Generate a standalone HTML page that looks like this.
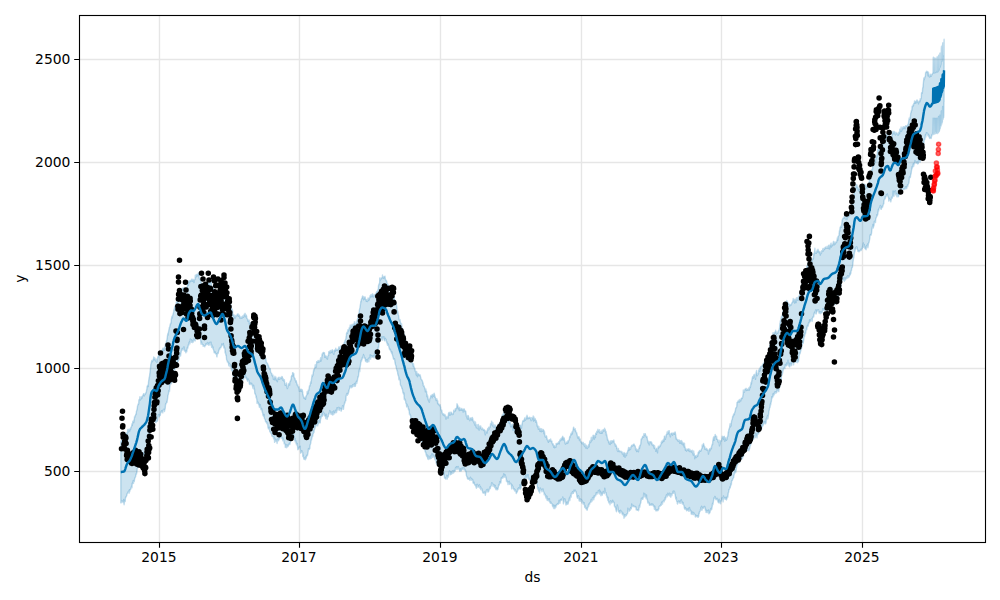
<!DOCTYPE html>
<html><head><meta charset="utf-8"><title>forecast</title>
<style>
html,body{margin:0;padding:0;background:#fff;}
svg{display:block}
text{font-family:"DejaVu Sans","Liberation Sans",sans-serif;font-size:13.89px;fill:#000}
</style></head><body>
<svg width="1000" height="600" viewBox="0 0 1000 600">
<rect width="1000" height="600" fill="#fff"/>
<path d="M159.50 15.5V542.5M299.50 15.5V542.5M440.50 15.5V542.5M581.50 15.5V542.5M721.50 15.5V542.5M862.50 15.5V542.5M79.5 59.50H985.5M79.5 162.50H985.5M79.5 265.50H985.5M79.5 368.50H985.5M79.5 471.50H985.5" stroke="#808080" stroke-opacity="0.2" stroke-width="1.39" fill="none"/>
<path d="M120.8 441.8L121.0 442.0L121.2 441.2L121.4 440.4L121.6 440.6L122.1 440.3L122.3 441.7L122.5 443.0L122.7 441.1L122.9 440.7L123.5 441.9L123.7 441.9L123.9 441.2L124.1 440.1L124.3 440.9L124.8 440.4L125.0 437.9L125.2 437.5L125.4 435.5L125.6 435.1L126.2 433.2L126.4 434.1L126.6 433.1L126.8 434.2L127.0 434.0L127.5 432.0L127.7 429.4L127.9 431.1L128.1 432.0L128.3 431.7L128.9 429.3L129.1 429.8L129.3 429.3L129.5 429.6L129.7 431.1L130.2 428.6L130.4 428.9L130.6 429.4L130.8 427.6L131.0 427.4L131.6 426.3L131.8 425.5L132.0 423.7L132.2 424.8L132.3 425.3L132.9 421.1L133.1 422.5L133.3 421.5L133.5 420.5L133.7 422.5L134.3 419.5L134.5 416.6L134.7 417.2L134.8 417.3L135.0 416.2L135.6 415.1L135.8 414.0L136.0 414.2L136.2 414.2L136.4 411.4L137.0 409.8L137.2 408.6L137.3 408.1L137.5 405.9L137.7 405.5L138.3 403.7L138.5 404.3L138.7 403.5L138.9 399.9L139.1 399.6L139.7 399.5L139.9 396.8L140.0 397.7L140.2 398.7L140.4 400.0L141.0 398.8L141.2 397.2L141.4 396.8L141.6 397.1L141.8 398.6L142.4 396.1L142.5 395.7L142.7 396.2L142.9 395.6L143.1 395.0L143.7 393.6L143.9 394.4L144.1 394.4L144.3 395.9L144.5 395.4L145.0 393.9L145.2 394.1L145.4 393.1L145.6 394.0L145.8 392.9L146.4 391.7L146.6 389.6L146.8 390.0L147.0 387.3L147.2 386.1L147.7 385.7L147.9 384.9L148.1 385.6L148.3 386.5L148.5 382.2L149.1 377.7L149.3 377.4L149.5 376.5L149.7 374.4L149.9 372.9L150.4 369.2L150.6 367.3L150.8 364.2L151.0 363.8L151.2 362.9L151.8 360.5L152.0 361.2L152.2 360.4L152.4 361.8L152.6 361.1L153.1 360.0L153.3 359.2L153.5 359.0L153.7 357.0L153.9 357.9L154.5 359.4L154.7 357.6L154.9 360.0L155.1 358.4L155.2 360.4L155.8 359.9L156.0 361.4L156.2 360.6L156.4 359.2L156.6 362.2L157.2 361.9L157.4 359.6L157.6 358.5L157.7 357.7L157.9 356.7L158.5 356.8L158.7 354.9L158.9 354.5L159.1 353.4L159.3 352.9L159.9 351.9L160.1 354.2L160.3 353.1L160.4 353.6L160.6 352.3L161.2 350.6L161.4 350.6L161.6 350.4L161.8 350.7L162.0 350.2L162.6 349.4L162.8 348.2L162.9 349.1L163.1 351.5L163.3 349.1L163.9 348.0L164.1 349.7L164.3 350.4L164.5 347.3L164.7 347.6L165.3 345.5L165.4 344.0L165.6 345.7L165.8 344.7L166.0 343.6L166.6 340.5L166.8 340.7L167.0 339.0L167.2 338.1L167.4 336.0L167.9 333.4L168.1 335.0L168.3 332.7L168.5 332.1L168.7 330.9L169.3 327.8L169.5 327.1L169.7 327.4L169.9 325.8L170.1 325.0L170.6 323.3L170.8 323.9L171.0 322.8L171.2 321.3L171.4 319.1L172.0 316.2L172.2 318.0L172.4 317.5L172.6 315.5L172.8 315.2L173.3 313.1L173.5 312.4L173.7 311.4L173.9 309.5L174.1 310.2L174.7 306.3L174.9 307.6L175.1 307.3L175.3 307.6L175.5 308.4L176.0 306.4L176.2 302.7L176.4 301.7L176.6 303.7L176.8 302.1L177.4 302.0L177.6 302.2L177.8 298.9L178.0 297.9L178.1 300.1L178.7 298.9L178.9 298.0L179.1 297.5L179.3 295.8L179.5 294.6L180.1 294.2L180.3 292.9L180.5 291.9L180.6 293.7L180.8 293.2L181.4 292.0L181.6 290.0L181.8 289.5L182.0 288.8L182.2 288.6L182.8 288.6L183.0 287.7L183.2 288.7L183.3 289.3L183.5 290.4L184.1 287.5L184.3 289.3L184.5 289.0L184.7 288.7L184.9 287.4L185.5 289.3L185.7 291.0L185.8 290.5L186.0 290.5L186.2 290.6L186.8 291.7L187.0 289.7L187.2 286.6L187.4 286.9L187.6 284.6L188.2 280.9L188.3 283.6L188.5 285.4L188.7 283.4L188.9 281.2L189.5 280.7L189.7 282.6L189.9 281.7L190.1 281.0L190.3 280.6L190.8 280.5L191.0 281.3L191.2 281.1L191.4 280.4L191.6 279.2L192.2 280.6L192.4 280.1L192.6 281.4L192.8 279.3L193.0 280.1L193.5 280.3L193.7 279.5L193.9 282.6L194.1 282.3L194.3 279.9L194.9 279.7L195.1 278.4L195.3 275.1L195.5 277.4L195.7 277.4L196.2 276.1L196.4 274.5L196.6 274.8L196.8 275.1L197.0 276.2L197.6 274.6L197.8 274.2L198.0 275.4L198.2 273.4L198.4 272.9L198.9 273.5L199.1 277.6L199.3 278.4L199.5 278.8L199.7 278.9L200.3 279.8L200.5 280.2L200.7 280.3L200.9 280.9L201.0 282.1L201.6 285.1L201.8 284.5L202.0 283.6L202.2 283.0L202.4 283.6L203.0 286.5L203.2 285.7L203.4 284.9L203.5 284.3L203.7 283.6L204.3 285.0L204.5 286.1L204.7 284.9L204.9 284.7L205.1 284.8L205.7 284.5L205.9 282.7L206.1 283.6L206.2 283.6L206.4 284.9L207.0 283.3L207.2 284.6L207.4 285.4L207.6 283.3L207.8 282.6L208.4 283.1L208.6 282.7L208.7 281.7L208.9 283.5L209.1 285.1L209.7 282.5L209.9 281.7L210.1 281.0L210.3 282.0L210.5 280.5L211.1 281.4L211.2 284.1L211.4 283.0L211.6 285.5L211.8 286.7L212.4 287.1L212.6 288.0L212.8 289.7L213.0 287.8L213.2 286.9L213.7 287.5L213.9 289.8L214.1 292.2L214.3 291.9L214.5 289.9L215.1 290.8L215.3 291.8L215.5 293.0L215.7 293.0L215.9 293.6L216.4 294.0L216.6 293.4L216.8 293.5L217.0 293.6L217.2 293.2L217.8 293.2L218.0 294.3L218.2 292.5L218.4 290.7L218.6 288.6L219.1 289.0L219.3 286.5L219.5 286.7L219.7 289.1L219.9 288.9L220.5 286.1L220.7 284.0L220.9 284.7L221.1 284.6L221.3 286.1L221.8 287.0L222.0 284.6L222.2 282.6L222.4 282.1L222.6 283.3L223.2 284.0L223.4 283.6L223.6 285.1L223.8 285.1L223.9 288.2L224.5 290.6L224.7 290.9L224.9 290.1L225.1 291.6L225.3 291.9L225.9 294.5L226.1 295.2L226.3 294.9L226.4 296.0L226.6 299.1L227.2 300.2L227.4 301.1L227.6 301.8L227.8 299.3L228.0 300.3L228.6 302.6L228.8 303.1L229.0 302.9L229.1 304.4L229.3 303.7L229.9 302.9L230.1 303.7L230.3 306.2L230.5 306.1L230.7 304.4L231.3 309.0L231.5 309.6L231.6 310.4L231.8 309.1L232.0 309.0L232.6 311.0L232.8 315.2L233.0 314.1L233.2 315.7L233.4 314.5L234.0 316.1L234.1 314.9L234.3 316.5L234.5 318.0L234.7 316.2L235.3 318.1L235.5 317.3L235.7 315.5L235.9 315.7L236.1 315.9L236.6 315.9L236.8 315.2L237.0 314.8L237.2 315.0L237.4 314.2L238.0 313.9L238.2 315.6L238.4 316.4L238.6 314.2L238.8 315.4L239.3 315.3L239.5 315.4L239.7 317.3L239.9 316.8L240.1 318.5L240.7 317.0L240.9 317.7L241.1 317.3L241.3 316.9L241.5 318.2L242.0 317.7L242.2 318.1L242.4 317.2L242.6 315.9L242.8 316.7L243.4 316.9L243.6 317.4L243.8 315.4L244.0 315.4L244.2 314.1L244.7 315.8L244.9 314.1L245.1 313.3L245.3 315.6L245.5 316.9L246.1 315.0L246.3 315.3L246.5 316.1L246.7 316.6L246.8 318.4L247.4 318.8L247.6 319.3L247.8 320.9L248.0 320.3L248.2 321.4L248.8 320.6L249.0 320.0L249.2 320.3L249.3 324.1L249.5 322.7L250.1 323.1L250.3 323.1L250.5 323.3L250.7 323.8L250.9 325.3L251.5 322.5L251.7 321.4L251.9 322.0L252.0 322.5L252.2 325.1L252.8 326.2L253.0 324.4L253.2 324.2L253.4 326.4L253.6 328.3L254.2 326.7L254.4 330.0L254.5 330.2L254.7 332.5L254.9 331.4L255.5 333.6L255.7 333.2L255.9 334.9L256.1 338.5L256.3 338.9L256.9 339.3L257.0 338.8L257.2 338.4L257.4 340.6L257.6 341.8L258.2 342.9L258.4 343.0L258.6 342.3L258.8 343.6L259.0 344.5L259.5 347.1L259.7 347.9L259.9 345.8L260.1 345.0L260.3 345.9L260.9 346.7L261.1 347.0L261.3 348.1L261.5 348.0L261.7 350.2L262.2 351.6L262.4 352.3L262.6 352.4L262.8 352.1L263.0 352.5L263.6 354.9L263.8 355.5L264.0 356.8L264.2 356.8L264.4 356.0L264.9 358.4L265.1 357.7L265.3 358.7L265.5 359.3L265.7 358.2L266.3 361.7L266.5 362.6L266.7 362.6L266.9 362.6L267.1 362.9L267.6 363.6L267.8 364.6L268.0 365.0L268.2 365.8L268.4 365.2L269.0 367.6L269.2 368.2L269.4 368.1L269.6 368.3L269.7 369.3L270.3 368.7L270.5 371.2L270.7 372.0L270.9 372.5L271.1 372.9L271.7 373.3L271.9 374.1L272.1 375.6L272.3 375.9L272.4 375.5L273.0 375.1L273.2 377.7L273.4 379.3L273.6 379.4L273.8 378.3L274.4 377.3L274.6 379.7L274.8 378.6L274.9 376.2L275.1 378.6L275.7 377.2L275.9 377.1L276.1 378.4L276.3 380.5L276.5 379.2L277.1 379.9L277.3 381.8L277.4 381.5L277.6 379.4L277.8 378.6L278.4 377.3L278.6 377.9L278.8 379.3L279.0 379.3L279.2 379.0L279.8 379.0L279.9 377.1L280.1 377.5L280.3 378.5L280.5 378.5L281.1 378.7L281.3 378.0L281.5 377.3L281.7 377.8L281.9 376.4L282.4 377.0L282.6 379.7L282.8 380.0L283.0 380.2L283.2 378.7L283.8 380.8L284.0 381.1L284.2 380.7L284.4 379.8L284.6 382.4L285.1 385.2L285.3 385.0L285.5 384.2L285.7 385.1L285.9 385.6L286.5 382.9L286.7 385.4L286.9 387.0L287.1 387.6L287.3 388.6L287.8 387.5L288.0 386.1L288.2 385.7L288.4 385.6L288.6 383.9L289.2 383.3L289.4 384.5L289.6 385.1L289.8 382.5L290.0 381.7L290.5 380.6L290.7 381.1L290.9 379.5L291.1 379.6L291.3 376.7L291.9 375.3L292.1 375.3L292.3 376.1L292.5 375.7L292.6 372.6L293.2 372.9L293.4 374.5L293.6 373.8L293.8 373.6L294.0 376.8L294.6 378.5L294.8 378.7L295.0 378.4L295.2 380.1L295.3 379.8L295.9 382.1L296.1 380.6L296.3 381.0L296.5 382.6L296.7 382.6L297.3 385.4L297.5 385.4L297.7 384.6L297.8 385.7L298.0 386.1L298.6 387.9L298.8 386.6L299.0 387.1L299.2 389.6L299.4 391.4L300.0 391.4L300.2 389.3L300.3 389.5L300.5 390.9L300.7 389.3L301.3 389.1L301.5 390.7L301.7 391.5L301.9 390.3L302.1 389.6L302.7 391.9L302.8 394.7L303.0 394.3L303.2 395.3L303.4 396.6L304.0 398.3L304.2 397.8L304.4 398.5L304.6 397.5L304.8 397.7L305.3 397.5L305.5 399.3L305.7 398.0L305.9 396.5L306.1 396.3L306.7 395.0L306.9 394.9L307.1 391.8L307.3 391.4L307.5 392.4L308.0 393.8L308.2 391.8L308.4 389.7L308.6 390.1L308.8 390.7L309.4 386.4L309.6 385.4L309.8 386.4L310.0 385.3L310.2 384.4L310.7 381.6L310.9 383.5L311.1 383.0L311.3 380.9L311.5 379.4L312.1 374.9L312.3 376.5L312.5 375.7L312.7 375.6L312.9 375.2L313.4 371.8L313.6 369.8L313.8 371.1L314.0 369.8L314.2 369.4L314.8 367.4L315.0 366.6L315.2 364.7L315.4 367.6L315.5 367.0L316.1 366.7L316.3 367.1L316.5 364.3L316.7 361.6L316.9 361.9L317.5 361.4L317.7 362.2L317.9 362.4L318.1 360.5L318.2 362.2L318.8 360.7L319.0 362.1L319.2 361.9L319.4 361.4L319.6 361.4L320.2 360.1L320.4 359.2L320.6 357.8L320.7 359.3L320.9 361.4L321.5 359.6L321.7 357.9L321.9 356.0L322.1 354.0L322.3 355.3L322.9 353.0L323.1 352.5L323.2 352.4L323.4 352.8L323.6 352.5L324.2 353.3L324.4 352.7L324.6 354.3L324.8 357.4L325.0 355.6L325.6 356.0L325.7 357.3L325.9 357.5L326.1 355.9L326.3 357.0L326.9 358.8L327.1 358.3L327.3 358.2L327.5 359.0L327.7 356.5L328.3 355.2L328.4 354.7L328.6 355.4L328.8 351.6L329.0 351.8L329.6 351.4L329.8 352.6L330.0 353.0L330.2 353.1L330.4 350.4L330.9 352.4L331.1 351.7L331.3 351.4L331.5 352.5L331.7 350.8L332.3 349.7L332.5 351.3L332.7 350.6L332.9 351.6L333.1 353.1L333.6 353.4L333.8 354.4L334.0 352.1L334.2 350.1L334.4 350.5L335.0 349.9L335.2 349.7L335.4 351.1L335.6 349.7L335.8 348.3L336.3 350.3L336.5 349.9L336.7 350.0L336.9 349.8L337.1 350.1L337.7 349.4L337.9 350.4L338.1 349.6L338.3 349.3L338.4 348.8L339.0 346.7L339.2 347.7L339.4 348.0L339.6 348.1L339.8 347.1L340.4 349.8L340.6 348.4L340.8 346.2L341.0 345.6L341.1 347.2L341.7 347.5L341.9 346.9L342.1 347.4L342.3 346.9L342.5 347.6L343.1 345.6L343.3 346.0L343.5 347.4L343.6 348.2L343.8 344.0L344.4 342.2L344.6 341.8L344.8 342.6L345.0 340.4L345.2 340.3L345.8 339.0L346.0 337.3L346.1 336.5L346.3 335.9L346.5 333.6L347.1 332.1L347.3 333.0L347.5 333.2L347.7 331.9L347.9 329.7L348.5 329.8L348.6 331.1L348.8 330.5L349.0 329.0L349.2 327.8L349.8 327.9L350.0 326.3L350.2 325.0L350.4 325.6L350.6 327.8L351.2 326.5L351.3 326.7L351.5 325.2L351.7 326.0L351.9 324.5L352.5 325.0L352.7 327.7L352.9 325.9L353.1 324.0L353.3 324.2L353.8 324.8L354.0 325.5L354.2 323.2L354.4 321.6L354.6 323.0L355.2 323.4L355.4 323.7L355.6 324.8L355.8 323.9L356.0 323.5L356.5 320.9L356.7 322.6L356.9 323.6L357.1 321.6L357.3 319.9L357.9 317.7L358.1 318.1L358.3 314.6L358.5 314.2L358.7 314.3L359.2 311.8L359.4 309.8L359.6 309.3L359.8 308.0L360.0 307.2L360.6 303.4L360.8 301.3L361.0 301.7L361.2 301.7L361.4 299.2L361.9 298.2L362.1 298.6L362.3 296.6L362.5 297.0L362.7 296.0L363.3 297.9L363.5 299.8L363.7 299.2L363.9 296.7L364.0 297.3L364.6 297.4L364.8 297.9L365.0 299.2L365.2 297.0L365.4 299.2L366.0 299.8L366.2 301.2L366.4 300.2L366.5 299.4L366.7 300.6L367.3 301.6L367.5 301.1L367.7 301.1L367.9 299.5L368.1 297.9L368.7 300.2L368.9 300.2L369.0 299.1L369.2 298.7L369.4 299.1L370.0 296.3L370.2 295.5L370.4 296.1L370.6 297.0L370.8 294.8L371.4 296.5L371.5 294.9L371.7 294.4L371.9 296.7L372.1 295.4L372.7 293.8L372.9 294.9L373.1 296.8L373.3 297.0L373.5 295.3L374.1 295.9L374.2 296.1L374.4 294.8L374.6 295.5L374.8 295.2L375.4 294.1L375.6 293.9L375.8 294.3L376.0 293.8L376.2 292.7L376.7 291.5L376.9 292.6L377.1 291.5L377.3 291.6L377.5 291.5L378.1 289.1L378.3 289.3L378.5 285.5L378.7 285.5L378.9 284.2L379.4 283.9L379.6 282.7L379.8 277.9L380.0 278.2L380.2 280.1L380.8 279.6L381.0 279.1L381.2 278.0L381.4 278.2L381.6 278.3L382.1 277.5L382.3 277.8L382.5 275.0L382.7 277.2L382.9 276.5L383.5 278.3L383.7 277.3L383.9 276.6L384.1 277.8L384.3 276.6L384.8 276.5L385.0 276.2L385.2 278.2L385.4 279.5L385.6 280.1L386.2 280.1L386.4 281.4L386.6 280.9L386.8 281.2L386.9 282.7L387.5 284.8L387.7 283.8L387.9 284.1L388.1 284.7L388.3 285.2L388.9 286.0L389.1 288.1L389.3 287.6L389.4 288.4L389.6 287.8L390.2 290.3L390.4 290.8L390.6 290.9L390.8 293.7L391.0 293.1L391.6 295.3L391.8 294.6L391.9 292.9L392.1 293.4L392.3 294.7L392.9 295.5L393.1 295.8L393.3 295.4L393.5 294.4L393.7 295.9L394.3 296.4L394.4 299.4L394.6 299.5L394.8 300.1L395.0 301.5L395.6 304.0L395.8 302.7L396.0 302.9L396.2 304.1L396.4 304.2L397.0 308.2L397.1 311.7L397.3 310.4L397.5 312.0L397.7 311.2L398.3 314.7L398.5 315.1L398.7 316.1L398.9 317.9L399.1 319.7L399.6 320.0L399.8 319.8L400.0 319.5L400.2 321.5L400.4 321.8L401.0 324.6L401.2 325.0L401.4 326.6L401.6 323.7L401.8 325.8L402.3 329.4L402.5 328.9L402.7 328.9L402.9 329.8L403.1 329.7L403.7 334.0L403.9 337.5L404.1 336.7L404.3 334.4L404.5 335.0L405.0 338.3L405.2 340.4L405.4 339.4L405.6 340.2L405.8 342.9L406.4 345.0L406.6 344.0L406.8 343.2L407.0 343.3L407.2 344.3L407.7 344.6L407.9 347.7L408.1 347.4L408.3 349.1L408.5 351.2L409.1 351.5L409.3 349.6L409.5 352.2L409.7 353.3L409.8 351.8L410.4 353.8L410.6 355.2L410.8 355.3L411.0 358.5L411.2 355.8L411.8 358.9L412.0 360.9L412.2 361.9L412.3 363.0L412.5 363.7L413.1 365.1L413.3 366.3L413.5 363.8L413.7 365.9L413.9 366.3L414.5 368.6L414.7 369.1L414.8 368.3L415.0 369.1L415.2 371.2L415.8 371.8L416.0 371.5L416.2 374.9L416.4 375.2L416.6 371.5L417.2 373.9L417.4 376.8L417.5 375.3L417.7 374.3L417.9 373.8L418.5 373.9L418.7 374.3L418.9 374.5L419.1 375.9L419.3 375.0L419.9 375.1L420.0 374.7L420.2 375.9L420.4 375.7L420.6 376.9L421.2 379.4L421.4 379.3L421.6 379.7L421.8 380.0L422.0 380.1L422.5 381.5L422.7 382.2L422.9 383.6L423.1 382.9L423.3 385.7L423.9 386.5L424.1 386.0L424.3 386.7L424.5 387.3L424.7 388.6L425.2 389.8L425.4 391.9L425.6 390.2L425.8 388.9L426.0 390.6L426.6 391.7L426.8 394.6L427.0 396.8L427.2 396.6L427.4 394.8L427.9 396.9L428.1 400.0L428.3 399.1L428.5 398.8L428.7 400.5L429.3 402.2L429.5 400.8L429.7 399.0L429.9 398.8L430.1 398.7L430.6 396.4L430.8 395.6L431.0 396.2L431.2 395.3L431.4 395.8L432.0 396.1L432.2 397.8L432.4 394.5L432.6 394.4L432.7 394.6L433.3 395.5L433.5 396.2L433.7 394.6L433.9 393.8L434.1 393.2L434.7 395.2L434.9 397.4L435.1 397.4L435.2 396.6L435.4 397.6L436.0 399.7L436.2 400.6L436.4 399.9L436.6 400.0L436.8 398.8L437.4 400.9L437.6 403.8L437.7 400.7L437.9 402.4L438.1 403.8L438.7 404.1L438.9 403.9L439.1 405.1L439.3 405.6L439.5 405.4L440.1 404.7L440.3 406.5L440.4 406.5L440.6 407.2L440.8 408.7L441.4 410.5L441.6 411.0L441.8 410.2L442.0 412.0L442.2 413.1L442.8 414.6L442.9 414.9L443.1 413.6L443.3 413.9L443.5 415.0L444.1 414.2L444.3 415.7L444.5 415.6L444.7 415.6L444.9 414.5L445.4 416.0L445.6 417.6L445.8 419.0L446.0 419.1L446.2 417.8L446.8 416.9L447.0 416.3L447.2 417.2L447.4 416.8L447.6 417.7L448.1 418.1L448.3 415.6L448.5 413.3L448.7 413.3L448.9 412.5L449.5 412.7L449.7 415.3L449.9 414.0L450.1 412.1L450.3 414.3L450.8 414.8L451.0 412.9L451.2 412.1L451.4 412.5L451.6 413.3L452.2 413.8L452.4 414.5L452.6 414.6L452.8 414.5L453.0 414.5L453.5 412.8L453.7 410.2L453.9 411.3L454.1 411.8L454.3 411.2L454.9 411.2L455.1 409.5L455.3 408.6L455.5 410.7L455.6 409.8L456.2 408.1L456.4 408.6L456.6 408.5L456.8 406.8L457.0 403.7L457.6 405.3L457.8 406.0L458.0 405.9L458.1 407.6L458.3 408.8L458.9 407.5L459.1 407.4L459.3 410.6L459.5 408.4L459.7 407.4L460.3 409.5L460.5 409.9L460.6 409.1L460.8 410.3L461.0 409.1L461.6 408.4L461.8 409.7L462.0 410.2L462.2 408.9L462.4 409.5L463.0 409.7L463.2 412.1L463.3 409.1L463.5 410.2L463.7 409.0L464.3 408.9L464.5 410.1L464.7 410.9L464.9 411.6L465.1 410.8L465.7 411.1L465.8 411.8L466.0 413.7L466.2 414.9L466.4 416.3L467.0 417.2L467.2 418.3L467.4 419.1L467.6 417.5L467.8 415.5L468.3 415.7L468.5 416.3L468.7 419.3L468.9 417.7L469.1 419.5L469.7 419.6L469.9 420.7L470.1 419.8L470.3 418.3L470.5 418.0L471.0 418.5L471.2 418.5L471.4 417.9L471.6 418.8L471.8 420.1L472.4 417.4L472.6 418.9L472.8 418.6L473.0 420.1L473.2 421.3L473.7 421.9L473.9 422.5L474.1 421.1L474.3 423.7L474.5 423.1L475.1 425.2L475.3 424.6L475.5 422.0L475.7 423.9L475.9 426.1L476.4 427.9L476.6 426.7L476.8 426.0L477.0 424.8L477.2 427.9L477.8 428.7L478.0 426.7L478.2 425.6L478.4 424.5L478.5 427.6L479.1 430.1L479.3 428.4L479.5 428.4L479.7 427.3L479.9 426.0L480.5 428.0L480.7 426.0L480.9 426.9L481.0 428.2L481.2 429.1L481.8 429.6L482.0 429.5L482.2 428.3L482.4 428.0L482.6 429.7L483.2 429.9L483.4 429.3L483.5 429.6L483.7 430.5L483.9 429.4L484.5 430.0L484.7 430.4L484.9 432.6L485.1 433.7L485.3 434.8L485.9 431.0L486.1 431.3L486.2 433.0L486.4 431.8L486.6 431.7L487.2 433.0L487.4 430.6L487.6 428.8L487.8 428.5L488.0 430.2L488.6 429.4L488.7 427.2L488.9 427.4L489.1 429.1L489.3 428.9L489.9 426.6L490.1 427.4L490.3 426.6L490.5 423.7L490.7 424.6L491.2 424.6L491.4 422.9L491.6 421.1L491.8 423.0L492.0 424.9L492.6 425.4L492.8 422.5L493.0 426.5L493.2 424.0L493.4 425.8L493.9 427.4L494.1 427.2L494.3 426.1L494.5 425.0L494.7 426.8L495.3 426.0L495.5 425.1L495.7 430.8L495.9 430.1L496.1 430.4L496.6 428.4L496.8 430.6L497.0 431.4L497.2 430.9L497.4 428.6L498.0 426.2L498.2 426.3L498.4 423.8L498.6 423.9L498.8 425.4L499.3 423.1L499.5 423.2L499.7 423.5L499.9 425.2L500.1 424.0L500.7 421.0L500.9 421.2L501.1 418.9L501.3 418.8L501.4 419.3L502.0 415.8L502.2 415.6L502.4 414.5L502.6 415.9L502.8 417.0L503.4 413.7L503.6 413.8L503.8 412.5L503.9 411.8L504.1 412.3L504.7 416.3L504.9 417.9L505.1 415.9L505.3 414.7L505.5 416.3L506.1 417.2L506.3 418.7L506.4 418.9L506.6 419.3L506.8 419.9L507.4 420.0L507.6 420.0L507.8 419.1L508.0 420.3L508.2 420.1L508.8 421.8L509.0 421.6L509.1 423.0L509.3 423.4L509.5 421.6L510.1 422.3L510.3 422.9L510.5 425.3L510.7 426.8L510.9 425.9L511.5 425.3L511.6 426.6L511.8 424.5L512.0 427.0L512.2 424.9L512.8 424.1L513.0 430.2L513.2 430.0L513.4 427.3L513.6 428.3L514.1 429.4L514.3 429.6L514.5 428.4L514.7 429.5L514.9 431.3L515.5 432.2L515.7 433.1L515.9 432.7L516.1 434.3L516.3 431.5L516.8 431.0L517.0 428.6L517.2 429.3L517.4 431.7L517.6 429.8L518.2 430.0L518.4 429.1L518.6 427.6L518.8 427.8L519.0 427.5L519.5 426.9L519.7 428.0L519.9 427.6L520.1 425.8L520.3 425.1L520.9 425.5L521.1 425.4L521.3 426.8L521.5 428.3L521.7 426.0L522.2 423.6L522.4 422.7L522.6 421.6L522.8 421.0L523.0 420.7L523.6 420.5L523.8 420.6L524.0 421.4L524.2 420.1L524.3 419.4L524.9 417.8L525.1 420.2L525.3 419.5L525.5 420.1L525.7 419.0L526.3 418.2L526.5 416.3L526.7 417.3L526.8 418.8L527.0 415.2L527.6 417.6L527.8 418.7L528.0 417.6L528.2 418.1L528.4 418.6L529.0 417.5L529.2 418.2L529.4 417.2L529.5 417.3L529.7 417.7L530.3 418.4L530.5 418.9L530.7 418.8L530.9 417.4L531.1 420.8L531.7 420.3L531.9 419.1L532.0 417.7L532.2 417.8L532.4 418.6L533.0 417.9L533.2 416.0L533.4 419.0L533.6 421.1L533.8 416.7L534.4 419.3L534.5 419.4L534.7 419.2L534.9 420.5L535.1 418.4L535.7 420.5L535.9 422.3L536.1 420.9L536.3 420.7L536.5 421.7L537.0 423.8L537.2 426.2L537.4 425.0L537.6 426.8L537.8 425.9L538.4 429.4L538.6 428.7L538.8 426.4L539.0 428.7L539.2 428.3L539.7 429.3L539.9 431.2L540.1 428.4L540.3 428.5L540.5 431.2L541.1 430.6L541.3 431.7L541.5 430.3L541.7 428.7L541.9 429.7L542.4 431.4L542.6 431.2L542.8 430.0L543.0 429.7L543.2 429.5L543.8 430.6L544.0 433.7L544.2 432.3L544.4 431.2L544.6 432.8L545.1 436.5L545.3 437.1L545.5 436.6L545.7 436.3L545.9 437.0L546.5 435.8L546.7 436.6L546.9 439.1L547.1 438.4L547.2 439.5L547.8 441.0L548.0 440.5L548.2 440.2L548.4 442.4L548.6 441.0L549.2 440.0L549.4 441.1L549.6 440.8L549.7 439.6L549.9 440.5L550.5 440.6L550.7 439.0L550.9 441.0L551.1 441.5L551.3 441.3L551.9 441.0L552.1 442.7L552.3 443.8L552.4 444.0L552.6 443.3L553.2 445.5L553.4 444.2L553.6 445.6L553.8 447.4L554.0 445.6L554.6 446.1L554.8 447.8L554.9 446.4L555.1 446.3L555.3 447.1L555.9 447.1L556.1 443.5L556.3 444.1L556.5 444.0L556.7 443.7L557.3 443.2L557.4 443.3L557.6 444.1L557.8 442.9L558.0 443.6L558.6 443.0L558.8 441.6L559.0 442.4L559.2 443.9L559.4 442.1L559.9 440.0L560.1 440.1L560.3 439.2L560.5 440.4L560.7 440.7L561.3 438.2L561.5 438.6L561.7 439.8L561.9 438.1L562.1 438.0L562.6 436.4L562.8 436.3L563.0 437.4L563.2 440.1L563.4 437.8L564.0 437.7L564.2 438.1L564.4 439.2L564.6 440.5L564.8 441.1L565.3 444.0L565.5 443.0L565.7 444.1L565.9 443.5L566.1 443.4L566.7 442.0L566.9 443.1L567.1 443.5L567.3 442.8L567.5 441.0L568.0 443.0L568.2 441.8L568.4 441.0L568.6 440.8L568.8 440.5L569.4 439.1L569.6 436.8L569.8 436.5L570.0 437.5L570.1 436.9L570.7 434.7L570.9 433.9L571.1 433.3L571.3 434.1L571.5 434.8L572.1 431.8L572.3 433.8L572.5 432.9L572.6 431.1L572.8 431.3L573.4 428.0L573.6 427.1L573.8 427.6L574.0 428.8L574.2 429.1L574.8 429.6L575.0 430.1L575.2 428.6L575.3 431.1L575.5 430.1L576.1 432.1L576.3 432.9L576.5 432.5L576.7 432.7L576.9 433.8L577.5 436.6L577.7 438.0L577.8 438.0L578.0 436.5L578.2 436.6L578.8 437.5L579.0 438.6L579.2 437.0L579.4 440.1L579.6 439.0L580.2 439.0L580.3 440.6L580.5 441.7L580.7 441.4L580.9 442.0L581.5 441.9L581.7 443.2L581.9 443.4L582.1 442.4L582.3 443.8L582.8 443.4L583.0 443.1L583.2 442.3L583.4 443.4L583.6 444.7L584.2 443.9L584.4 446.0L584.6 446.4L584.8 446.0L585.0 443.8L585.5 446.7L585.7 448.0L585.9 446.9L586.1 447.1L586.3 445.3L586.9 448.2L587.1 447.8L587.3 448.5L587.5 446.1L587.7 448.0L588.2 446.7L588.4 446.8L588.6 444.6L588.8 444.7L589.0 446.9L589.6 442.3L589.8 441.3L590.0 441.1L590.2 440.4L590.4 442.5L590.9 442.0L591.1 438.7L591.3 437.3L591.5 440.3L591.7 440.7L592.3 439.8L592.5 439.5L592.7 437.2L592.9 437.0L593.0 435.5L593.6 435.3L593.8 437.6L594.0 436.8L594.2 439.2L594.4 436.9L595.0 435.2L595.2 436.7L595.4 437.6L595.5 435.5L595.7 433.2L596.3 433.6L596.5 434.3L596.7 431.9L596.9 431.1L597.1 432.6L597.7 431.0L597.9 429.3L598.1 429.8L598.2 429.8L598.4 431.0L599.0 431.5L599.2 432.7L599.4 432.0L599.6 429.8L599.8 431.9L600.4 433.3L600.6 433.1L600.7 433.4L600.9 431.7L601.1 431.4L601.7 433.3L601.9 431.1L602.1 430.1L602.3 433.1L602.5 431.9L603.1 431.2L603.2 429.9L603.4 429.5L603.6 429.7L603.8 430.7L604.4 430.7L604.6 428.3L604.8 430.7L605.0 429.2L605.2 429.4L605.7 432.2L605.9 431.9L606.1 431.5L606.3 435.1L606.5 433.8L607.1 436.7L607.3 438.0L607.5 439.8L607.7 438.9L607.9 440.4L608.4 440.8L608.6 442.4L608.8 440.9L609.0 441.6L609.2 444.0L609.8 442.6L610.0 442.5L610.2 444.5L610.4 442.5L610.6 441.0L611.1 442.1L611.3 440.8L611.5 443.1L611.7 443.3L611.9 441.2L612.5 440.8L612.7 441.8L612.9 441.5L613.1 440.7L613.3 441.7L613.8 440.0L614.0 441.5L614.2 442.4L614.4 443.1L614.6 443.9L615.2 444.0L615.4 446.1L615.6 445.9L615.8 445.5L615.9 444.9L616.5 446.5L616.7 448.3L616.9 447.6L617.1 448.9L617.3 450.5L617.9 451.2L618.1 451.4L618.3 449.2L618.4 448.4L618.6 450.6L619.2 450.8L619.4 451.3L619.6 450.6L619.8 451.7L620.0 451.7L620.6 451.6L620.8 451.4L621.0 451.3L621.1 451.2L621.3 451.6L621.9 452.7L622.1 451.9L622.3 454.0L622.5 452.9L622.7 453.7L623.3 453.5L623.5 453.8L623.6 456.1L623.8 453.9L624.0 452.4L624.6 453.3L624.8 454.7L625.0 457.3L625.2 455.7L625.4 455.5L626.0 453.3L626.1 454.3L626.3 455.1L626.5 455.7L626.7 453.0L627.3 453.0L627.5 452.3L627.7 450.6L627.9 451.0L628.1 450.1L628.6 447.5L628.8 450.2L629.0 450.3L629.2 448.7L629.4 447.8L630.0 449.7L630.2 448.9L630.4 449.2L630.6 449.1L630.8 446.9L631.3 446.8L631.5 445.7L631.7 445.4L631.9 445.2L632.1 445.4L632.7 446.1L632.9 445.1L633.1 444.5L633.3 444.5L633.5 444.9L634.0 444.1L634.2 444.6L634.4 445.3L634.6 445.2L634.8 445.7L635.4 446.8L635.6 449.9L635.8 449.8L636.0 448.8L636.2 448.8L636.7 451.6L636.9 450.0L637.1 449.3L637.3 449.9L637.5 450.4L638.1 451.5L638.3 450.5L638.5 451.7L638.7 448.7L638.8 449.0L639.4 446.5L639.6 448.3L639.8 445.8L640.0 445.2L640.2 445.8L640.8 443.7L641.0 440.4L641.2 439.8L641.4 438.6L641.5 439.5L642.1 438.3L642.3 437.5L642.5 436.8L642.7 436.6L642.9 436.2L643.5 436.9L643.7 437.3L643.9 433.6L644.0 434.6L644.2 434.7L644.8 435.0L645.0 433.6L645.2 434.1L645.4 433.8L645.6 435.7L646.2 436.4L646.4 436.5L646.5 437.4L646.7 437.0L646.9 436.3L647.5 440.1L647.7 440.7L647.9 440.9L648.1 442.7L648.3 443.1L648.9 441.4L649.0 441.9L649.2 444.9L649.4 444.9L649.6 442.3L650.2 441.7L650.4 442.3L650.6 442.4L650.8 441.6L651.0 443.0L651.5 442.1L651.7 442.5L651.9 444.7L652.1 443.6L652.3 444.2L652.9 445.6L653.1 445.8L653.3 444.8L653.5 444.9L653.7 444.9L654.2 448.3L654.4 447.5L654.6 445.8L654.8 447.2L655.0 448.6L655.6 449.7L655.8 451.4L656.0 451.0L656.2 448.9L656.4 448.8L656.9 448.2L657.1 449.7L657.3 450.6L657.5 452.9L657.7 449.7L658.3 446.3L658.5 447.4L658.7 448.1L658.9 446.5L659.1 446.4L659.6 446.4L659.8 446.9L660.0 445.9L660.2 445.0L660.4 446.1L661.0 443.9L661.2 443.0L661.4 441.8L661.6 442.3L661.7 443.3L662.3 440.4L662.5 441.6L662.7 442.3L662.9 441.0L663.1 440.8L663.7 439.0L663.9 441.2L664.1 441.0L664.3 439.1L664.4 436.3L665.0 436.2L665.2 438.7L665.4 439.3L665.6 437.7L665.8 437.5L666.4 434.4L666.6 434.1L666.8 434.1L666.9 433.8L667.1 431.9L667.7 433.9L667.9 434.2L668.1 431.3L668.3 430.9L668.5 432.7L669.1 432.0L669.3 430.7L669.4 434.0L669.6 434.1L669.8 434.0L670.4 436.9L670.6 435.1L670.8 433.8L671.0 434.4L671.2 433.3L671.8 433.1L671.9 434.1L672.1 433.0L672.3 433.2L672.5 435.3L673.1 434.0L673.3 433.4L673.5 432.9L673.7 432.9L673.9 433.6L674.4 432.9L674.6 434.4L674.8 432.1L675.0 432.4L675.2 432.1L675.8 435.3L676.0 437.6L676.2 439.1L676.4 437.7L676.6 438.5L677.1 439.9L677.3 439.7L677.5 439.7L677.7 440.9L677.9 439.7L678.5 441.4L678.7 441.6L678.9 440.7L679.1 440.0L679.3 440.3L679.8 443.2L680.0 441.0L680.2 443.4L680.4 442.7L680.6 441.1L681.2 440.5L681.4 443.1L681.6 443.8L681.8 440.9L682.0 441.4L682.5 443.3L682.7 443.4L682.9 444.9L683.1 442.8L683.3 443.4L683.9 443.8L684.1 447.0L684.3 444.6L684.5 443.1L684.6 445.7L685.2 448.0L685.4 450.2L685.6 448.4L685.8 448.6L686.0 449.8L686.6 451.1L686.8 449.7L687.0 450.6L687.2 450.1L687.3 449.2L687.9 449.6L688.1 449.5L688.3 448.9L688.5 450.6L688.7 448.8L689.3 451.3L689.5 451.5L689.7 450.0L689.8 449.2L690.0 449.9L690.6 451.2L690.8 451.7L691.0 451.5L691.2 451.9L691.4 450.6L692.0 451.3L692.2 450.2L692.3 452.7L692.5 452.6L692.7 452.5L693.3 455.0L693.5 454.2L693.7 450.9L693.9 453.3L694.1 453.2L694.7 456.9L694.8 458.7L695.0 455.8L695.2 455.8L695.4 455.8L696.0 456.7L696.2 457.4L696.4 457.6L696.6 455.5L696.8 457.2L697.4 454.6L697.5 455.3L697.7 456.3L697.9 455.2L698.1 452.9L698.7 451.8L698.9 451.9L699.1 452.4L699.3 452.9L699.5 450.4L700.0 451.0L700.2 451.3L700.4 450.9L700.6 450.6L700.8 451.2L701.4 449.1L701.6 448.8L701.8 448.4L702.0 448.5L702.2 444.9L702.7 446.8L702.9 445.6L703.1 445.1L703.3 444.1L703.5 443.4L704.1 445.6L704.3 446.2L704.5 447.4L704.7 446.4L704.9 449.4L705.4 449.6L705.6 448.9L705.8 448.4L706.0 448.3L706.2 448.2L706.8 449.5L707.0 450.4L707.2 450.2L707.4 449.1L707.5 450.2L708.1 450.4L708.3 452.0L708.5 454.1L708.7 452.8L708.9 451.1L709.5 449.1L709.7 448.7L709.9 448.7L710.1 450.8L710.2 449.5L710.8 448.6L711.0 447.6L711.2 448.1L711.4 448.8L711.6 446.2L712.2 444.4L712.4 443.8L712.6 444.5L712.7 441.8L712.9 440.3L713.5 437.4L713.7 437.0L713.9 439.0L714.1 440.4L714.3 436.5L714.9 436.7L715.1 436.0L715.2 434.4L715.4 435.2L715.6 435.6L716.2 436.7L716.4 439.2L716.6 436.3L716.8 438.4L717.0 439.2L717.6 439.4L717.7 440.6L717.9 441.8L718.1 441.4L718.3 441.8L718.9 442.3L719.1 440.2L719.3 444.2L719.5 445.9L719.7 444.6L720.3 443.7L720.4 440.9L720.6 441.4L720.8 440.6L721.0 440.7L721.6 440.8L721.8 438.7L722.0 438.2L722.2 436.3L722.4 437.6L722.9 437.6L723.1 436.7L723.3 437.2L723.5 439.5L723.7 436.6L724.3 436.3L724.5 437.3L724.7 440.1L724.9 441.3L725.1 439.2L725.6 437.8L725.8 438.3L726.0 439.6L726.2 438.2L726.4 440.3L727.0 439.2L727.2 437.1L727.4 436.8L727.6 436.6L727.8 436.2L728.3 431.6L728.5 432.4L728.7 430.3L728.9 429.0L729.1 429.2L729.7 427.0L729.9 425.2L730.1 423.7L730.3 424.3L730.4 426.8L731.0 425.7L731.2 423.8L731.4 423.0L731.6 420.6L731.8 420.2L732.4 418.7L732.6 416.6L732.8 416.2L733.0 416.9L733.1 416.0L733.7 413.9L733.9 414.8L734.1 414.2L734.3 414.8L734.5 413.3L735.1 411.2L735.3 410.9L735.5 409.8L735.6 408.5L735.8 408.3L736.4 407.4L736.6 406.9L736.8 406.2L737.0 402.4L737.2 402.6L737.8 401.5L738.0 401.7L738.1 400.9L738.3 400.8L738.5 402.0L739.1 400.8L739.3 399.5L739.5 402.0L739.7 401.7L739.9 400.0L740.5 400.6L740.6 399.5L740.8 400.8L741.0 399.4L741.2 398.3L741.8 398.1L742.0 397.7L742.2 398.5L742.4 398.2L742.6 397.4L743.2 393.7L743.3 390.0L743.5 392.5L743.7 390.8L743.9 392.4L744.5 391.9L744.7 390.6L744.9 389.3L745.1 389.3L745.3 389.2L745.8 388.6L746.0 388.3L746.2 388.4L746.4 390.5L746.6 389.8L747.2 390.3L747.4 389.1L747.6 389.1L747.8 389.0L748.0 389.8L748.5 390.1L748.7 389.1L748.9 387.8L749.1 387.9L749.3 390.1L749.9 387.0L750.1 386.2L750.3 387.6L750.5 386.7L750.7 384.9L751.2 382.1L751.4 384.0L751.6 381.8L751.8 380.8L752.0 379.3L752.6 376.6L752.8 376.5L753.0 378.3L753.2 378.3L753.4 377.0L753.9 374.9L754.1 374.4L754.3 375.2L754.5 374.5L754.7 376.9L755.3 377.9L755.5 379.3L755.7 377.0L755.9 374.6L756.0 373.1L756.6 370.4L756.8 373.2L757.0 374.6L757.2 375.8L757.4 375.4L758.0 374.2L758.2 373.4L758.4 373.6L758.5 373.6L758.7 370.5L759.3 368.9L759.5 368.3L759.7 371.2L759.9 371.1L760.1 369.5L760.7 366.4L760.9 367.2L761.0 366.8L761.2 366.7L761.4 366.4L762.0 366.1L762.2 365.2L762.4 366.1L762.6 365.2L762.8 364.2L763.4 363.4L763.5 363.1L763.7 363.9L763.9 362.8L764.1 362.7L764.7 360.9L764.9 359.7L765.1 361.5L765.3 360.0L765.5 361.2L766.1 359.9L766.2 357.3L766.4 357.4L766.6 357.7L766.8 357.0L767.4 355.8L767.6 357.3L767.8 356.3L768.0 356.1L768.2 354.8L768.7 352.5L768.9 350.6L769.1 350.2L769.3 349.9L769.5 348.1L770.1 344.5L770.3 343.2L770.5 343.8L770.7 343.4L770.9 341.8L771.4 339.3L771.6 340.5L771.8 341.8L772.0 338.5L772.2 338.0L772.8 336.0L773.0 332.8L773.2 334.7L773.4 334.6L773.6 336.1L774.1 333.7L774.3 332.5L774.5 332.9L774.7 333.1L774.9 332.2L775.5 331.6L775.7 330.3L775.9 331.4L776.1 333.0L776.3 334.2L776.8 332.6L777.0 331.9L777.2 332.7L777.4 332.8L777.6 333.3L778.2 332.2L778.4 330.5L778.6 330.5L778.8 330.3L778.9 330.2L779.5 328.2L779.7 325.7L779.9 323.2L780.1 323.0L780.3 321.1L780.9 319.9L781.1 319.0L781.3 316.7L781.4 318.3L781.6 318.0L782.2 314.9L782.4 315.8L782.6 314.8L782.8 311.0L783.0 312.0L783.6 309.8L783.8 309.2L783.9 308.9L784.1 306.6L784.3 305.8L784.9 304.2L785.1 304.0L785.3 304.0L785.5 302.3L785.7 302.5L786.3 303.5L786.4 303.1L786.6 302.8L786.8 300.4L787.0 301.1L787.6 302.1L787.8 302.8L788.0 302.8L788.2 304.3L788.4 303.7L789.0 304.1L789.1 304.5L789.3 305.2L789.5 304.5L789.7 306.0L790.3 305.5L790.5 304.7L790.7 304.4L790.9 304.8L791.1 305.1L791.6 303.9L791.8 303.0L792.0 302.9L792.2 302.1L792.4 302.6L793.0 300.5L793.2 298.5L793.4 301.8L793.6 300.9L793.8 299.3L794.3 299.9L794.5 300.1L794.7 303.1L794.9 301.4L795.1 299.1L795.7 300.8L795.9 300.9L796.1 302.6L796.3 299.4L796.5 297.8L797.0 300.1L797.2 300.1L797.4 299.3L797.6 297.6L797.8 300.2L798.4 299.9L798.6 296.1L798.8 297.8L799.0 296.6L799.2 298.4L799.7 294.7L799.9 293.1L800.1 293.7L800.3 292.4L800.5 290.6L801.1 289.2L801.3 287.0L801.5 285.3L801.7 288.1L801.8 285.3L802.4 282.2L802.6 282.0L802.8 279.3L803.0 278.5L803.2 278.9L803.8 277.2L804.0 277.6L804.2 277.9L804.3 275.9L804.5 276.0L805.1 274.1L805.3 271.8L805.5 272.0L805.7 270.9L805.9 272.2L806.5 270.0L806.7 268.2L806.8 266.2L807.0 266.7L807.2 265.7L807.8 265.0L808.0 263.6L808.2 262.5L808.4 263.9L808.6 263.3L809.2 261.3L809.4 262.5L809.5 261.1L809.7 260.7L809.9 260.8L810.5 259.7L810.7 259.8L810.9 260.6L811.1 262.6L811.3 262.4L811.9 260.3L812.0 261.5L812.2 259.8L812.4 259.6L812.6 259.7L813.2 257.8L813.4 258.9L813.6 255.8L813.8 253.5L814.0 255.1L814.5 252.1L814.7 250.7L814.9 248.3L815.1 252.3L815.3 253.0L815.9 252.6L816.1 253.0L816.3 253.3L816.5 251.6L816.7 251.8L817.2 250.0L817.4 250.4L817.6 252.0L817.8 251.1L818.0 249.3L818.6 251.4L818.8 251.4L819.0 251.2L819.2 252.8L819.4 252.2L819.9 251.4L820.1 252.4L820.3 255.1L820.5 252.2L820.7 253.4L821.3 253.6L821.5 252.9L821.7 250.6L821.9 251.0L822.1 251.6L822.6 251.1L822.8 249.1L823.0 248.4L823.2 250.6L823.4 250.9L824.0 249.3L824.2 248.1L824.4 248.9L824.6 249.0L824.7 249.2L825.3 247.1L825.5 248.1L825.7 247.8L825.9 246.9L826.1 248.2L826.7 248.1L826.9 247.7L827.1 248.0L827.2 246.3L827.4 247.6L828.0 248.3L828.2 248.3L828.4 248.5L828.6 245.8L828.8 245.1L829.4 246.6L829.6 247.5L829.7 249.0L829.9 247.0L830.1 245.0L830.7 245.5L830.9 243.5L831.1 243.2L831.3 247.1L831.5 245.4L832.1 244.7L832.3 244.9L832.4 245.8L832.6 244.5L832.8 244.5L833.4 241.7L833.6 241.4L833.8 244.6L834.0 245.1L834.2 243.8L834.8 242.9L834.9 242.5L835.1 241.9L835.3 244.0L835.5 243.4L836.1 242.5L836.3 242.2L836.5 242.5L836.7 241.8L836.9 241.0L837.4 237.7L837.6 239.0L837.8 240.2L838.0 236.8L838.2 236.2L838.8 235.7L839.0 235.3L839.2 233.7L839.4 230.7L839.6 231.5L840.1 227.4L840.3 226.9L840.5 227.5L840.7 226.2L840.9 227.1L841.5 227.3L841.7 224.4L841.9 222.8L842.1 220.5L842.3 219.9L842.8 218.6L843.0 218.7L843.2 218.0L843.4 218.2L843.6 218.4L844.2 216.8L844.4 215.9L844.6 216.2L844.8 218.1L845.0 218.2L845.5 218.9L845.7 218.7L845.9 217.2L846.1 217.4L846.3 216.1L846.9 219.5L847.1 218.7L847.3 216.5L847.5 215.3L847.6 216.2L848.2 213.9L848.4 214.9L848.6 216.7L848.8 216.0L849.0 215.4L849.6 215.4L849.8 213.2L850.0 213.5L850.1 212.1L850.3 211.1L850.9 210.1L851.1 208.7L851.3 210.4L851.5 208.1L851.7 209.0L852.3 203.8L852.5 203.6L852.6 200.9L852.8 199.7L853.0 200.6L853.6 198.0L853.8 195.0L854.0 195.4L854.2 192.3L854.4 191.5L855.0 189.3L855.2 188.7L855.3 186.5L855.5 189.4L855.7 188.6L856.3 186.5L856.5 185.3L856.7 184.4L856.9 185.1L857.1 187.3L857.7 187.1L857.8 186.3L858.0 187.6L858.2 190.1L858.4 188.5L859.0 189.1L859.2 191.4L859.4 190.9L859.6 190.2L859.8 189.3L860.3 188.3L860.5 188.6L860.7 189.4L860.9 189.7L861.1 190.2L861.7 189.1L861.9 188.3L862.1 187.5L862.3 185.3L862.5 183.7L863.0 184.7L863.2 184.6L863.4 184.9L863.6 185.2L863.8 184.1L864.4 184.2L864.6 185.5L864.8 185.8L865.0 185.3L865.2 186.2L865.7 185.4L865.9 184.6L866.1 186.1L866.3 187.9L866.5 185.7L867.1 187.2L867.3 187.9L867.5 187.3L867.7 185.0L867.9 187.0L868.4 184.1L868.6 182.7L868.8 182.4L869.0 182.7L869.2 181.5L869.8 178.6L870.0 178.7L870.2 175.5L870.4 174.0L870.5 175.1L871.1 172.9L871.3 172.2L871.5 169.6L871.7 170.9L871.9 170.4L872.5 169.4L872.7 166.0L872.9 166.4L873.0 165.3L873.2 163.4L873.8 163.1L874.0 164.7L874.2 162.7L874.4 161.9L874.6 163.2L875.2 162.2L875.4 161.2L875.5 158.7L875.7 158.9L875.9 159.4L876.5 156.0L876.7 155.4L876.9 156.9L877.1 156.9L877.3 152.9L877.9 149.0L878.1 149.5L878.2 149.8L878.4 150.4L878.6 150.6L879.2 148.1L879.4 147.1L879.6 147.5L879.8 146.3L880.0 146.8L880.6 146.6L880.7 149.8L880.9 147.9L881.1 145.3L881.3 144.6L881.9 144.5L882.1 143.3L882.3 143.9L882.5 144.3L882.7 145.6L883.2 143.3L883.4 141.9L883.6 140.7L883.8 140.5L884.0 141.2L884.6 139.8L884.8 140.3L885.0 138.4L885.2 139.3L885.4 138.2L885.9 136.2L886.1 133.8L886.3 134.5L886.5 137.1L886.7 138.0L887.3 136.6L887.5 136.6L887.7 135.3L887.9 135.0L888.1 135.3L888.6 138.3L888.8 138.4L889.0 138.1L889.2 138.6L889.4 140.1L890.0 140.5L890.2 139.7L890.4 141.9L890.6 140.5L890.8 139.9L891.3 140.1L891.5 139.1L891.7 137.3L891.9 136.8L892.1 134.6L892.7 132.7L892.9 131.4L893.1 134.0L893.3 131.5L893.4 133.2L894.0 131.8L894.2 131.4L894.4 132.3L894.6 133.1L894.8 133.9L895.4 134.9L895.6 133.7L895.8 133.5L895.9 132.3L896.1 133.4L896.7 133.5L896.9 133.0L897.1 133.6L897.3 134.1L897.5 134.7L898.1 135.2L898.3 134.1L898.5 133.8L898.6 134.7L898.8 132.2L899.4 132.3L899.6 133.6L899.8 129.1L900.0 130.3L900.2 131.4L900.8 128.7L901.0 131.5L901.1 127.0L901.3 130.3L901.5 131.1L902.1 129.8L902.3 128.3L902.5 128.3L902.7 127.3L902.9 128.5L903.5 126.7L903.6 127.5L903.8 128.7L904.0 126.7L904.2 127.1L904.8 127.4L905.0 126.4L905.2 128.7L905.4 127.8L905.6 125.7L906.1 126.5L906.3 125.9L906.5 125.9L906.7 126.4L906.9 125.7L907.5 126.0L907.7 124.4L907.9 125.3L908.1 124.2L908.3 124.1L908.8 120.5L909.0 119.2L909.2 118.0L909.4 119.2L909.6 119.5L910.2 118.3L910.4 116.7L910.6 114.3L910.8 112.9L911.0 112.6L911.5 110.2L911.7 110.9L911.9 109.5L912.1 106.5L912.3 106.1L912.9 106.6L913.1 105.4L913.3 104.5L913.5 105.4L913.7 103.7L914.2 102.9L914.4 102.2L914.6 100.9L914.8 103.3L915.0 101.6L915.6 101.5L915.8 101.7L916.0 103.1L916.2 102.5L916.3 101.9L916.9 100.0L917.1 101.0L917.3 100.1L917.5 101.8L917.7 102.1L918.3 102.0L918.5 103.9L918.7 102.6L918.8 102.1L919.0 101.3L919.6 100.7L919.8 101.9L920.0 101.4L920.2 98.8L920.4 100.3L921.0 98.4L921.2 97.9L921.4 96.1L921.5 93.1L921.7 92.6L922.3 93.1L922.5 90.6L922.7 87.6L922.9 87.9L923.1 85.8L923.7 79.8L923.9 77.9L924.0 78.1L924.2 79.7L924.4 79.0L925.0 76.6L925.2 76.6L925.4 75.8L925.6 72.5L925.8 73.3L926.4 71.7L926.5 71.1L926.7 71.7L926.9 72.3L927.1 72.0L927.7 71.4L927.9 73.1L928.1 75.9L928.3 73.0L928.5 72.3L929.0 75.5L929.2 76.7L929.4 76.4L929.6 75.2L929.8 77.0L930.4 75.2L930.6 74.3L930.8 74.8L931.0 75.5L931.2 76.3L931.7 75.2L931.9 74.2L932.1 74.5L932.8 73.0L933.0 72.6L933.2 58.3L933.4 57.1L933.6 71.7L933.8 72.7L933.9 71.8L934.1 73.2L934.3 72.4L934.5 57.9L934.7 57.9L934.9 72.4L935.1 71.9L935.3 71.7L935.5 71.9L935.7 72.7L935.9 58.3L936.1 58.2L936.3 72.0L936.4 71.2L936.6 70.3L936.8 71.6L937.0 71.8L937.2 56.6L937.4 57.2L937.6 72.0L937.8 71.3L938.0 71.6L938.2 70.8L938.4 69.3L938.6 55.2L938.8 55.3L939.0 70.1L939.1 69.2L939.3 68.7L939.5 67.9L939.7 67.8L939.9 53.1L940.1 53.0L940.3 66.8L940.5 65.8L940.7 65.1L940.9 64.3L941.1 63.9L941.3 49.1L941.5 46.3L941.6 61.2L941.8 61.3L942.0 61.0L942.2 59.2L942.4 59.2L942.6 44.5L942.8 42.8L943.0 55.7L943.2 55.8L943.4 55.1L943.6 55.4L943.8 54.4L944.0 40.6L944.1 39.2L944.1 102.1L944.0 101.8L943.8 115.8L943.6 117.8L943.4 117.9L943.2 117.9L943.0 119.4L942.8 106.5L942.6 107.2L942.4 122.0L942.2 122.3L942.0 123.1L941.8 123.6L941.6 124.4L941.5 110.9L941.3 111.0L941.1 125.9L940.9 125.8L940.7 126.1L940.5 126.8L940.3 128.4L940.1 115.6L939.9 115.1L939.7 130.1L939.5 130.2L939.3 131.5L939.1 131.1L939.0 130.8L938.8 117.2L938.6 116.4L938.4 132.4L938.2 132.8L938.0 132.0L937.8 132.5L937.6 133.6L937.4 118.1L937.2 118.8L937.0 132.7L936.8 132.9L936.6 133.1L936.4 133.4L936.3 132.9L936.1 118.3L935.9 119.0L935.7 132.3L935.5 131.7L935.3 131.9L935.1 133.9L934.9 134.0L934.7 118.3L934.5 120.2L934.3 133.8L934.1 132.9L933.9 133.9L933.8 133.7L933.6 134.5L933.4 119.3L933.2 118.3L933.0 133.0L932.8 133.0L932.1 134.9L931.9 135.9L931.7 135.0L931.2 138.5L931.0 137.5L930.8 137.8L930.6 137.3L930.4 138.3L929.8 138.0L929.6 138.4L929.4 137.4L929.2 137.0L929.0 135.2L928.5 136.5L928.3 134.3L928.1 135.3L927.9 135.6L927.7 133.8L927.1 132.9L926.9 133.2L926.7 133.6L926.5 133.9L926.4 132.7L925.8 137.1L925.6 136.0L925.4 134.8L925.2 136.6L925.0 139.0L924.4 139.9L924.2 139.6L924.0 142.5L923.9 144.3L923.7 142.9L923.1 148.3L922.9 147.6L922.7 149.2L922.5 149.7L922.3 149.8L921.7 153.8L921.5 155.7L921.4 155.5L921.2 156.6L921.0 157.9L920.4 159.3L920.2 161.0L920.0 162.3L919.8 159.7L919.6 161.1L919.0 161.2L918.8 159.7L918.7 157.9L918.5 162.3L918.3 163.6L917.7 163.9L917.5 163.3L917.3 162.0L917.1 161.7L916.9 162.4L916.3 163.2L916.2 162.4L916.0 162.5L915.8 162.2L915.6 162.1L915.0 160.5L914.8 161.4L914.6 163.7L914.4 162.7L914.2 163.5L913.7 166.2L913.5 165.2L913.3 163.7L913.1 164.9L912.9 166.5L912.3 168.3L912.1 166.6L911.9 168.7L911.7 169.6L911.5 170.6L911.0 174.2L910.8 173.9L910.6 175.3L910.4 177.5L910.2 176.4L909.6 177.5L909.4 177.3L909.2 180.2L909.0 182.3L908.8 183.2L908.3 184.3L908.1 184.7L907.9 185.5L907.7 186.5L907.5 185.0L906.9 187.1L906.7 188.6L906.5 188.1L906.3 188.4L906.1 186.8L905.6 188.9L905.4 186.6L905.2 188.4L905.0 188.4L904.8 188.7L904.2 189.4L904.0 189.1L903.8 189.3L903.6 189.6L903.5 188.8L902.9 188.5L902.7 188.7L902.5 187.8L902.3 186.8L902.1 188.0L901.5 189.3L901.3 190.4L901.1 191.9L901.0 190.9L900.8 190.5L900.2 191.6L900.0 193.6L899.8 193.7L899.6 191.3L899.4 193.4L898.8 194.8L898.6 195.4L898.5 196.5L898.3 196.5L898.1 196.8L897.5 193.6L897.3 194.0L897.1 193.8L896.9 196.7L896.7 193.5L896.1 194.2L895.9 195.1L895.8 194.6L895.6 192.3L895.4 190.8L894.8 192.3L894.6 193.5L894.4 191.5L894.2 193.6L894.0 196.2L893.4 195.6L893.3 193.8L893.1 190.9L892.9 195.3L892.7 196.2L892.1 198.3L891.9 197.1L891.7 197.2L891.5 197.8L891.3 199.1L890.8 201.9L890.6 199.7L890.4 199.7L890.2 200.3L890.0 199.9L889.4 198.9L889.2 198.1L889.0 199.8L888.8 201.1L888.6 198.3L888.1 196.6L887.9 196.3L887.7 195.7L887.5 194.7L887.3 193.9L886.7 195.3L886.5 194.6L886.3 195.9L886.1 196.5L885.9 196.4L885.4 198.4L885.2 196.5L885.0 198.3L884.8 199.2L884.6 199.6L884.0 200.1L883.8 203.8L883.6 204.0L883.4 203.8L883.2 204.9L882.7 206.5L882.5 207.3L882.3 206.5L882.1 206.8L881.9 206.9L881.3 209.4L881.1 207.9L880.9 207.9L880.7 208.9L880.6 205.4L880.0 206.0L879.8 207.0L879.6 207.6L879.4 207.9L879.2 207.9L878.6 211.0L878.4 209.4L878.2 211.1L878.1 211.4L877.9 213.7L877.3 215.7L877.1 215.6L876.9 214.7L876.7 216.1L876.5 217.0L875.9 218.4L875.7 219.1L875.5 222.6L875.4 222.5L875.2 220.9L874.6 221.7L874.4 221.4L874.2 223.2L874.0 225.6L873.8 225.9L873.2 228.1L873.0 226.2L872.9 224.5L872.7 226.7L872.5 226.5L871.9 229.4L871.7 231.4L871.5 233.5L871.3 233.8L871.1 235.1L870.5 235.5L870.4 234.7L870.2 234.8L870.0 236.1L869.8 238.3L869.2 241.6L869.0 242.6L868.8 242.4L868.6 243.3L868.4 244.1L867.9 247.7L867.7 244.4L867.5 244.0L867.3 245.4L867.1 246.6L866.5 245.8L866.3 247.5L866.1 249.7L865.9 248.6L865.7 249.3L865.2 248.8L865.0 246.7L864.8 248.3L864.6 247.0L864.4 244.8L863.8 247.4L863.6 244.1L863.4 243.0L863.2 244.1L863.0 246.0L862.5 246.7L862.3 248.4L862.1 248.6L861.9 248.7L861.7 249.1L861.1 250.6L860.9 249.2L860.7 250.1L860.5 250.3L860.3 250.5L859.8 250.8L859.6 251.4L859.4 251.4L859.2 250.5L859.0 251.9L858.4 251.3L858.2 250.8L858.0 250.9L857.8 251.3L857.7 250.0L857.1 248.2L856.9 246.9L856.7 246.9L856.5 246.8L856.3 246.9L855.7 249.0L855.5 249.0L855.3 248.1L855.2 249.8L855.0 251.1L854.4 252.7L854.2 254.2L854.0 255.9L853.8 257.9L853.6 257.5L853.0 262.5L852.8 264.8L852.6 265.0L852.5 266.8L852.3 267.5L851.7 268.1L851.5 270.4L851.3 270.6L851.1 270.9L850.9 272.9L850.3 274.5L850.1 275.0L850.0 274.7L849.8 273.1L849.6 275.2L849.0 277.1L848.8 276.6L848.6 276.4L848.4 277.6L848.2 275.9L847.6 275.8L847.5 277.4L847.3 278.2L847.1 276.4L846.9 277.6L846.3 278.5L846.1 278.4L845.9 279.2L845.7 277.9L845.5 279.0L845.0 280.3L844.8 277.8L844.6 278.8L844.4 281.2L844.2 278.6L843.6 279.4L843.4 280.0L843.2 279.9L843.0 277.7L842.8 277.5L842.3 280.3L842.1 280.2L841.9 279.7L841.7 282.2L841.5 282.0L840.9 287.0L840.7 287.0L840.5 287.0L840.3 287.3L840.1 287.4L839.6 291.0L839.4 292.8L839.2 293.3L839.0 294.7L838.8 294.6L838.2 296.9L838.0 298.1L837.8 298.5L837.6 299.1L837.4 300.3L836.9 300.0L836.7 301.4L836.5 302.4L836.3 301.6L836.1 303.5L835.5 302.0L835.3 303.0L835.1 303.6L834.9 304.9L834.8 303.2L834.2 301.1L834.0 302.2L833.8 302.5L833.6 303.4L833.4 303.4L832.8 304.5L832.6 304.1L832.4 303.6L832.3 301.7L832.1 303.6L831.5 303.5L831.3 303.2L831.1 304.2L830.9 306.1L830.7 308.0L830.1 308.1L829.9 307.0L829.7 306.7L829.6 305.2L829.4 306.6L828.8 305.2L828.6 306.1L828.4 308.1L828.2 308.1L828.0 307.8L827.4 308.1L827.2 309.1L827.1 311.5L826.9 309.4L826.7 308.9L826.1 309.5L825.9 310.2L825.7 310.1L825.5 309.9L825.3 310.5L824.7 310.5L824.6 310.9L824.4 310.4L824.2 308.9L824.0 308.8L823.4 310.4L823.2 309.8L823.0 309.7L822.8 308.7L822.6 310.3L822.1 312.5L821.9 312.0L821.7 312.9L821.5 312.2L821.3 313.0L820.7 311.6L820.5 312.2L820.3 313.7L820.1 313.5L819.9 311.8L819.4 312.9L819.2 312.7L819.0 313.2L818.8 311.7L818.6 309.9L818.0 310.1L817.8 310.8L817.6 310.6L817.4 309.9L817.2 310.6L816.7 311.9L816.5 312.2L816.3 313.4L816.1 314.0L815.9 309.8L815.3 311.2L815.1 313.1L814.9 313.5L814.7 312.7L814.5 312.4L814.0 314.2L813.8 316.3L813.6 317.0L813.4 316.6L813.2 316.6L812.6 317.7L812.4 318.2L812.2 321.2L812.0 319.1L811.9 319.3L811.3 319.3L811.1 319.5L810.9 320.9L810.7 320.0L810.5 321.0L809.9 321.7L809.7 322.3L809.5 319.7L809.4 322.9L809.2 322.6L808.6 322.4L808.4 325.6L808.2 323.9L808.0 326.0L807.8 326.6L807.2 325.9L807.0 327.9L806.8 329.8L806.7 327.8L806.5 329.7L805.9 330.6L805.7 332.6L805.5 333.7L805.3 333.9L805.1 332.7L804.5 336.6L804.3 336.9L804.2 335.8L804.0 337.5L803.8 339.3L803.2 343.2L803.0 343.3L802.8 341.0L802.6 340.7L802.4 344.1L801.8 346.3L801.7 347.9L801.5 348.3L801.3 348.0L801.1 349.5L800.5 351.7L800.3 352.9L800.1 353.5L799.9 353.9L799.7 352.4L799.2 355.3L799.0 357.8L798.8 358.2L798.6 360.6L798.4 361.7L797.8 361.0L797.6 359.9L797.4 362.0L797.2 362.7L797.0 361.2L796.5 361.7L796.3 361.0L796.1 359.9L795.9 361.5L795.7 362.3L795.1 361.3L794.9 360.8L794.7 360.9L794.5 361.3L794.3 360.1L793.8 361.6L793.6 364.9L793.4 361.9L793.2 361.0L793.0 361.7L792.4 361.0L792.2 358.9L792.0 362.6L791.8 364.8L791.6 365.6L791.1 364.2L790.9 363.1L790.7 365.5L790.5 364.8L790.3 363.5L789.7 366.9L789.5 366.4L789.3 365.4L789.1 363.9L789.0 362.9L788.4 365.7L788.2 363.0L788.0 360.1L787.8 363.2L787.6 363.9L787.0 364.9L786.8 364.6L786.6 363.0L786.4 365.8L786.3 365.9L785.7 366.1L785.5 366.0L785.3 364.4L785.1 366.0L784.9 368.6L784.3 367.6L784.1 367.8L783.9 368.5L783.8 368.2L783.6 368.3L783.0 371.1L782.8 371.0L782.6 373.3L782.4 372.4L782.2 374.7L781.6 375.7L781.4 375.6L781.3 380.2L781.1 380.1L780.9 381.7L780.3 384.5L780.1 386.0L779.9 386.2L779.7 387.3L779.5 387.0L778.9 390.0L778.8 391.6L778.6 391.3L778.4 388.9L778.2 390.8L777.6 390.7L777.4 390.6L777.2 389.6L777.0 389.5L776.8 392.3L776.3 392.8L776.1 391.9L775.9 393.2L775.7 392.2L775.5 391.6L774.9 392.3L774.7 392.0L774.5 394.3L774.3 393.0L774.1 394.3L773.6 395.9L773.4 395.6L773.2 393.4L773.0 394.3L772.8 397.3L772.2 397.0L772.0 398.5L771.8 396.7L771.6 399.1L771.4 401.2L770.9 403.2L770.7 404.9L770.5 403.5L770.3 404.6L770.1 407.1L769.5 408.3L769.3 410.2L769.1 410.4L768.9 411.4L768.7 413.3L768.2 416.6L768.0 418.2L767.8 418.9L767.6 415.5L767.4 416.2L766.8 417.6L766.6 419.9L766.4 418.8L766.2 418.9L766.1 422.6L765.5 423.9L765.3 423.8L765.1 421.5L764.9 421.4L764.7 422.5L764.1 423.5L763.9 421.5L763.7 424.1L763.5 424.8L763.4 423.9L762.8 425.7L762.6 426.4L762.4 424.6L762.2 425.4L762.0 426.6L761.4 429.6L761.2 428.9L761.0 427.7L760.9 425.5L760.7 425.8L760.1 427.7L759.9 428.1L759.7 430.4L759.5 432.2L759.3 431.4L758.7 433.4L758.5 432.8L758.4 434.0L758.2 433.5L758.0 431.7L757.4 433.7L757.2 435.1L757.0 437.9L756.8 436.9L756.6 435.9L756.0 435.8L755.9 435.1L755.7 433.3L755.5 434.2L755.3 437.6L754.7 436.4L754.5 436.3L754.3 435.4L754.1 436.2L753.9 438.4L753.4 439.5L753.2 437.4L753.0 437.3L752.8 438.2L752.6 439.4L752.0 438.8L751.8 441.5L751.6 442.3L751.4 443.0L751.2 442.3L750.7 444.3L750.5 445.4L750.3 445.1L750.1 446.2L749.9 447.5L749.3 449.6L749.1 449.8L748.9 450.9L748.7 450.2L748.5 449.1L748.0 449.4L747.8 450.6L747.6 450.1L747.4 447.8L747.2 449.4L746.6 450.7L746.4 448.1L746.2 446.3L746.0 446.5L745.8 449.9L745.3 449.7L745.1 449.5L744.9 449.0L744.7 450.5L744.5 449.1L743.9 450.9L743.7 455.2L743.5 456.4L743.3 454.1L743.2 454.4L742.6 458.2L742.4 457.6L742.2 456.8L742.0 458.7L741.8 459.3L741.2 458.4L741.0 458.4L740.8 459.5L740.6 459.4L740.5 459.1L739.9 462.2L739.7 462.4L739.5 460.9L739.3 461.3L739.1 460.3L738.5 461.4L738.3 462.4L738.1 462.9L738.0 461.8L737.8 464.6L737.2 464.4L737.0 464.3L736.8 466.9L736.6 465.8L736.4 468.7L735.8 472.1L735.6 472.7L735.5 471.8L735.3 470.3L735.1 471.7L734.5 473.2L734.3 474.1L734.1 474.9L733.9 475.4L733.7 477.4L733.1 478.5L733.0 478.3L732.8 479.1L732.6 479.3L732.4 480.4L731.8 481.1L731.6 480.9L731.4 484.7L731.2 483.6L731.0 483.5L730.4 487.0L730.3 487.7L730.1 487.6L729.9 487.0L729.7 488.2L729.1 490.0L728.9 489.7L728.7 492.0L728.5 492.6L728.3 492.6L727.8 497.3L727.6 496.5L727.4 496.4L727.2 496.8L727.0 498.4L726.4 500.0L726.2 498.8L726.0 497.9L725.8 497.3L725.6 498.5L725.1 499.3L724.9 497.8L724.7 498.4L724.5 498.2L724.3 497.9L723.7 496.8L723.5 495.9L723.3 498.2L723.1 501.9L722.9 498.1L722.4 498.1L722.2 499.3L722.0 499.9L721.8 498.0L721.6 500.0L721.0 501.7L720.8 500.7L720.6 503.9L720.4 503.3L720.3 502.2L719.7 502.7L719.5 501.1L719.3 502.0L719.1 499.3L718.9 502.8L718.3 502.6L718.1 501.8L717.9 501.6L717.7 499.9L717.6 499.8L717.0 498.3L716.8 498.8L716.6 499.6L716.4 498.7L716.2 499.7L715.6 499.0L715.4 497.2L715.2 498.4L715.1 496.8L714.9 496.4L714.3 498.0L714.1 498.9L713.9 498.0L713.7 499.3L713.5 501.0L712.9 504.6L712.7 503.6L712.6 503.4L712.4 504.2L712.2 506.6L711.6 509.7L711.4 509.8L711.2 508.6L711.0 508.4L710.8 508.4L710.2 511.0L710.1 512.2L709.9 512.5L709.7 513.0L709.5 512.9L708.9 513.8L708.7 512.2L708.5 509.9L708.3 511.7L708.1 510.7L707.5 511.2L707.4 512.6L707.2 511.4L707.0 510.5L706.8 510.8L706.2 512.6L706.0 512.4L705.8 509.2L705.6 510.9L705.4 510.1L704.9 507.1L704.7 506.4L704.5 507.1L704.3 507.7L704.1 506.5L703.5 507.7L703.3 508.2L703.1 508.4L702.9 507.9L702.7 507.3L702.2 509.0L702.0 510.0L701.8 510.3L701.6 506.1L701.4 506.9L700.8 507.7L700.6 509.3L700.4 509.7L700.2 510.9L700.0 511.5L699.5 511.6L699.3 513.7L699.1 512.9L698.9 513.2L698.7 516.1L698.1 517.4L697.9 515.4L697.7 516.2L697.5 517.0L697.4 516.8L696.8 515.8L696.6 516.2L696.4 516.5L696.2 515.8L696.0 515.2L695.4 517.0L695.2 516.4L695.0 514.4L694.8 514.5L694.7 514.5L694.1 513.0L693.9 512.9L693.7 512.7L693.5 512.4L693.3 514.7L692.7 513.9L692.5 512.2L692.3 513.0L692.2 511.9L692.0 514.5L691.4 513.3L691.2 514.0L691.0 510.8L690.8 511.1L690.6 510.2L690.0 511.1L689.8 509.7L689.7 508.8L689.5 507.5L689.3 509.1L688.7 511.2L688.5 508.2L688.3 509.8L688.1 510.0L687.9 510.5L687.3 509.9L687.2 509.0L687.0 510.1L686.8 510.3L686.6 510.9L686.0 508.1L685.8 509.4L685.6 509.1L685.4 507.4L685.2 509.1L684.6 509.0L684.5 507.9L684.3 508.0L684.1 506.3L683.9 505.5L683.3 504.2L683.1 502.4L682.9 502.9L682.7 502.2L682.5 504.1L682.0 503.0L681.8 501.0L681.6 502.5L681.4 501.1L681.2 499.7L680.6 503.2L680.4 501.0L680.2 501.4L680.0 501.9L679.8 502.0L679.3 503.1L679.1 501.8L678.9 500.8L678.7 501.1L678.5 502.1L677.9 501.9L677.7 501.9L677.5 504.1L677.3 503.6L677.1 501.6L676.6 501.2L676.4 498.2L676.2 497.3L676.0 499.1L675.8 499.1L675.2 495.2L675.0 494.2L674.8 493.6L674.6 492.2L674.4 491.4L673.9 491.1L673.7 492.9L673.5 493.3L673.3 493.3L673.1 491.1L672.5 493.7L672.3 493.9L672.1 494.0L671.9 495.6L671.8 494.5L671.2 494.1L671.0 496.2L670.8 497.2L670.6 495.5L670.4 493.9L669.8 493.5L669.6 493.2L669.4 496.0L669.3 496.1L669.1 495.2L668.5 495.2L668.3 494.8L668.1 493.7L667.9 493.2L667.7 494.6L667.1 496.8L666.9 494.4L666.8 495.3L666.6 495.9L666.4 494.9L665.8 497.9L665.6 498.7L665.4 499.5L665.2 497.5L665.0 499.6L664.4 500.6L664.3 500.5L664.1 501.8L663.9 500.5L663.7 500.3L663.1 501.5L662.9 501.3L662.7 502.0L662.5 504.1L662.3 501.9L661.7 503.0L661.6 502.1L661.4 504.5L661.2 505.4L661.0 504.1L660.4 505.5L660.2 506.1L660.0 506.3L659.8 506.0L659.6 506.0L659.1 506.5L658.9 508.9L658.7 509.2L658.5 509.1L658.3 510.1L657.7 510.8L657.5 510.3L657.3 509.8L657.1 509.6L656.9 510.0L656.4 510.6L656.2 511.0L656.0 511.0L655.8 509.6L655.6 510.3L655.0 508.2L654.8 506.1L654.6 507.9L654.4 509.2L654.2 507.6L653.7 505.4L653.5 506.3L653.3 505.0L653.1 504.5L652.9 504.3L652.3 505.2L652.1 504.8L651.9 503.8L651.7 505.1L651.5 504.7L651.0 505.3L650.8 504.3L650.6 504.9L650.4 505.0L650.2 504.5L649.6 505.2L649.4 505.2L649.2 503.2L649.0 503.6L648.9 502.4L648.3 502.3L648.1 503.1L647.9 501.7L647.7 502.6L647.5 500.3L646.9 498.4L646.7 498.5L646.5 495.0L646.4 496.8L646.2 498.8L645.6 496.4L645.4 496.8L645.2 494.2L645.0 494.0L644.8 494.3L644.2 495.8L644.0 497.1L643.9 493.1L643.7 493.2L643.5 495.9L642.9 499.2L642.7 497.6L642.5 499.4L642.3 499.4L642.1 498.3L641.5 499.1L641.4 498.1L641.2 500.7L641.0 501.0L640.8 502.8L640.2 504.2L640.0 505.6L639.8 507.2L639.6 505.5L639.4 505.4L638.8 509.8L638.7 509.3L638.5 510.7L638.3 509.5L638.1 510.2L637.5 510.2L637.3 510.0L637.1 509.7L636.9 509.6L636.7 509.5L636.2 509.9L636.0 507.1L635.8 506.7L635.6 507.6L635.4 507.0L634.8 506.3L634.6 506.8L634.4 506.7L634.2 506.4L634.0 506.6L633.5 506.5L633.3 505.4L633.1 506.1L632.9 506.7L632.7 505.4L632.1 505.3L631.9 505.8L631.7 503.9L631.5 506.7L631.3 508.7L630.8 508.2L630.6 507.7L630.4 510.1L630.2 509.0L630.0 508.8L629.4 510.7L629.2 511.3L629.0 510.6L628.8 510.1L628.6 509.6L628.1 509.6L627.9 508.3L627.7 512.6L627.5 513.9L627.3 513.6L626.7 513.8L626.5 515.2L626.3 515.7L626.1 515.3L626.0 514.6L625.4 515.3L625.2 516.5L625.0 516.7L624.8 514.8L624.6 515.5L624.0 518.2L623.8 515.1L623.6 515.3L623.5 514.0L623.3 513.1L622.7 514.0L622.5 514.8L622.3 514.2L622.1 513.8L621.9 511.9L621.3 511.5L621.1 510.9L621.0 511.3L620.8 512.6L620.6 510.3L620.0 511.5L619.8 513.2L619.6 512.6L619.4 510.7L619.2 512.2L618.6 511.7L618.4 509.9L618.3 510.6L618.1 509.8L617.9 507.3L617.3 504.9L617.1 508.5L616.9 509.4L616.7 509.4L616.5 511.8L615.9 509.9L615.8 508.7L615.6 508.1L615.4 506.9L615.2 507.5L614.6 506.1L614.4 506.2L614.2 502.9L614.0 502.3L613.8 502.7L613.3 501.3L613.1 501.7L612.9 501.4L612.7 500.3L612.5 502.5L611.9 501.6L611.7 502.2L611.5 503.1L611.3 503.0L611.1 501.3L610.6 500.7L610.4 501.7L610.2 502.5L610.0 504.7L609.8 502.2L609.2 502.2L609.0 503.0L608.8 502.1L608.6 502.2L608.4 500.1L607.9 497.2L607.7 500.2L607.5 497.5L607.3 497.5L607.1 497.8L606.5 494.6L606.3 495.5L606.1 492.8L605.9 492.8L605.7 492.8L605.2 491.7L605.0 490.3L604.8 488.2L604.6 490.8L604.4 493.6L603.8 492.8L603.6 492.9L603.4 491.7L603.2 491.4L603.1 492.8L602.5 493.8L602.3 494.5L602.1 495.2L601.9 495.0L601.7 492.9L601.1 495.0L600.9 495.7L600.7 492.7L600.6 491.4L600.4 493.4L599.8 491.6L599.6 490.0L599.4 494.0L599.2 493.2L599.0 492.3L598.4 490.5L598.2 491.4L598.1 492.7L597.9 492.5L597.7 493.1L597.1 493.3L596.9 494.3L596.7 493.1L596.5 494.3L596.3 492.4L595.7 495.8L595.5 495.5L595.4 495.1L595.2 495.5L595.0 495.5L594.4 497.5L594.2 498.0L594.0 496.0L593.8 499.8L593.6 498.5L593.0 498.0L592.9 497.4L592.7 497.6L592.5 497.7L592.3 500.2L591.7 501.8L591.5 499.7L591.3 499.4L591.1 499.8L590.9 501.8L590.4 502.5L590.2 502.6L590.0 502.4L589.8 503.5L589.6 504.3L589.0 503.7L588.8 506.2L588.6 504.9L588.4 504.8L588.2 506.7L587.7 507.9L587.5 508.0L587.3 509.7L587.1 510.3L586.9 509.4L586.3 509.0L586.1 507.7L585.9 507.8L585.7 508.6L585.5 506.7L585.0 505.6L584.8 507.5L584.6 506.7L584.4 504.0L584.2 502.7L583.6 503.6L583.4 503.0L583.2 504.2L583.0 502.9L582.8 501.6L582.3 501.0L582.1 502.8L581.9 502.9L581.7 500.3L581.5 499.5L580.9 499.7L580.7 500.0L580.5 501.2L580.3 499.8L580.2 498.8L579.6 499.6L579.4 501.1L579.2 500.8L579.0 499.9L578.8 496.5L578.2 495.8L578.0 498.4L577.8 496.8L577.7 497.3L577.5 498.3L576.9 496.5L576.7 494.2L576.5 493.5L576.3 492.3L576.1 491.8L575.5 490.8L575.3 490.2L575.2 491.2L575.0 490.1L574.8 491.6L574.2 491.6L574.0 490.1L573.8 490.1L573.6 491.5L573.4 493.4L572.8 491.8L572.6 492.2L572.5 491.6L572.3 493.8L572.1 493.4L571.5 493.4L571.3 493.2L571.1 497.1L570.9 497.4L570.7 495.6L570.1 497.0L570.0 499.7L569.8 500.5L569.6 499.0L569.4 497.9L568.8 501.1L568.6 501.2L568.4 502.5L568.2 503.4L568.0 504.1L567.5 504.3L567.3 502.2L567.1 502.1L566.9 503.1L566.7 503.6L566.1 505.0L565.9 505.0L565.7 501.8L565.5 502.3L565.3 500.7L564.8 498.8L564.6 500.8L564.4 498.9L564.2 499.5L564.0 501.1L563.4 503.8L563.2 500.6L563.0 498.1L562.8 497.0L562.6 498.3L562.1 498.6L561.9 499.8L561.7 500.1L561.5 499.3L561.3 500.4L560.7 499.4L560.5 501.3L560.3 500.5L560.1 502.3L559.9 503.3L559.4 501.8L559.2 500.3L559.0 500.5L558.8 502.2L558.6 503.9L558.0 504.3L557.8 504.2L557.6 503.4L557.4 504.0L557.3 503.7L556.7 505.2L556.5 505.6L556.3 504.6L556.1 505.3L555.9 507.2L555.3 506.1L555.1 507.9L554.9 508.6L554.8 505.5L554.6 506.6L554.0 508.6L553.8 506.3L553.6 504.9L553.4 508.0L553.2 506.6L552.6 506.3L552.4 505.7L552.3 504.0L552.1 503.9L551.9 503.6L551.3 503.5L551.1 503.5L550.9 502.2L550.7 502.1L550.5 503.4L549.9 502.2L549.7 501.9L549.6 501.8L549.4 498.6L549.2 500.2L548.6 500.0L548.4 500.8L548.2 498.8L548.0 498.8L547.8 499.3L547.2 500.4L547.1 497.1L546.9 496.6L546.7 496.0L546.5 498.9L545.9 497.6L545.7 497.0L545.5 496.0L545.3 494.3L545.1 494.5L544.6 494.1L544.4 493.9L544.2 494.8L544.0 492.2L543.8 492.2L543.2 490.8L543.0 488.9L542.8 490.1L542.6 489.5L542.4 489.3L541.9 491.8L541.7 489.8L541.5 490.4L541.3 490.1L541.1 489.2L540.5 488.9L540.3 488.0L540.1 490.4L539.9 491.0L539.7 493.1L539.2 491.2L539.0 491.2L538.8 491.3L538.6 491.1L538.4 487.7L537.8 487.3L537.6 489.0L537.4 487.3L537.2 484.9L537.0 483.7L536.5 482.4L536.3 482.0L536.1 481.6L535.9 478.5L535.7 478.6L535.1 480.3L534.9 479.8L534.7 481.8L534.5 480.6L534.4 478.5L533.8 479.3L533.6 479.1L533.4 477.6L533.2 475.8L533.0 477.9L532.4 477.5L532.2 478.7L532.0 479.5L531.9 477.2L531.7 475.3L531.1 477.5L530.9 478.1L530.7 479.1L530.5 481.2L530.3 480.0L529.7 480.4L529.5 479.8L529.4 478.9L529.2 478.2L529.0 479.6L528.4 478.3L528.2 474.8L528.0 476.1L527.8 476.6L527.6 477.8L527.0 474.5L526.8 476.1L526.7 477.4L526.5 479.3L526.3 477.1L525.7 478.2L525.5 475.5L525.3 476.8L525.1 478.6L524.9 481.4L524.3 481.5L524.2 483.9L524.0 483.7L523.8 481.1L523.6 479.7L523.0 482.6L522.8 482.6L522.6 482.7L522.4 484.8L522.2 484.8L521.7 483.3L521.5 483.1L521.3 485.5L521.1 487.7L520.9 487.9L520.3 489.3L520.1 486.9L519.9 484.8L519.7 488.5L519.5 488.8L519.0 488.5L518.8 488.7L518.6 487.7L518.4 488.4L518.2 489.8L517.6 489.0L517.4 491.8L517.2 491.7L517.0 491.9L516.8 492.4L516.3 493.5L516.1 492.6L515.9 491.3L515.7 491.3L515.5 490.2L514.9 489.6L514.7 491.0L514.5 489.0L514.3 489.3L514.1 489.8L513.6 488.9L513.4 488.5L513.2 488.7L513.0 486.6L512.8 486.7L512.2 484.9L512.0 486.9L511.8 487.7L511.6 488.9L511.5 486.1L510.9 483.5L510.7 483.3L510.5 483.9L510.3 483.6L510.1 483.5L509.5 484.4L509.3 481.1L509.1 481.7L509.0 483.0L508.8 482.3L508.2 481.9L508.0 484.6L507.8 482.0L507.6 481.4L507.4 482.4L506.8 480.2L506.6 480.5L506.4 481.3L506.3 479.2L506.1 478.3L505.5 476.0L505.3 475.8L505.1 474.8L504.9 477.4L504.7 476.5L504.1 474.4L503.9 476.3L503.8 473.6L503.6 474.4L503.4 476.9L502.8 478.1L502.6 476.4L502.4 477.2L502.2 477.8L502.0 478.3L501.4 478.7L501.3 477.7L501.1 480.8L500.9 482.3L500.7 483.1L500.1 482.7L499.9 481.6L499.7 481.5L499.5 483.9L499.3 485.1L498.8 484.6L498.6 485.2L498.4 487.2L498.2 487.4L498.0 489.0L497.4 489.7L497.2 489.3L497.0 488.6L496.8 489.3L496.6 488.0L496.1 489.9L495.9 489.3L495.7 488.9L495.5 487.3L495.3 485.5L494.7 487.0L494.5 487.5L494.3 486.3L494.1 484.7L493.9 485.3L493.4 484.3L493.2 485.7L493.0 486.3L492.8 484.1L492.6 484.1L492.0 482.8L491.8 483.5L491.6 482.9L491.4 485.5L491.2 486.0L490.7 486.5L490.5 487.7L490.3 488.6L490.1 486.7L489.9 487.1L489.3 489.8L489.1 488.9L488.9 490.2L488.7 491.3L488.6 491.3L488.0 492.2L487.8 491.5L487.6 490.8L487.4 489.8L487.2 489.3L486.6 490.4L486.4 490.0L486.2 492.2L486.1 491.6L485.9 492.1L485.3 495.3L485.1 492.8L484.9 493.3L484.7 493.4L484.5 491.9L483.9 492.7L483.7 492.5L483.5 492.6L483.4 492.6L483.2 493.3L482.6 492.1L482.4 490.7L482.2 490.7L482.0 489.6L481.8 488.6L481.2 488.2L481.0 488.3L480.9 489.8L480.7 489.2L480.5 486.6L479.9 488.3L479.7 486.1L479.5 484.8L479.3 484.7L479.1 485.7L478.5 486.8L478.4 486.2L478.2 487.2L478.0 487.3L477.8 485.5L477.2 484.2L477.0 484.6L476.8 484.4L476.6 486.8L476.4 488.3L475.9 486.8L475.7 485.8L475.5 485.5L475.3 484.9L475.1 485.3L474.5 484.2L474.3 483.9L474.1 482.1L473.9 482.8L473.7 483.3L473.2 483.2L473.0 482.8L472.8 480.2L472.6 479.4L472.4 480.2L471.8 479.0L471.6 478.8L471.4 480.2L471.2 479.1L471.0 478.5L470.5 477.2L470.3 478.2L470.1 480.0L469.9 480.4L469.7 479.3L469.1 478.3L468.9 478.7L468.7 478.2L468.5 478.5L468.3 479.4L467.8 478.9L467.6 478.4L467.4 478.5L467.2 477.1L467.0 476.9L466.4 475.5L466.2 473.7L466.0 472.5L465.8 470.9L465.7 471.8L465.1 469.5L464.9 470.4L464.7 469.6L464.5 470.0L464.3 468.0L463.7 467.7L463.5 468.3L463.3 468.2L463.2 469.6L463.0 468.9L462.4 469.2L462.2 467.7L462.0 468.8L461.8 469.1L461.6 469.9L461.0 471.1L460.8 470.6L460.6 469.9L460.5 468.7L460.3 471.0L459.7 471.3L459.5 469.7L459.3 469.1L459.1 469.6L458.9 469.0L458.3 466.6L458.1 466.4L458.0 467.1L457.8 469.0L457.6 467.7L457.0 467.1L456.8 469.4L456.6 468.1L456.4 466.7L456.2 467.7L455.6 468.2L455.5 467.8L455.3 469.1L455.1 471.3L454.9 470.8L454.3 471.9L454.1 470.8L453.9 470.4L453.7 470.8L453.5 473.1L453.0 471.5L452.8 470.7L452.6 470.9L452.4 471.1L452.2 473.6L451.6 472.9L451.4 474.2L451.2 474.3L451.0 471.9L450.8 474.4L450.3 474.8L450.1 471.8L449.9 471.4L449.7 472.6L449.5 470.6L448.9 473.3L448.7 475.4L448.5 477.1L448.3 475.7L448.1 475.6L447.6 476.8L447.4 477.3L447.2 479.1L447.0 477.1L446.8 475.3L446.2 478.0L446.0 478.7L445.8 478.2L445.6 479.1L445.4 478.4L444.9 477.6L444.7 478.1L444.5 478.1L444.3 475.2L444.1 473.0L443.5 471.9L443.3 471.9L443.1 474.8L442.9 474.3L442.8 474.0L442.2 470.1L442.0 470.6L441.8 471.6L441.6 471.3L441.4 470.3L440.8 470.1L440.6 468.2L440.4 467.0L440.3 468.1L440.1 467.3L439.5 466.7L439.3 464.4L439.1 464.7L438.9 464.7L438.7 466.9L438.1 464.8L437.9 463.9L437.7 463.2L437.6 463.9L437.4 462.5L436.8 464.6L436.6 462.6L436.4 462.5L436.2 463.1L436.0 460.8L435.4 457.2L435.2 458.1L435.1 459.9L434.9 459.4L434.7 458.0L434.1 456.9L433.9 455.4L433.7 457.1L433.5 456.9L433.3 455.4L432.7 454.5L432.6 456.2L432.4 457.4L432.2 455.3L432.0 453.6L431.4 458.3L431.2 455.7L431.0 455.3L430.8 456.9L430.6 458.6L430.1 458.7L429.9 458.7L429.7 458.9L429.5 458.2L429.3 457.0L428.7 456.1L428.5 456.4L428.3 459.5L428.1 458.4L427.9 459.2L427.4 457.2L427.2 454.9L427.0 455.6L426.8 455.3L426.6 456.2L426.0 454.1L425.8 452.4L425.6 452.4L425.4 451.4L425.2 452.0L424.7 448.8L424.5 448.2L424.3 446.4L424.1 449.2L423.9 447.8L423.3 445.0L423.1 444.1L422.9 443.5L422.7 443.6L422.5 441.2L422.0 442.0L421.8 441.3L421.6 442.0L421.4 440.5L421.2 439.7L420.6 439.4L420.4 438.0L420.2 438.8L420.0 435.6L419.9 436.3L419.3 437.2L419.1 436.8L418.9 436.6L418.7 434.8L418.5 435.5L417.9 433.9L417.7 434.2L417.5 433.7L417.4 435.7L417.2 436.1L416.6 434.0L416.4 433.9L416.2 432.9L416.0 431.3L415.8 432.8L415.2 431.7L415.0 430.4L414.8 431.3L414.7 432.1L414.5 431.6L413.9 428.0L413.7 427.8L413.5 426.0L413.3 425.3L413.1 423.8L412.5 422.4L412.3 425.0L412.2 423.9L412.0 423.8L411.8 425.0L411.2 420.9L411.0 419.2L410.8 418.0L410.6 415.4L410.4 415.6L409.8 414.0L409.7 413.8L409.5 414.6L409.3 412.5L409.1 409.2L408.5 410.0L408.3 408.7L408.1 407.3L407.9 406.1L407.7 406.7L407.2 406.3L407.0 404.2L406.8 407.0L406.6 406.5L406.4 404.3L405.8 402.9L405.6 400.7L405.4 400.8L405.2 399.1L405.0 399.1L404.5 399.2L404.3 399.7L404.1 397.1L403.9 392.9L403.7 394.5L403.1 392.8L402.9 392.5L402.7 390.8L402.5 389.3L402.3 389.1L401.8 388.2L401.6 386.9L401.4 386.5L401.2 386.1L401.0 386.0L400.4 384.7L400.2 382.0L400.0 379.8L399.8 380.4L399.6 379.5L399.1 377.6L398.9 379.8L398.7 376.7L398.5 375.8L398.3 375.9L397.7 373.7L397.5 371.2L397.3 370.8L397.1 371.2L397.0 370.6L396.4 368.2L396.2 367.7L396.0 366.2L395.8 365.5L395.6 365.0L395.0 362.8L394.8 361.0L394.6 359.5L394.4 358.8L394.3 359.5L393.7 358.7L393.5 359.2L393.3 358.3L393.1 357.1L392.9 356.5L392.3 354.2L392.1 352.1L391.9 351.8L391.8 353.6L391.6 353.2L391.0 351.5L390.8 350.7L390.6 350.9L390.4 349.3L390.2 350.1L389.6 349.0L389.4 349.3L389.3 348.3L389.1 348.1L388.9 347.1L388.3 344.2L388.1 344.7L387.9 343.7L387.7 344.1L387.5 345.2L386.9 341.8L386.8 343.0L386.6 342.5L386.4 341.0L386.2 339.6L385.6 339.1L385.4 338.3L385.2 340.1L385.0 339.6L384.8 340.8L384.3 340.2L384.1 338.9L383.9 336.6L383.7 336.8L383.5 338.0L382.9 339.0L382.7 337.3L382.5 336.9L382.3 340.2L382.1 337.8L381.6 337.0L381.4 338.7L381.2 339.3L381.0 339.2L380.8 339.6L380.2 340.9L380.0 339.8L379.8 341.0L379.6 340.1L379.4 340.0L378.9 344.3L378.7 347.1L378.5 348.4L378.3 347.0L378.1 347.8L377.5 350.5L377.3 352.3L377.1 351.8L376.9 351.2L376.7 351.3L376.2 354.6L376.0 352.9L375.8 352.0L375.6 353.8L375.4 356.4L374.8 356.3L374.6 353.1L374.4 355.2L374.2 357.1L374.1 357.9L373.5 356.5L373.3 356.3L373.1 355.8L372.9 356.5L372.7 356.7L372.1 357.3L371.9 356.2L371.7 355.4L371.5 356.8L371.4 356.3L370.8 356.5L370.6 359.1L370.4 356.9L370.2 354.8L370.0 358.0L369.4 358.0L369.2 359.1L369.0 360.0L368.9 361.8L368.7 358.2L368.1 359.1L367.9 359.6L367.7 361.6L367.5 360.1L367.3 362.3L366.7 361.2L366.5 359.7L366.4 359.8L366.2 359.8L366.0 361.7L365.4 360.8L365.2 358.3L365.0 358.9L364.8 357.4L364.6 358.4L364.0 356.4L363.9 355.5L363.7 356.6L363.5 354.5L363.3 355.6L362.7 358.7L362.5 357.4L362.3 357.5L362.1 359.2L361.9 359.3L361.4 361.5L361.2 360.1L361.0 361.2L360.8 361.9L360.6 364.3L360.0 368.2L359.8 371.6L359.6 369.3L359.4 370.4L359.2 369.7L358.7 374.2L358.5 376.1L358.3 377.0L358.1 376.5L357.9 376.8L357.3 381.4L357.1 380.2L356.9 383.2L356.7 382.0L356.5 381.4L356.0 382.5L355.8 383.2L355.6 385.1L355.4 384.8L355.2 386.4L354.6 385.2L354.4 383.4L354.2 384.5L354.0 386.5L353.8 384.5L353.3 384.6L353.1 385.3L352.9 384.7L352.7 385.0L352.5 386.9L351.9 387.2L351.7 387.8L351.5 387.3L351.3 386.0L351.2 385.8L350.6 387.4L350.4 386.9L350.2 386.1L350.0 385.9L349.8 388.3L349.2 389.5L349.0 390.6L348.8 391.8L348.6 390.7L348.5 392.8L347.9 394.4L347.7 393.7L347.5 393.9L347.3 395.3L347.1 393.3L346.5 394.6L346.3 395.8L346.1 396.0L346.0 397.9L345.8 400.7L345.2 401.3L345.0 402.8L344.8 402.6L344.6 402.6L344.4 403.9L343.8 406.4L343.6 407.9L343.5 409.3L343.3 408.5L343.1 406.8L342.5 405.8L342.3 407.6L342.1 408.0L341.9 409.3L341.7 409.4L341.1 411.2L341.0 408.9L340.8 408.2L340.6 409.3L340.4 409.0L339.8 408.3L339.6 410.2L339.4 410.2L339.2 409.1L339.0 407.4L338.4 407.6L338.3 407.5L338.1 409.0L337.9 410.0L337.7 409.3L337.1 407.6L336.9 409.4L336.7 411.7L336.5 412.6L336.3 410.4L335.8 410.8L335.6 412.2L335.4 410.2L335.2 412.3L335.0 413.0L334.4 412.9L334.2 413.0L334.0 413.5L333.8 414.4L333.6 411.0L333.1 412.7L332.9 415.0L332.7 414.6L332.5 415.0L332.3 412.0L331.7 412.2L331.5 412.3L331.3 414.1L331.1 414.4L330.9 413.4L330.4 412.7L330.2 411.7L330.0 412.4L329.8 410.4L329.6 411.7L329.0 414.1L328.8 413.4L328.6 413.9L328.4 415.0L328.3 416.6L327.7 416.8L327.5 417.3L327.3 418.0L327.1 419.3L326.9 418.3L326.3 416.4L326.1 414.3L325.9 417.3L325.7 418.6L325.6 416.6L325.0 416.1L324.8 415.9L324.6 415.3L324.4 413.4L324.2 413.5L323.6 412.8L323.4 412.5L323.2 412.0L323.1 414.3L322.9 415.3L322.3 416.3L322.1 413.8L321.9 415.6L321.7 416.4L321.5 416.0L320.9 418.5L320.7 416.4L320.6 418.5L320.4 420.7L320.2 422.9L319.6 422.9L319.4 422.1L319.2 422.7L319.0 420.4L318.8 420.4L318.2 424.2L318.1 424.2L317.9 422.5L317.7 425.9L317.5 423.6L316.9 423.9L316.7 423.1L316.5 423.7L316.3 425.3L316.1 424.3L315.5 427.1L315.4 427.1L315.2 425.0L315.0 427.2L314.8 428.7L314.2 430.1L314.0 432.4L313.8 431.2L313.6 430.6L313.4 433.4L312.9 434.2L312.7 436.3L312.5 435.0L312.3 436.9L312.1 436.7L311.5 440.2L311.3 439.2L311.1 440.5L310.9 441.8L310.7 443.4L310.2 444.7L310.0 445.8L309.8 448.7L309.6 448.8L309.4 449.2L308.8 449.7L308.6 448.5L308.4 448.9L308.2 451.5L308.0 452.6L307.5 455.5L307.3 455.3L307.1 455.2L306.9 456.2L306.7 455.2L306.1 458.4L305.9 456.8L305.7 457.5L305.5 459.8L305.3 459.3L304.8 458.3L304.6 458.0L304.4 459.2L304.2 459.5L304.0 459.4L303.4 456.7L303.2 455.0L303.0 456.5L302.8 456.5L302.7 452.5L302.1 451.3L301.9 450.8L301.7 452.0L301.5 451.0L301.3 452.3L300.7 453.2L300.5 450.3L300.3 449.0L300.2 446.2L300.0 447.8L299.4 447.3L299.2 447.6L299.0 447.3L298.8 447.6L298.6 448.9L298.0 449.6L297.8 449.7L297.7 448.0L297.5 446.2L297.3 443.5L296.7 443.4L296.5 444.9L296.3 443.2L296.1 443.7L295.9 440.8L295.3 442.1L295.2 441.1L295.0 438.4L294.8 439.1L294.6 440.4L294.0 436.3L293.8 437.2L293.6 434.6L293.4 434.5L293.2 436.6L292.6 436.0L292.5 434.4L292.3 433.7L292.1 435.3L291.9 436.4L291.3 438.0L291.1 439.0L290.9 436.5L290.7 440.2L290.5 441.6L290.0 443.8L289.8 444.6L289.6 444.4L289.4 443.1L289.2 444.1L288.6 444.4L288.4 445.7L288.2 446.0L288.0 446.6L287.8 445.0L287.3 446.7L287.1 446.5L286.9 446.8L286.7 447.7L286.5 445.2L285.9 444.4L285.7 446.9L285.5 447.3L285.3 447.4L285.1 444.3L284.6 443.5L284.4 442.9L284.2 443.8L284.0 442.1L283.8 440.3L283.2 439.8L283.0 438.0L282.8 440.7L282.6 439.1L282.4 438.4L281.9 437.1L281.7 438.2L281.5 437.8L281.3 436.2L281.1 437.2L280.5 436.9L280.3 436.8L280.1 436.2L279.9 437.6L279.8 438.2L279.2 439.3L279.0 437.8L278.8 439.5L278.6 440.7L278.4 440.5L277.8 440.2L277.6 439.2L277.4 439.0L277.3 440.6L277.1 443.5L276.5 440.2L276.3 440.0L276.1 440.5L275.9 440.1L275.7 441.3L275.1 439.8L274.9 438.3L274.8 439.7L274.6 442.4L274.4 439.3L273.8 436.4L273.6 438.9L273.4 437.2L273.2 437.0L273.0 436.4L272.4 436.3L272.3 436.5L272.1 436.3L271.9 436.0L271.7 434.9L271.1 432.9L270.9 432.7L270.7 433.1L270.5 432.7L270.3 432.0L269.7 431.4L269.6 428.7L269.4 427.1L269.2 427.8L269.0 428.4L268.4 428.9L268.2 427.6L268.0 427.7L267.8 425.5L267.6 423.7L267.1 422.8L266.9 423.7L266.7 422.5L266.5 421.8L266.3 422.5L265.7 421.5L265.5 421.6L265.3 419.7L265.1 419.3L264.9 419.2L264.4 418.3L264.2 416.9L264.0 414.4L263.8 415.0L263.6 416.4L263.0 415.4L262.8 414.0L262.6 412.3L262.4 412.6L262.2 411.9L261.7 408.7L261.5 408.6L261.3 410.0L261.1 409.9L260.9 409.2L260.3 405.0L260.1 404.6L259.9 404.4L259.7 407.1L259.5 407.5L259.0 405.3L258.8 403.5L258.6 404.5L258.4 403.8L258.2 402.2L257.6 402.2L257.4 402.7L257.2 402.3L257.0 403.3L256.9 400.1L256.3 396.5L256.1 397.8L255.9 395.6L255.7 395.0L255.5 394.3L254.9 393.7L254.7 392.3L254.5 389.0L254.4 389.8L254.2 389.3L253.6 385.2L253.4 386.3L253.2 386.7L253.0 388.5L252.8 387.3L252.2 384.9L252.0 384.8L251.9 384.4L251.7 383.3L251.5 384.6L250.9 384.6L250.7 383.6L250.5 383.8L250.3 383.0L250.1 384.0L249.5 384.4L249.3 383.4L249.2 383.0L249.0 380.4L248.8 380.5L248.2 379.0L248.0 380.1L247.8 380.2L247.6 381.2L247.4 380.8L246.8 378.8L246.7 379.4L246.5 377.1L246.3 378.6L246.1 378.6L245.5 376.7L245.3 373.9L245.1 374.1L244.9 375.9L244.7 377.2L244.2 377.7L244.0 376.4L243.8 377.1L243.6 379.1L243.4 379.8L242.8 379.0L242.6 379.4L242.4 378.9L242.2 378.8L242.0 378.3L241.5 379.1L241.3 379.9L241.1 378.3L240.9 377.5L240.7 377.1L240.1 377.7L239.9 376.9L239.7 376.7L239.5 376.4L239.3 376.7L238.8 376.4L238.6 376.1L238.4 374.6L238.2 376.0L238.0 378.1L237.4 375.2L237.2 374.1L237.0 378.1L236.8 378.7L236.6 376.5L236.1 376.6L235.9 377.4L235.7 378.7L235.5 377.9L235.3 378.7L234.7 375.4L234.5 377.2L234.3 379.7L234.1 378.7L234.0 375.3L233.4 374.3L233.2 376.5L233.0 374.7L232.8 372.2L232.6 371.0L232.0 371.0L231.8 369.9L231.6 367.1L231.5 370.4L231.3 368.3L230.7 366.4L230.5 365.0L230.3 364.7L230.1 366.8L229.9 364.4L229.3 363.3L229.1 364.0L229.0 364.6L228.8 365.8L228.6 363.9L228.0 361.8L227.8 361.7L227.6 361.4L227.4 362.2L227.2 361.0L226.6 359.8L226.4 357.7L226.3 355.2L226.1 355.6L225.9 355.3L225.3 351.6L225.1 352.9L224.9 349.0L224.7 347.9L224.5 347.1L223.9 348.0L223.8 345.4L223.6 345.7L223.4 343.5L223.2 345.8L222.6 344.7L222.4 344.5L222.2 344.3L222.0 344.9L221.8 344.0L221.3 346.6L221.1 346.5L220.9 347.7L220.7 347.3L220.5 347.7L219.9 347.9L219.7 349.3L219.5 348.3L219.3 349.5L219.1 349.8L218.6 351.3L218.4 352.4L218.2 353.5L218.0 352.5L217.8 353.1L217.2 353.9L217.0 356.9L216.8 356.4L216.6 353.7L216.4 354.1L215.9 353.6L215.7 353.9L215.5 353.1L215.3 351.9L215.1 353.0L214.5 352.5L214.3 352.8L214.1 352.5L213.9 351.2L213.7 350.3L213.2 348.9L213.0 346.9L212.8 347.8L212.6 348.2L212.4 346.7L211.8 344.7L211.6 347.4L211.4 345.2L211.2 343.4L211.1 342.2L210.5 343.5L210.3 342.6L210.1 342.1L209.9 345.1L209.7 342.8L209.1 343.4L208.9 344.6L208.7 343.6L208.6 344.0L208.4 345.2L207.8 342.4L207.6 344.3L207.4 344.3L207.2 342.9L207.0 343.3L206.4 344.6L206.2 343.6L206.1 343.6L205.9 343.9L205.7 345.1L205.1 345.9L204.9 346.0L204.7 346.9L204.5 345.9L204.3 345.9L203.7 345.6L203.5 345.3L203.4 345.1L203.2 346.3L203.0 345.0L202.4 344.3L202.2 344.4L202.0 344.3L201.8 343.6L201.6 342.0L201.0 344.1L200.9 342.7L200.7 340.6L200.5 339.6L200.3 339.4L199.7 337.1L199.5 336.9L199.3 338.7L199.1 336.3L198.9 334.9L198.4 334.6L198.2 334.5L198.0 332.9L197.8 332.6L197.6 331.8L197.0 334.5L196.8 336.3L196.6 337.0L196.4 338.1L196.2 336.4L195.7 337.5L195.5 337.2L195.3 339.1L195.1 341.0L194.9 340.9L194.3 339.4L194.1 339.5L193.9 339.2L193.7 339.1L193.5 340.4L193.0 342.3L192.8 341.7L192.6 342.6L192.4 340.9L192.2 341.3L191.6 339.8L191.4 342.4L191.2 341.4L191.0 341.4L190.8 339.8L190.3 339.1L190.1 341.8L189.9 343.9L189.7 343.8L189.5 341.8L188.9 343.1L188.7 345.4L188.5 344.4L188.3 345.1L188.2 346.1L187.6 348.5L187.4 347.5L187.2 348.4L187.0 349.6L186.8 351.7L186.2 351.0L186.0 352.0L185.8 352.8L185.7 351.1L185.5 351.9L184.9 349.9L184.7 351.1L184.5 350.9L184.3 348.4L184.1 346.9L183.5 347.4L183.3 349.1L183.2 349.1L183.0 349.9L182.8 349.3L182.2 348.4L182.0 350.1L181.8 350.1L181.6 350.6L181.4 350.8L180.8 353.9L180.6 355.8L180.5 356.1L180.3 355.1L180.1 354.0L179.5 355.3L179.3 357.0L179.1 359.5L178.9 358.1L178.7 359.6L178.1 361.8L178.0 361.1L177.8 359.4L177.6 362.0L177.4 362.5L176.8 362.4L176.6 363.1L176.4 363.2L176.2 364.5L176.0 366.1L175.5 368.4L175.3 367.5L175.1 367.8L174.9 368.9L174.7 369.6L174.1 370.3L173.9 371.3L173.7 372.8L173.5 372.0L173.3 373.0L172.8 375.7L172.6 377.0L172.4 377.9L172.2 377.4L172.0 381.6L171.4 383.6L171.2 382.2L171.0 382.6L170.8 384.0L170.6 382.0L170.1 384.6L169.9 386.2L169.7 387.9L169.5 391.5L169.3 390.1L168.7 391.1L168.5 393.6L168.3 394.5L168.1 394.9L167.9 395.9L167.4 399.6L167.2 400.8L167.0 402.4L166.8 401.7L166.6 402.8L166.0 403.5L165.8 404.4L165.6 404.1L165.4 406.2L165.3 408.1L164.7 410.3L164.5 411.5L164.3 410.1L164.1 410.1L163.9 409.1L163.3 409.8L163.1 410.1L162.9 410.7L162.8 412.9L162.6 411.0L162.0 412.5L161.8 412.1L161.6 410.7L161.4 411.8L161.2 411.8L160.6 412.3L160.4 414.5L160.3 415.4L160.1 415.0L159.9 414.6L159.3 416.8L159.1 416.3L158.9 416.3L158.7 414.5L158.5 414.4L157.9 417.6L157.7 419.3L157.6 419.9L157.4 421.2L157.2 421.3L156.6 421.1L156.4 421.3L156.2 421.9L156.0 422.7L155.8 422.6L155.2 421.0L155.1 421.1L154.9 420.5L154.7 419.0L154.5 418.4L153.9 419.9L153.7 421.3L153.5 420.3L153.3 420.2L153.1 423.5L152.6 422.6L152.4 422.8L152.2 420.6L152.0 421.4L151.8 422.2L151.2 423.7L151.0 425.7L150.8 426.8L150.6 426.3L150.4 426.9L149.9 432.6L149.7 435.8L149.5 439.0L149.3 437.5L149.1 438.7L148.5 443.3L148.3 444.5L148.1 445.2L147.9 446.8L147.7 448.6L147.2 451.1L147.0 448.6L146.8 448.9L146.6 451.4L146.4 453.5L145.8 454.8L145.6 454.6L145.4 454.9L145.2 455.0L145.0 453.1L144.5 454.9L144.3 455.8L144.1 455.1L143.9 454.9L143.7 452.8L143.1 456.3L142.9 456.7L142.7 458.4L142.5 456.0L142.4 458.9L141.8 458.2L141.6 456.9L141.4 454.4L141.2 456.9L141.0 459.1L140.4 461.1L140.2 463.2L140.0 460.7L139.9 462.2L139.7 460.8L139.1 462.7L138.9 462.7L138.7 462.3L138.5 462.3L138.3 463.6L137.7 466.4L137.5 468.2L137.3 468.0L137.2 468.6L137.0 471.5L136.4 474.3L136.2 473.6L136.0 474.0L135.8 475.2L135.6 476.6L135.0 477.9L134.8 478.0L134.7 478.2L134.5 479.6L134.3 481.5L133.7 481.3L133.5 483.4L133.3 480.5L133.1 480.9L132.9 483.3L132.3 484.3L132.2 483.1L132.0 487.7L131.8 486.7L131.6 486.2L131.0 488.4L130.8 489.0L130.6 489.3L130.4 489.9L130.2 489.4L129.7 491.6L129.5 489.7L129.3 491.3L129.1 493.2L128.9 490.8L128.3 492.0L128.1 492.4L127.9 492.0L127.7 492.3L127.5 493.2L127.0 494.1L126.8 495.5L126.6 495.7L126.4 496.4L126.2 496.3L125.6 498.0L125.4 497.9L125.2 501.5L125.0 501.4L124.8 500.7L124.3 502.2L124.1 504.8L123.9 502.8L123.7 499.4L123.5 502.8L122.9 501.8L122.7 501.4L122.5 501.8L122.3 501.4L122.1 500.7L121.6 502.4L121.4 500.2L121.2 500.4L121.0 503.0L120.8 502.6Z" fill="#0072B2" fill-opacity="0.2" stroke="#0072B2" stroke-opacity="0.24" stroke-width="1.39" stroke-linejoin="round"/>
<path d="M122.6 427.0h0M122.8 425.9h0M123.0 434.3h0M123.2 437.3h0M123.4 435.6h0M123.9 444.4h0M124.1 446.2h0M124.3 436.8h0M124.5 448.7h0M124.7 441.1h0M125.3 441.7h0M125.5 436.8h0M125.7 443.0h0M125.9 437.9h0M126.1 443.6h0M126.6 455.4h0M126.8 454.3h0M127.0 451.1h0M127.2 459.6h0M127.4 450.4h0M128.0 459.7h0M128.2 455.3h0M128.4 457.4h0M128.6 457.3h0M128.8 458.3h0M129.3 459.0h0M129.5 454.6h0M129.7 454.8h0M129.9 461.5h0M130.1 460.7h0M130.7 455.8h0M130.9 456.5h0M131.1 456.9h0M131.3 460.4h0M131.5 463.3h0M132.0 463.4h0M132.2 458.6h0M132.4 461.1h0M132.6 454.8h0M132.8 453.1h0M133.4 454.6h0M133.6 452.6h0M133.8 452.9h0M134.0 452.4h0M134.1 459.9h0M134.7 452.6h0M134.9 457.6h0M135.1 455.0h0M135.3 451.3h0M135.5 450.2h0M136.1 455.9h0M136.3 459.0h0M136.5 461.7h0M136.6 464.1h0M136.8 461.8h0M137.4 460.5h0M137.6 457.8h0M137.8 458.1h0M138.0 455.7h0M138.2 452.3h0M138.8 464.9h0M139.0 451.8h0M139.1 457.2h0M139.3 461.0h0M139.5 460.8h0M140.1 455.1h0M140.3 457.4h0M140.5 456.9h0M140.7 454.4h0M140.9 458.3h0M141.5 459.1h0M141.7 458.6h0M141.8 466.1h0M142.0 458.8h0M142.2 465.1h0M142.8 462.3h0M143.0 467.4h0M143.2 467.2h0M143.4 468.2h0M143.6 462.2h0M144.2 462.4h0M144.3 462.3h0M144.5 466.6h0M144.7 471.3h0M144.9 473.6h0M145.5 467.4h0M145.7 467.7h0M145.9 460.6h0M146.1 459.2h0M146.3 459.2h0M146.8 455.7h0M147.0 452.0h0M147.2 449.4h0M147.4 454.8h0M147.6 449.1h0M148.2 441.0h0M148.4 457.9h0M148.6 452.6h0M148.8 445.5h0M149.0 449.5h0M149.5 436.2h0M149.7 448.1h0M149.9 430.3h0M150.1 426.8h0M150.3 429.3h0M150.9 423.6h0M151.1 437.0h0M151.3 420.0h0M151.5 419.0h0M151.7 424.1h0M152.2 425.9h0M152.4 429.2h0M152.6 425.2h0M152.8 429.3h0M153.0 419.5h0M153.6 414.6h0M153.8 417.8h0M154.0 409.5h0M154.2 405.8h0M154.4 402.5h0M154.9 397.3h0M155.1 393.8h0M155.3 394.0h0M155.5 390.6h0M155.7 396.4h0M156.3 387.7h0M156.5 402.6h0M156.7 403.0h0M156.9 401.8h0M157.0 395.0h0M157.6 385.6h0M157.8 394.8h0M158.0 390.6h0M158.2 390.7h0M158.4 380.8h0M159.0 385.2h0M159.2 372.9h0M159.4 376.1h0M159.5 366.2h0M159.7 367.3h0M160.3 375.2h0M160.5 370.9h0M160.7 369.6h0M160.9 378.9h0M161.1 375.1h0M161.7 382.6h0M161.9 363.8h0M162.1 372.5h0M162.2 377.2h0M162.4 364.7h0M163.0 363.4h0M163.2 374.9h0M163.4 365.8h0M163.6 365.6h0M163.8 374.6h0M164.4 370.2h0M164.6 375.5h0M164.7 366.5h0M164.9 372.4h0M165.1 380.3h0M165.7 377.7h0M165.9 361.6h0M166.1 371.5h0M166.3 372.1h0M166.5 364.9h0M167.1 380.0h0M167.2 362.3h0M167.4 381.5h0M167.6 370.0h0M167.8 382.0h0M168.4 375.4h0M168.6 362.5h0M168.8 368.1h0M169.0 372.8h0M169.2 376.1h0M169.7 380.1h0M169.9 366.3h0M170.1 373.2h0M170.3 377.3h0M170.5 370.2h0M171.1 362.4h0M171.3 360.6h0M171.5 372.2h0M171.7 377.0h0M171.9 364.9h0M172.4 359.5h0M172.6 375.1h0M172.8 360.1h0M173.0 366.3h0M173.2 361.9h0M173.8 358.4h0M174.0 363.8h0M174.2 365.2h0M174.4 377.7h0M174.6 380.2h0M175.1 373.6h0M175.3 375.3h0M175.5 374.9h0M175.7 364.5h0M175.9 357.5h0M176.5 365.3h0M176.7 353.3h0M176.9 348.1h0M177.1 339.2h0M177.3 332.5h0M177.8 306.3h0M178.0 309.3h0M178.2 306.2h0M178.4 299.1h0M178.6 294.4h0M179.2 298.9h0M179.4 294.5h0M179.6 295.7h0M179.8 308.3h0M179.9 313.6h0M180.5 312.0h0M180.7 299.3h0M180.9 308.2h0M181.1 294.7h0M181.3 295.9h0M181.9 311.9h0M182.1 312.5h0M182.3 297.8h0M182.4 295.1h0M182.6 306.2h0M183.2 305.3h0M183.4 300.7h0M183.6 307.3h0M183.8 301.5h0M184.0 295.4h0M184.6 306.5h0M184.8 300.9h0M185.0 297.6h0M185.1 296.2h0M185.3 302.9h0M185.9 299.2h0M186.1 308.6h0M186.3 304.7h0M186.5 313.9h0M186.7 305.9h0M187.3 301.1h0M187.5 296.2h0M187.6 296.6h0M187.8 306.8h0M188.0 317.9h0M188.6 304.9h0M188.8 299.2h0M189.0 306.0h0M189.2 309.9h0M189.4 302.6h0M190.0 305.6h0M190.1 298.4h0M190.3 300.9h0M190.5 310.5h0M190.7 315.3h0M191.3 311.5h0M191.5 309.4h0M191.7 313.5h0M191.9 317.8h0M192.1 318.0h0M192.6 317.4h0M192.8 321.1h0M193.0 324.6h0M193.2 321.2h0M193.4 319.4h0M194.0 323.7h0M194.2 325.2h0M194.4 327.4h0M194.6 326.3h0M194.8 323.9h0M195.3 325.2h0M195.5 324.4h0M195.7 324.7h0M195.9 325.9h0M196.1 327.0h0M196.7 335.2h0M196.9 328.8h0M197.1 331.0h0M197.3 330.2h0M197.5 336.7h0M198.0 335.8h0M198.2 333.7h0M198.4 336.4h0M198.6 335.5h0M198.8 333.8h0M199.4 329.0h0M199.6 318.4h0M199.8 313.9h0M200.0 307.3h0M200.2 299.9h0M200.7 296.0h0M200.9 286.6h0M201.1 295.9h0M201.3 295.1h0M201.5 300.1h0M202.1 298.1h0M202.3 290.2h0M202.5 286.1h0M202.7 300.3h0M202.8 310.9h0M203.4 300.6h0M203.6 304.4h0M203.8 312.6h0M204.0 294.8h0M204.2 293.0h0M204.8 286.2h0M205.0 306.8h0M205.2 304.5h0M205.3 295.0h0M205.5 284.3h0M206.1 289.7h0M206.3 306.9h0M206.5 298.0h0M206.7 293.3h0M206.9 304.5h0M207.5 287.6h0M207.7 294.8h0M207.9 304.7h0M208.0 291.6h0M208.2 287.8h0M208.8 297.3h0M209.0 297.0h0M209.2 295.2h0M209.4 300.1h0M209.6 302.0h0M210.2 289.5h0M210.4 288.4h0M210.5 300.2h0M210.7 311.2h0M210.9 314.3h0M211.5 295.9h0M211.7 310.0h0M211.9 310.8h0M212.1 303.3h0M212.3 306.2h0M212.9 310.3h0M213.0 315.3h0M213.2 295.1h0M213.4 304.9h0M213.6 299.2h0M214.2 296.4h0M214.4 310.6h0M214.6 311.5h0M214.8 291.8h0M215.0 293.0h0M215.5 299.5h0M215.7 285.8h0M215.9 303.5h0M216.1 299.6h0M216.3 301.2h0M216.9 303.8h0M217.1 314.8h0M217.3 307.4h0M217.5 297.6h0M217.7 314.1h0M218.2 300.1h0M218.4 293.0h0M218.6 285.1h0M218.8 305.4h0M219.0 304.5h0M219.6 306.5h0M219.8 303.7h0M220.0 298.9h0M220.2 290.1h0M220.4 287.8h0M220.9 299.7h0M221.1 300.7h0M221.3 314.0h0M221.5 296.8h0M221.7 292.4h0M222.3 286.8h0M222.5 309.6h0M222.7 289.1h0M222.9 304.5h0M223.1 313.7h0M223.6 304.1h0M223.8 308.9h0M224.0 284.2h0M224.2 288.1h0M224.4 283.8h0M225.0 292.6h0M225.2 296.8h0M225.4 289.7h0M225.6 306.8h0M225.7 306.0h0M226.3 295.8h0M226.5 293.0h0M226.7 287.0h0M226.9 292.7h0M227.1 314.8h0M227.7 301.3h0M227.9 306.3h0M228.1 299.0h0M228.2 309.5h0M228.4 310.1h0M229.0 306.8h0M229.2 298.9h0M229.4 301.8h0M229.6 314.8h0M229.8 312.5h0M230.4 322.5h0M230.6 320.7h0M230.8 319.5h0M230.9 329.0h0M231.1 335.9h0M231.7 340.4h0M231.9 341.5h0M232.1 347.2h0M232.3 344.2h0M232.5 350.7h0M233.1 353.1h0M233.3 346.2h0M233.4 350.9h0M233.6 352.6h0M233.8 353.2h0M234.4 366.1h0M234.6 364.5h0M234.8 373.4h0M235.0 381.0h0M235.2 379.1h0M235.8 371.6h0M235.9 374.1h0M236.1 388.6h0M236.3 386.3h0M236.5 383.0h0M237.1 392.2h0M237.3 398.2h0M237.5 397.8h0M237.7 399.7h0M237.9 390.4h0M238.4 390.5h0M238.6 389.5h0M238.8 389.2h0M239.0 381.0h0M239.2 381.6h0M239.8 374.5h0M240.0 385.2h0M240.2 386.5h0M240.4 385.0h0M240.6 382.6h0M241.1 372.9h0M241.3 376.6h0M241.5 371.2h0M241.7 373.1h0M241.9 364.5h0M242.5 361.5h0M242.7 366.5h0M242.9 372.7h0M243.1 367.9h0M243.3 372.0h0M243.8 370.5h0M244.0 360.6h0M244.2 359.8h0M244.4 353.5h0M244.6 355.5h0M245.2 351.9h0M245.4 353.7h0M245.6 361.1h0M245.8 362.3h0M246.0 358.9h0M246.5 354.7h0M246.7 354.0h0M246.9 353.6h0M247.1 356.7h0M247.3 353.2h0M247.9 355.1h0M248.1 341.2h0M248.3 353.0h0M248.5 360.6h0M248.6 355.9h0M249.2 338.0h0M249.4 355.6h0M249.6 346.6h0M249.8 332.6h0M250.0 335.1h0M250.6 345.5h0M250.8 347.5h0M251.0 353.6h0M251.1 351.4h0M251.3 346.1h0M251.9 327.3h0M252.1 326.5h0M252.3 332.9h0M252.5 341.2h0M252.7 327.3h0M253.3 323.5h0M253.5 332.3h0M253.7 317.1h0M253.8 315.1h0M254.0 317.8h0M254.6 327.5h0M254.8 324.0h0M255.0 316.2h0M255.2 322.1h0M255.4 318.4h0M256.0 332.6h0M256.2 331.6h0M256.3 335.5h0M256.5 340.7h0M256.7 331.6h0M257.3 343.3h0M257.5 348.4h0M257.7 345.9h0M257.9 350.1h0M258.1 338.6h0M258.7 348.1h0M258.8 346.4h0M259.0 336.9h0M259.2 340.6h0M259.4 339.5h0M260.0 341.6h0M260.2 345.2h0M260.4 351.7h0M260.6 347.2h0M260.8 348.2h0M261.3 343.2h0M261.5 347.1h0M261.7 353.6h0M261.9 354.3h0M262.1 353.8h0M262.7 351.1h0M262.9 349.1h0M263.1 356.7h0M263.3 367.0h0M263.5 369.0h0M264.0 376.8h0M264.2 373.5h0M264.4 381.2h0M264.6 374.6h0M264.8 378.7h0M265.4 376.9h0M265.6 380.4h0M265.8 378.5h0M266.0 381.5h0M266.2 382.5h0M266.7 383.9h0M266.9 387.9h0M267.1 391.7h0M267.3 387.8h0M267.5 391.5h0M268.1 391.6h0M268.3 391.2h0M268.5 396.2h0M268.7 387.9h0M268.9 388.9h0M269.4 389.9h0M269.6 391.9h0M269.8 394.0h0M270.0 402.0h0M270.2 402.2h0M270.8 408.3h0M271.0 411.2h0M271.2 408.1h0M271.4 412.2h0M271.5 419.6h0M272.1 420.4h0M272.3 419.7h0M272.5 422.4h0M272.7 410.4h0M272.9 411.8h0M273.5 422.5h0M273.7 429.2h0M273.9 418.7h0M274.1 420.7h0M274.2 423.1h0M274.8 423.8h0M275.0 432.5h0M275.2 429.9h0M275.4 429.5h0M275.6 415.8h0M276.2 415.0h0M276.4 424.4h0M276.6 414.5h0M276.7 423.1h0M276.9 419.0h0M277.5 416.8h0M277.7 428.1h0M277.9 420.1h0M278.1 416.7h0M278.3 416.7h0M278.9 421.4h0M279.1 434.7h0M279.2 415.6h0M279.4 419.8h0M279.6 419.9h0M280.2 427.7h0M280.4 421.7h0M280.6 413.1h0M280.8 425.5h0M281.0 416.4h0M281.6 419.6h0M281.7 414.4h0M281.9 414.1h0M282.1 415.8h0M282.3 425.7h0M282.9 428.7h0M283.1 420.5h0M283.3 425.2h0M283.5 420.6h0M283.7 422.5h0M284.2 423.5h0M284.4 426.9h0M284.6 419.7h0M284.8 420.5h0M285.0 423.3h0M285.6 423.4h0M285.8 417.7h0M286.0 430.4h0M286.2 422.9h0M286.4 427.6h0M286.9 425.9h0M287.1 430.7h0M287.3 415.3h0M287.5 432.4h0M287.7 426.8h0M288.3 418.5h0M288.5 424.4h0M288.7 437.8h0M288.9 435.8h0M289.1 421.4h0M289.6 422.5h0M289.8 436.2h0M290.0 421.4h0M290.2 424.3h0M290.4 424.6h0M291.0 438.4h0M291.2 431.2h0M291.4 436.8h0M291.6 426.6h0M291.8 421.9h0M292.3 431.3h0M292.5 431.3h0M292.7 418.4h0M292.9 425.6h0M293.1 427.9h0M293.7 420.6h0M293.9 422.9h0M294.1 423.8h0M294.3 420.0h0M294.4 418.2h0M295.0 416.7h0M295.2 417.9h0M295.4 414.7h0M295.6 417.5h0M295.8 414.0h0M296.4 417.3h0M296.6 418.6h0M296.8 414.8h0M297.0 422.7h0M297.1 427.6h0M297.7 427.6h0M297.9 416.4h0M298.1 425.4h0M298.3 423.3h0M298.5 420.8h0M299.1 416.7h0M299.3 418.6h0M299.5 426.2h0M299.6 425.1h0M299.8 419.3h0M300.4 416.1h0M300.6 416.4h0M300.8 422.5h0M301.0 428.5h0M301.2 418.3h0M301.8 420.2h0M302.0 418.4h0M302.1 416.3h0M302.3 422.5h0M302.5 426.4h0M303.1 416.1h0M303.3 415.4h0M303.5 430.0h0M303.7 429.6h0M303.9 431.4h0M304.5 425.8h0M304.6 424.9h0M304.8 431.3h0M305.0 426.7h0M305.2 422.6h0M305.8 427.6h0M306.0 435.8h0M306.2 426.3h0M306.4 436.4h0M306.6 437.5h0M307.1 428.5h0M307.3 430.0h0M307.5 429.9h0M307.7 433.6h0M307.9 434.4h0M308.5 422.5h0M308.7 420.0h0M308.9 428.7h0M309.1 427.0h0M309.3 427.6h0M309.8 425.3h0M310.0 429.0h0M310.2 417.9h0M310.4 425.8h0M310.6 417.9h0M311.2 422.9h0M311.4 426.1h0M311.6 415.2h0M311.8 419.6h0M312.0 417.5h0M312.5 415.8h0M312.7 417.0h0M312.9 412.2h0M313.1 411.1h0M313.3 417.6h0M313.9 420.3h0M314.1 413.8h0M314.3 408.5h0M314.5 421.9h0M314.7 421.6h0M315.2 418.4h0M315.4 409.0h0M315.6 408.0h0M315.8 411.8h0M316.0 406.6h0M316.6 416.8h0M316.8 413.5h0M317.0 413.2h0M317.2 404.9h0M317.3 403.2h0M317.9 402.0h0M318.1 406.4h0M318.3 404.9h0M318.5 403.8h0M318.7 406.7h0M319.3 405.6h0M319.5 410.4h0M319.7 404.8h0M319.9 397.4h0M320.0 399.7h0M320.6 407.4h0M320.8 400.1h0M321.0 400.5h0M321.2 398.0h0M321.4 401.5h0M322.0 401.2h0M322.2 395.0h0M322.4 395.8h0M322.5 402.7h0M322.7 404.6h0M323.3 403.8h0M323.5 403.2h0M323.7 397.1h0M323.9 394.0h0M324.1 400.1h0M324.7 389.7h0M324.9 391.8h0M325.0 386.3h0M325.2 387.8h0M325.4 387.4h0M326.0 384.9h0M326.2 390.9h0M326.4 385.8h0M326.6 385.4h0M326.8 385.3h0M327.4 380.4h0M327.5 391.0h0M327.7 383.1h0M327.9 384.0h0M328.1 376.0h0M328.7 377.6h0M328.9 379.1h0M329.1 379.7h0M329.3 378.6h0M329.5 382.4h0M330.1 390.6h0M330.2 385.9h0M330.4 383.5h0M330.6 381.2h0M330.8 391.8h0M331.4 392.1h0M331.6 390.8h0M331.8 390.3h0M332.0 382.6h0M332.2 383.0h0M332.7 385.6h0M332.9 386.0h0M333.1 380.8h0M333.3 379.9h0M333.5 386.2h0M334.1 387.4h0M334.3 377.0h0M334.5 379.9h0M334.7 387.9h0M334.9 379.8h0M335.4 379.4h0M335.6 371.2h0M335.8 378.6h0M336.0 370.5h0M336.2 368.3h0M336.8 368.7h0M337.0 380.6h0M337.2 372.9h0M337.4 365.7h0M337.6 371.2h0M338.1 370.8h0M338.3 376.1h0M338.5 364.5h0M338.7 360.5h0M338.9 362.0h0M339.5 365.5h0M339.7 366.9h0M339.9 370.2h0M340.1 358.1h0M340.2 356.9h0M340.8 357.5h0M341.0 364.1h0M341.2 363.7h0M341.4 357.6h0M341.6 352.1h0M342.2 359.7h0M342.4 362.5h0M342.6 364.8h0M342.8 360.8h0M342.9 363.4h0M343.5 350.2h0M343.7 348.7h0M343.9 347.4h0M344.1 348.0h0M344.3 346.7h0M344.9 348.4h0M345.1 351.8h0M345.3 350.9h0M345.4 358.3h0M345.6 355.9h0M346.2 356.5h0M346.4 365.1h0M346.6 362.7h0M346.8 360.6h0M347.0 358.7h0M347.6 356.8h0M347.8 359.8h0M347.9 350.7h0M348.1 360.6h0M348.3 363.2h0M348.9 361.3h0M349.1 352.3h0M349.3 342.2h0M349.5 343.4h0M349.7 347.5h0M350.3 352.0h0M350.4 346.5h0M350.6 343.1h0M350.8 352.7h0M351.0 342.3h0M351.6 349.5h0M351.8 350.4h0M352.0 336.5h0M352.2 341.8h0M352.4 337.8h0M353.0 334.0h0M353.1 331.4h0M353.3 331.1h0M353.5 337.3h0M353.7 336.2h0M354.3 339.9h0M354.5 332.4h0M354.7 334.0h0M354.9 334.8h0M355.1 329.5h0M355.6 328.1h0M355.8 334.6h0M356.0 337.1h0M356.2 330.6h0M356.4 333.4h0M357.0 339.4h0M357.2 345.2h0M357.4 334.1h0M357.6 339.4h0M357.8 345.2h0M358.3 340.9h0M358.5 344.0h0M358.7 326.0h0M358.9 339.9h0M359.1 336.5h0M359.7 325.9h0M359.9 335.3h0M360.1 341.0h0M360.3 342.6h0M360.5 343.0h0M361.0 338.2h0M361.2 330.5h0M361.4 329.9h0M361.6 332.3h0M361.8 336.4h0M362.4 331.6h0M362.6 333.6h0M362.8 339.7h0M363.0 338.4h0M363.1 343.8h0M363.7 344.0h0M363.9 333.6h0M364.1 330.2h0M364.3 326.3h0M364.5 326.0h0M365.1 333.8h0M365.3 328.0h0M365.5 326.6h0M365.7 329.2h0M365.8 337.9h0M366.4 333.1h0M366.6 331.4h0M366.8 339.4h0M367.0 339.2h0M367.2 339.1h0M367.8 341.5h0M368.0 330.7h0M368.2 334.6h0M368.3 330.5h0M368.5 339.7h0M369.1 340.8h0M369.3 329.7h0M369.5 339.8h0M369.7 328.1h0M369.9 337.9h0M370.5 334.2h0M370.7 325.8h0M370.8 322.3h0M371.0 323.7h0M371.2 325.8h0M371.8 320.5h0M372.0 326.6h0M372.2 317.1h0M372.4 320.4h0M372.6 321.7h0M373.2 312.5h0M373.3 317.8h0M373.5 312.2h0M373.7 310.0h0M373.9 310.3h0M374.5 311.9h0M374.7 320.5h0M374.9 314.2h0M375.1 322.9h0M375.3 323.5h0M375.9 321.6h0M376.0 321.2h0M376.2 317.8h0M376.4 309.7h0M376.6 313.6h0M377.2 313.5h0M377.4 310.0h0M377.6 304.8h0M377.8 296.3h0M378.0 303.7h0M378.5 305.1h0M378.7 295.4h0M378.9 299.8h0M379.1 306.2h0M379.3 302.6h0M379.9 307.3h0M380.1 308.4h0M380.3 293.8h0M380.5 295.9h0M380.7 302.8h0M381.2 307.7h0M381.4 310.3h0M381.6 291.4h0M381.8 295.4h0M382.0 303.6h0M382.6 307.7h0M382.8 309.2h0M383.0 296.6h0M383.2 294.2h0M383.4 289.4h0M383.9 299.9h0M384.1 288.7h0M384.3 302.8h0M384.5 305.3h0M384.7 303.9h0M385.3 287.2h0M385.5 288.6h0M385.7 299.8h0M385.9 288.8h0M386.1 292.1h0M386.6 294.9h0M386.8 304.2h0M387.0 302.7h0M387.2 301.9h0M387.4 295.4h0M388.0 296.5h0M388.2 295.8h0M388.4 302.2h0M388.6 297.3h0M388.7 304.1h0M389.3 288.2h0M389.5 301.4h0M389.7 296.5h0M389.9 303.2h0M390.1 299.2h0M390.7 302.1h0M390.9 304.6h0M391.1 296.0h0M391.2 296.1h0M391.4 294.2h0M392.0 296.1h0M392.2 287.2h0M392.4 290.3h0M392.6 291.5h0M392.8 289.0h0M393.4 292.5h0M393.6 288.8h0M393.7 302.4h0M393.9 302.7h0M394.1 311.9h0M394.7 327.8h0M394.9 323.9h0M395.1 328.2h0M395.3 323.2h0M395.5 327.5h0M396.1 326.1h0M396.2 327.2h0M396.4 331.1h0M396.6 331.5h0M396.8 339.0h0M397.4 338.8h0M397.6 327.9h0M397.8 337.0h0M398.0 327.3h0M398.2 331.5h0M398.8 327.4h0M398.9 327.7h0M399.1 340.2h0M399.3 333.4h0M399.5 330.7h0M400.1 331.1h0M400.3 332.8h0M400.5 344.5h0M400.7 332.8h0M400.9 330.5h0M401.4 339.7h0M401.6 332.2h0M401.8 334.8h0M402.0 345.8h0M402.2 343.2h0M402.8 340.5h0M403.0 338.5h0M403.2 337.6h0M403.4 338.9h0M403.6 343.8h0M404.1 353.8h0M404.3 355.1h0M404.5 347.6h0M404.7 344.0h0M404.9 352.2h0M405.5 343.4h0M405.7 345.7h0M405.9 347.9h0M406.1 345.7h0M406.3 345.5h0M406.8 352.2h0M407.0 345.8h0M407.2 346.4h0M407.4 347.5h0M407.6 351.9h0M408.2 347.0h0M408.4 357.8h0M408.6 353.1h0M408.8 351.7h0M409.0 350.4h0M409.5 347.9h0M409.7 346.0h0M409.9 357.0h0M410.1 355.6h0M410.3 353.2h0M410.9 359.7h0M411.1 352.0h0M411.3 357.7h0M411.5 356.1h0M411.6 350.8h0M412.2 426.7h0M412.4 420.9h0M412.6 426.0h0M412.8 422.2h0M413.0 426.1h0M413.6 431.8h0M413.8 431.1h0M414.0 425.2h0M414.1 426.0h0M414.3 424.6h0M414.9 421.4h0M415.1 420.9h0M415.3 424.6h0M415.5 430.1h0M415.7 420.8h0M416.3 424.5h0M416.5 430.8h0M416.6 430.6h0M416.8 423.8h0M417.0 434.6h0M417.6 424.6h0M417.8 433.1h0M418.0 440.7h0M418.2 423.6h0M418.4 429.9h0M419.0 434.7h0M419.2 435.8h0M419.3 428.5h0M419.5 429.6h0M419.7 424.9h0M420.3 431.4h0M420.5 438.5h0M420.7 430.8h0M420.9 427.6h0M421.1 429.0h0M421.7 433.1h0M421.8 435.4h0M422.0 434.9h0M422.2 436.2h0M422.4 428.3h0M423.0 427.0h0M423.2 432.8h0M423.4 444.9h0M423.6 430.5h0M423.8 430.5h0M424.3 436.7h0M424.5 443.7h0M424.7 444.0h0M424.9 446.8h0M425.1 441.2h0M425.7 442.1h0M425.9 442.4h0M426.1 436.3h0M426.3 445.6h0M426.5 445.1h0M427.0 446.9h0M427.2 439.1h0M427.4 445.8h0M427.6 434.1h0M427.8 439.9h0M428.4 429.7h0M428.6 429.9h0M428.8 438.6h0M429.0 434.9h0M429.2 437.9h0M429.7 429.2h0M429.9 443.7h0M430.1 443.3h0M430.3 438.8h0M430.5 440.2h0M431.1 439.5h0M431.3 445.0h0M431.5 440.9h0M431.7 428.3h0M431.9 430.5h0M432.4 442.6h0M432.6 442.3h0M432.8 435.4h0M433.0 440.6h0M433.2 439.0h0M433.8 442.7h0M434.0 430.6h0M434.2 430.8h0M434.4 439.8h0M434.5 437.5h0M435.1 441.7h0M435.3 450.2h0M435.5 443.1h0M435.7 443.3h0M435.9 437.7h0M436.5 438.0h0M436.7 441.3h0M436.9 437.2h0M437.0 437.3h0M437.2 448.8h0M437.8 448.6h0M438.0 455.2h0M438.2 453.5h0M438.4 453.7h0M438.6 457.5h0M439.2 462.3h0M439.4 453.8h0M439.5 464.4h0M439.7 457.0h0M439.9 461.3h0M440.5 471.9h0M440.7 470.0h0M440.9 473.1h0M441.1 468.7h0M441.3 469.7h0M441.9 466.4h0M442.1 466.8h0M442.2 461.3h0M442.4 459.5h0M442.6 462.7h0M443.2 456.7h0M443.4 456.5h0M443.6 461.1h0M443.8 457.6h0M444.0 455.5h0M444.6 454.2h0M444.7 457.0h0M444.9 456.3h0M445.1 458.1h0M445.3 457.1h0M445.9 463.3h0M446.1 458.1h0M446.3 452.0h0M446.5 454.6h0M446.7 455.8h0M447.2 456.3h0M447.4 450.9h0M447.6 457.8h0M447.8 455.7h0M448.0 454.7h0M448.6 449.0h0M448.8 453.0h0M449.0 452.6h0M449.2 457.7h0M449.4 452.6h0M449.9 447.3h0M450.1 449.9h0M450.3 447.3h0M450.5 451.1h0M450.7 446.8h0M451.3 447.9h0M451.5 448.1h0M451.7 448.9h0M451.9 447.1h0M452.1 445.6h0M452.6 446.9h0M452.8 445.6h0M453.0 447.8h0M453.2 446.8h0M453.4 442.7h0M454.0 444.0h0M454.2 451.6h0M454.4 450.2h0M454.6 450.7h0M454.8 450.3h0M455.3 446.1h0M455.5 442.5h0M455.7 448.3h0M455.9 451.5h0M456.1 450.8h0M456.7 449.9h0M456.9 449.5h0M457.1 447.5h0M457.3 448.0h0M457.4 447.0h0M458.0 448.0h0M458.2 443.5h0M458.4 443.5h0M458.6 448.2h0M458.8 446.3h0M459.4 442.9h0M459.6 445.5h0M459.8 443.4h0M459.9 453.1h0M460.1 453.5h0M460.7 454.2h0M460.9 448.9h0M461.1 446.3h0M461.3 448.2h0M461.5 450.1h0M462.1 448.6h0M462.3 451.4h0M462.4 455.0h0M462.6 456.0h0M462.8 449.9h0M463.4 448.3h0M463.6 450.6h0M463.8 450.6h0M464.0 454.8h0M464.2 460.5h0M464.8 462.6h0M465.0 461.0h0M465.1 462.6h0M465.3 464.0h0M465.5 461.6h0M466.1 461.7h0M466.3 463.3h0M466.5 460.3h0M466.7 457.1h0M466.9 455.2h0M467.5 456.6h0M467.6 454.9h0M467.8 459.9h0M468.0 456.8h0M468.2 462.4h0M468.8 462.6h0M469.0 454.2h0M469.2 460.2h0M469.4 456.0h0M469.6 461.3h0M470.1 460.0h0M470.3 457.2h0M470.5 459.0h0M470.7 454.4h0M470.9 456.5h0M471.5 457.6h0M471.7 455.7h0M471.9 457.4h0M472.1 452.5h0M472.3 456.9h0M472.8 452.0h0M473.0 457.0h0M473.2 458.4h0M473.4 459.8h0M473.6 455.1h0M474.2 462.7h0M474.4 459.7h0M474.6 458.3h0M474.8 454.0h0M475.0 461.1h0M475.5 456.6h0M475.7 460.8h0M475.9 454.6h0M476.1 457.5h0M476.3 455.8h0M476.9 460.9h0M477.1 457.6h0M477.3 454.4h0M477.5 458.5h0M477.7 453.9h0M478.2 453.7h0M478.4 459.6h0M478.6 453.3h0M478.8 459.1h0M479.0 457.1h0M479.6 455.6h0M479.8 459.1h0M480.0 462.4h0M480.2 458.6h0M480.3 459.1h0M480.9 464.1h0M481.1 465.4h0M481.3 463.0h0M481.5 459.3h0M481.7 458.1h0M482.3 458.2h0M482.5 462.7h0M482.7 463.5h0M482.8 462.3h0M483.0 464.4h0M483.6 458.9h0M483.8 456.3h0M484.0 455.1h0M484.2 460.9h0M484.4 452.2h0M485.0 454.2h0M485.2 455.7h0M485.3 454.7h0M485.5 458.0h0M485.7 457.4h0M486.3 455.7h0M486.5 451.0h0M486.7 452.9h0M486.9 450.8h0M487.1 451.1h0M487.7 450.9h0M487.9 448.9h0M488.0 451.2h0M488.2 453.1h0M488.4 452.6h0M489.0 450.0h0M489.2 444.1h0M489.4 448.5h0M489.6 449.8h0M489.8 447.1h0M490.4 444.1h0M490.5 446.3h0M490.7 442.7h0M490.9 445.7h0M491.1 441.4h0M491.7 439.6h0M491.9 441.0h0M492.1 438.4h0M492.3 439.8h0M492.5 442.0h0M493.0 437.0h0M493.2 440.9h0M493.4 438.0h0M493.6 439.9h0M493.8 439.3h0M494.4 436.4h0M494.6 435.3h0M494.8 433.1h0M495.0 433.4h0M495.2 433.3h0M495.7 438.3h0M495.9 438.3h0M496.1 432.5h0M496.3 435.9h0M496.5 435.3h0M497.1 432.6h0M497.3 434.1h0M497.5 435.1h0M497.7 431.8h0M497.9 431.2h0M498.4 431.4h0M498.6 428.6h0M498.8 430.3h0M499.0 430.1h0M499.2 428.2h0M499.8 426.6h0M500.0 428.8h0M500.2 430.8h0M500.4 429.8h0M500.6 426.1h0M501.1 427.8h0M501.3 426.9h0M501.5 427.3h0M501.7 428.0h0M501.9 423.7h0M502.5 422.7h0M502.7 421.4h0M502.9 420.3h0M503.1 424.9h0M503.2 424.3h0M503.8 418.2h0M504.0 419.9h0M504.2 418.6h0M504.4 421.1h0M504.6 419.9h0M505.2 418.4h0M505.4 418.6h0M505.6 419.0h0M505.7 418.6h0M505.9 417.9h0M506.5 417.7h0M506.7 418.6h0M506.9 416.4h0M507.1 417.2h0M507.3 417.3h0M507.9 416.7h0M508.1 418.3h0M508.2 416.0h0M508.4 416.3h0M508.6 415.9h0M509.2 417.3h0M509.4 416.4h0M509.6 416.9h0M509.8 417.5h0M510.0 415.4h0M510.6 416.9h0M510.8 416.0h0M510.9 416.3h0M511.1 416.6h0M511.3 417.9h0M511.9 418.2h0M512.1 418.9h0M512.3 418.3h0M512.5 416.9h0M512.7 416.3h0M513.3 418.0h0M513.4 419.3h0M513.6 418.7h0M513.8 417.0h0M514.0 417.7h0M514.6 418.7h0M514.8 419.7h0M515.0 419.4h0M515.2 419.1h0M515.4 420.7h0M515.9 426.7h0M516.1 427.1h0M516.3 424.5h0M516.5 426.5h0M516.7 426.0h0M517.3 431.9h0M517.5 431.5h0M517.7 429.3h0M517.9 432.0h0M518.1 430.6h0M518.6 433.4h0M518.8 433.4h0M519.0 432.2h0M519.2 435.3h0M519.4 441.9h0M520.0 454.6h0M520.2 454.7h0M520.4 453.1h0M520.6 453.0h0M520.8 458.5h0M521.3 462.3h0M521.5 459.3h0M521.7 464.0h0M521.9 463.9h0M522.1 463.7h0M522.7 466.9h0M522.9 467.6h0M523.1 471.9h0M523.3 472.4h0M523.5 470.2h0M524.0 482.7h0M524.2 483.7h0M524.4 481.3h0M524.6 482.5h0M524.8 482.8h0M525.4 489.6h0M525.6 493.0h0M525.8 493.6h0M526.0 491.9h0M526.1 491.3h0M526.7 496.7h0M526.9 496.0h0M527.1 499.7h0M527.3 495.7h0M527.5 497.6h0M528.1 495.8h0M528.3 493.0h0M528.5 497.3h0M528.6 495.8h0M528.8 492.2h0M529.4 491.3h0M529.6 494.5h0M529.8 489.5h0M530.0 494.0h0M530.2 493.5h0M530.8 489.2h0M531.0 491.3h0M531.2 491.2h0M531.3 489.8h0M531.5 487.6h0M532.1 487.5h0M532.3 487.2h0M532.5 482.6h0M532.7 481.9h0M532.9 481.4h0M533.5 479.6h0M533.7 477.2h0M533.8 481.2h0M534.0 480.5h0M534.2 480.0h0M534.8 481.6h0M535.0 477.9h0M535.2 477.4h0M535.4 477.9h0M535.6 475.9h0M536.2 474.7h0M536.3 476.5h0M536.5 474.5h0M536.7 476.3h0M536.9 471.6h0M537.5 470.3h0M537.7 465.8h0M537.9 466.3h0M538.1 464.6h0M538.3 468.5h0M538.8 465.5h0M539.0 464.2h0M539.2 465.0h0M539.4 464.3h0M539.6 463.1h0M540.2 457.3h0M540.4 453.8h0M540.6 454.9h0M540.8 454.3h0M541.0 452.9h0M541.5 454.7h0M541.7 453.2h0M541.9 459.5h0M542.1 455.6h0M542.3 455.8h0M542.9 460.4h0M543.1 456.8h0M543.3 461.6h0M543.5 463.6h0M543.7 461.5h0M544.2 459.8h0M544.4 460.6h0M544.6 459.4h0M544.8 465.4h0M545.0 464.8h0M545.6 463.9h0M545.8 463.3h0M546.0 467.5h0M546.2 471.4h0M546.4 465.8h0M546.9 467.1h0M547.1 465.8h0M547.3 470.8h0M547.5 472.0h0M547.7 476.2h0M548.3 475.6h0M548.5 473.9h0M548.7 473.2h0M548.9 476.8h0M549.0 473.5h0M549.6 475.7h0M549.8 475.7h0M550.0 473.7h0M550.2 472.2h0M550.4 475.8h0M551.0 476.8h0M551.2 473.9h0M551.4 474.5h0M551.5 476.2h0M551.7 472.5h0M552.3 471.8h0M552.5 469.8h0M552.7 471.4h0M552.9 472.4h0M553.1 472.1h0M553.7 472.2h0M553.9 471.4h0M554.1 471.6h0M554.2 472.1h0M554.4 475.4h0M555.0 475.0h0M555.2 474.1h0M555.4 476.8h0M555.6 477.6h0M555.8 475.2h0M556.4 474.8h0M556.6 477.3h0M556.7 477.6h0M556.9 475.3h0M557.1 476.7h0M557.7 476.8h0M557.9 479.0h0M558.1 475.9h0M558.3 478.3h0M558.5 478.2h0M559.1 474.9h0M559.2 478.0h0M559.4 478.4h0M559.6 474.4h0M559.8 478.7h0M560.4 474.6h0M560.6 473.6h0M560.8 474.1h0M561.0 476.6h0M561.2 477.0h0M561.7 475.5h0M561.9 477.5h0M562.1 476.5h0M562.3 477.0h0M562.5 477.0h0M563.1 475.1h0M563.3 468.8h0M563.5 469.0h0M563.7 468.1h0M563.9 469.5h0M564.4 469.2h0M564.6 465.9h0M564.8 465.0h0M565.0 465.8h0M565.2 466.3h0M565.8 463.0h0M566.0 466.4h0M566.2 466.1h0M566.4 465.7h0M566.6 466.2h0M567.1 462.4h0M567.3 463.2h0M567.5 465.7h0M567.7 466.0h0M567.9 465.0h0M568.5 463.6h0M568.7 461.8h0M568.9 466.3h0M569.1 466.3h0M569.3 463.9h0M569.8 460.8h0M570.0 461.2h0M570.2 460.8h0M570.4 466.7h0M570.6 466.7h0M571.2 464.1h0M571.4 464.9h0M571.6 471.5h0M571.8 471.5h0M571.9 465.7h0M572.5 467.5h0M572.7 465.8h0M572.9 465.6h0M573.1 468.0h0M573.3 473.2h0M573.9 473.8h0M574.1 472.8h0M574.3 471.0h0M574.4 471.7h0M574.6 473.6h0M575.2 469.8h0M575.4 469.2h0M575.6 474.3h0M575.8 473.8h0M576.0 475.2h0M576.6 474.7h0M576.8 475.8h0M577.0 473.2h0M577.1 474.5h0M577.3 476.2h0M577.9 476.6h0M578.1 474.5h0M578.3 476.5h0M578.5 474.2h0M578.7 472.6h0M579.3 476.5h0M579.5 479.7h0M579.6 480.1h0M579.8 475.7h0M580.0 479.6h0M580.6 481.5h0M580.8 479.2h0M581.0 476.0h0M581.2 480.4h0M581.4 482.4h0M582.0 482.1h0M582.1 476.9h0M582.3 476.5h0M582.5 480.9h0M582.7 482.2h0M583.3 481.9h0M583.5 480.1h0M583.7 481.0h0M583.9 479.0h0M584.1 478.9h0M584.6 477.9h0M584.8 479.8h0M585.0 478.9h0M585.2 481.3h0M585.4 481.3h0M586.0 477.3h0M586.2 480.7h0M586.4 476.5h0M586.6 478.0h0M586.8 479.3h0M587.3 478.8h0M587.5 473.1h0M587.7 476.4h0M587.9 477.6h0M588.1 477.7h0M588.7 471.5h0M588.9 471.6h0M589.1 472.5h0M589.3 472.1h0M589.5 475.3h0M590.0 471.8h0M590.2 474.4h0M590.4 473.9h0M590.6 469.6h0M590.8 469.0h0M591.4 468.8h0M591.6 470.0h0M591.8 472.1h0M592.0 470.4h0M592.2 471.9h0M592.7 467.5h0M592.9 466.8h0M593.1 467.1h0M593.3 469.5h0M593.5 468.7h0M594.1 467.3h0M594.3 469.5h0M594.5 472.2h0M594.7 470.6h0M594.8 468.1h0M595.4 467.1h0M595.6 471.7h0M595.8 470.2h0M596.0 470.7h0M596.2 471.7h0M596.8 472.2h0M597.0 468.9h0M597.2 471.6h0M597.3 472.2h0M597.5 472.0h0M598.1 473.0h0M598.3 470.5h0M598.5 470.6h0M598.7 469.8h0M598.9 472.4h0M599.5 470.6h0M599.7 472.3h0M599.9 469.9h0M600.0 471.0h0M600.2 471.0h0M600.8 471.7h0M601.0 472.6h0M601.2 472.2h0M601.4 472.1h0M601.6 469.9h0M602.2 473.9h0M602.4 472.1h0M602.5 472.3h0M602.7 471.4h0M602.9 474.9h0M603.5 472.3h0M603.7 474.5h0M603.9 476.3h0M604.1 476.8h0M604.3 476.7h0M604.9 476.1h0M605.0 471.8h0M605.2 475.6h0M605.4 476.2h0M605.6 476.0h0M606.2 475.7h0M606.4 474.2h0M606.6 471.8h0M606.8 475.0h0M607.0 475.8h0M607.5 470.9h0M607.7 474.2h0M607.9 473.5h0M608.1 474.5h0M608.3 473.1h0M608.9 472.9h0M609.1 472.6h0M609.3 472.0h0M609.5 466.5h0M609.7 469.5h0M610.2 467.4h0M610.4 464.2h0M610.6 466.7h0M610.8 463.1h0M611.0 466.1h0M611.6 468.2h0M611.8 465.9h0M612.0 467.6h0M612.2 467.5h0M612.4 467.8h0M612.9 464.3h0M613.1 467.0h0M613.3 467.1h0M613.5 468.4h0M613.7 467.5h0M614.3 469.5h0M614.5 468.9h0M614.7 469.4h0M614.9 470.3h0M615.1 469.5h0M615.6 470.6h0M615.8 469.9h0M616.0 470.2h0M616.2 468.2h0M616.4 470.3h0M617.0 471.8h0M617.2 470.4h0M617.4 471.5h0M617.6 471.3h0M617.7 468.2h0M618.3 470.5h0M618.5 472.8h0M618.7 470.6h0M618.9 468.0h0M619.1 470.0h0M619.7 469.7h0M619.9 474.1h0M620.1 472.8h0M620.2 472.2h0M620.4 470.7h0M621.0 472.5h0M621.2 471.3h0M621.4 470.5h0M621.6 471.8h0M621.8 471.0h0M622.4 475.2h0M622.6 471.7h0M622.8 472.7h0M622.9 471.9h0M623.1 471.1h0M623.7 475.9h0M623.9 471.5h0M624.1 475.7h0M624.3 472.3h0M624.5 473.7h0M625.1 477.1h0M625.3 472.6h0M625.4 472.4h0M625.6 476.1h0M625.8 475.8h0M626.4 474.4h0M626.6 474.8h0M626.8 473.4h0M627.0 474.7h0M627.2 477.1h0M627.8 475.3h0M627.9 475.4h0M628.1 477.0h0M628.3 477.5h0M628.5 475.6h0M629.1 475.8h0M629.3 474.3h0M629.5 473.7h0M629.7 473.9h0M629.9 473.6h0M630.4 472.7h0M630.6 472.5h0M630.8 472.8h0M631.0 474.3h0M631.2 476.8h0M631.8 474.8h0M632.0 474.7h0M632.2 476.1h0M632.4 476.6h0M632.6 475.4h0M633.1 475.0h0M633.3 477.1h0M633.5 475.4h0M633.7 474.1h0M633.9 472.5h0M634.5 474.3h0M634.7 474.0h0M634.9 476.8h0M635.1 475.1h0M635.3 476.1h0M635.8 476.3h0M636.0 476.7h0M636.2 473.3h0M636.4 476.3h0M636.6 475.2h0M637.2 474.4h0M637.4 473.7h0M637.6 473.3h0M637.8 473.2h0M638.0 471.6h0M638.5 473.4h0M638.7 474.0h0M638.9 472.5h0M639.1 473.4h0M639.3 476.4h0M639.9 475.8h0M640.1 474.1h0M640.3 476.3h0M640.5 473.7h0M640.6 473.7h0M641.2 473.0h0M641.4 473.3h0M641.6 475.1h0M641.8 475.4h0M642.0 473.3h0M642.6 473.6h0M642.8 474.1h0M643.0 473.3h0M643.2 473.8h0M643.3 472.7h0M643.9 472.4h0M644.1 473.5h0M644.3 472.3h0M644.5 474.1h0M644.7 473.7h0M645.3 472.4h0M645.5 472.5h0M645.7 472.7h0M645.8 473.3h0M646.0 474.0h0M646.6 473.7h0M646.8 472.5h0M647.0 475.8h0M647.2 476.0h0M647.4 475.1h0M648.0 475.8h0M648.2 475.3h0M648.3 474.1h0M648.5 474.2h0M648.7 476.5h0M649.3 476.3h0M649.5 476.3h0M649.7 474.5h0M649.9 475.2h0M650.1 476.5h0M650.7 476.0h0M650.8 476.1h0M651.0 476.3h0M651.2 476.0h0M651.4 476.4h0M652.0 475.6h0M652.2 475.5h0M652.4 473.5h0M652.6 476.5h0M652.8 475.9h0M653.3 475.0h0M653.5 476.2h0M653.7 474.2h0M653.9 474.1h0M654.1 472.7h0M654.7 473.6h0M654.9 473.2h0M655.1 474.8h0M655.3 474.1h0M655.5 473.0h0M656.0 473.2h0M656.2 473.6h0M656.4 473.1h0M656.6 475.5h0M656.8 475.9h0M657.4 475.4h0M657.6 472.9h0M657.8 475.0h0M658.0 472.8h0M658.2 474.4h0M658.7 474.9h0M658.9 474.0h0M659.1 473.4h0M659.3 473.5h0M659.5 477.4h0M660.1 476.0h0M660.3 475.3h0M660.5 477.1h0M660.7 476.9h0M660.9 477.6h0M661.4 474.6h0M661.6 473.9h0M661.8 478.4h0M662.0 477.6h0M662.2 476.1h0M662.8 476.0h0M663.0 477.3h0M663.2 474.0h0M663.4 475.4h0M663.5 475.3h0M664.1 476.3h0M664.3 475.7h0M664.5 474.0h0M664.7 472.9h0M664.9 471.7h0M665.5 474.4h0M665.7 471.8h0M665.9 472.3h0M666.1 476.3h0M666.2 473.9h0M666.8 474.3h0M667.0 472.8h0M667.2 473.9h0M667.4 472.9h0M667.6 471.3h0M668.2 473.3h0M668.4 471.4h0M668.6 468.8h0M668.7 469.2h0M668.9 470.9h0M669.5 468.0h0M669.7 470.2h0M669.9 470.7h0M670.1 471.4h0M670.3 469.5h0M670.9 470.3h0M671.1 467.0h0M671.2 467.5h0M671.4 468.7h0M671.6 469.7h0M672.2 469.2h0M672.4 468.9h0M672.6 468.0h0M672.8 467.9h0M673.0 469.2h0M673.6 470.1h0M673.7 470.5h0M673.9 471.0h0M674.1 471.2h0M674.3 467.3h0M674.9 467.7h0M675.1 468.5h0M675.3 468.0h0M675.5 470.7h0M675.7 471.1h0M676.2 470.1h0M676.4 470.1h0M676.6 471.7h0M676.8 470.0h0M677.0 469.3h0M677.6 471.3h0M677.8 471.3h0M678.0 472.2h0M678.2 471.7h0M678.4 471.8h0M678.9 470.0h0M679.1 468.7h0M679.3 469.8h0M679.5 467.9h0M679.7 469.5h0M680.3 471.9h0M680.5 471.3h0M680.7 470.6h0M680.9 472.4h0M681.1 471.4h0M681.6 472.7h0M681.8 473.4h0M682.0 473.2h0M682.2 473.2h0M682.4 472.9h0M683.0 472.6h0M683.2 472.5h0M683.4 472.2h0M683.6 473.6h0M683.8 470.1h0M684.3 471.0h0M684.5 473.1h0M684.7 471.2h0M684.9 471.9h0M685.1 471.2h0M685.7 473.2h0M685.9 474.5h0M686.1 475.3h0M686.3 474.9h0M686.4 472.7h0M687.0 473.7h0M687.2 474.6h0M687.4 475.7h0M687.6 471.5h0M687.8 473.4h0M688.4 471.6h0M688.6 474.1h0M688.8 474.9h0M689.0 475.3h0M689.1 476.0h0M689.7 475.8h0M689.9 473.9h0M690.1 475.0h0M690.3 476.5h0M690.5 475.3h0M691.1 475.1h0M691.3 473.1h0M691.5 476.2h0M691.6 474.5h0M691.8 473.6h0M692.4 473.9h0M692.6 473.5h0M692.8 474.2h0M693.0 477.0h0M693.2 477.1h0M693.8 477.7h0M694.0 477.9h0M694.1 475.3h0M694.3 476.4h0M694.5 477.8h0M695.1 478.1h0M695.3 475.0h0M695.5 473.6h0M695.7 475.6h0M695.9 475.2h0M696.5 474.1h0M696.6 475.9h0M696.8 474.6h0M697.0 473.4h0M697.2 474.5h0M697.8 475.7h0M698.0 477.1h0M698.2 477.9h0M698.4 477.4h0M698.6 476.4h0M699.2 475.8h0M699.3 474.7h0M699.5 475.5h0M699.7 478.4h0M699.9 478.9h0M700.5 480.3h0M700.7 479.2h0M700.9 476.1h0M701.1 478.9h0M701.3 480.2h0M701.8 477.6h0M702.0 476.7h0M702.2 478.2h0M702.4 480.0h0M702.6 477.5h0M703.2 477.9h0M703.4 477.4h0M703.6 476.9h0M703.8 476.7h0M704.0 478.2h0M704.5 478.1h0M704.7 477.6h0M704.9 476.5h0M705.1 480.3h0M705.3 477.9h0M705.9 478.4h0M706.1 477.1h0M706.3 478.8h0M706.5 476.7h0M706.7 478.0h0M707.2 478.0h0M707.4 479.8h0M707.6 477.1h0M707.8 476.8h0M708.0 477.3h0M708.6 480.3h0M708.8 476.6h0M709.0 477.9h0M709.2 476.7h0M709.3 477.9h0M709.9 478.7h0M710.1 478.1h0M710.3 478.1h0M710.5 478.0h0M710.7 476.3h0M711.3 476.1h0M711.5 474.3h0M711.7 474.9h0M711.9 474.6h0M712.0 475.1h0M712.6 476.8h0M712.8 476.8h0M713.0 476.8h0M713.2 477.5h0M713.4 473.1h0M714.0 474.6h0M714.2 474.6h0M714.4 474.2h0M714.5 472.1h0M714.7 473.9h0M715.3 474.8h0M715.5 474.7h0M715.7 473.0h0M715.9 473.4h0M716.1 473.6h0M716.7 473.4h0M716.9 473.0h0M717.0 471.6h0M717.2 470.4h0M717.4 469.8h0M718.0 468.7h0M718.2 466.8h0M718.4 468.6h0M718.6 465.8h0M718.8 464.6h0M719.4 468.0h0M719.5 467.7h0M719.7 469.0h0M719.9 468.1h0M720.1 472.1h0M720.7 474.3h0M720.9 474.2h0M721.1 475.6h0M721.3 475.7h0M721.5 474.0h0M722.1 478.3h0M722.2 476.5h0M722.4 478.1h0M722.6 479.0h0M722.8 477.1h0M723.4 477.0h0M723.6 475.3h0M723.8 477.8h0M724.0 476.2h0M724.2 474.5h0M724.7 477.4h0M724.9 477.6h0M725.1 474.8h0M725.3 477.1h0M725.5 476.3h0M726.1 477.4h0M726.3 477.2h0M726.5 475.2h0M726.7 474.1h0M726.9 472.6h0M727.4 473.2h0M727.6 473.3h0M727.8 474.4h0M728.0 473.6h0M728.2 470.8h0M728.8 470.3h0M729.0 473.6h0M729.2 473.8h0M729.4 472.0h0M729.6 471.1h0M730.1 469.8h0M730.3 469.7h0M730.5 467.3h0M730.7 469.7h0M730.9 467.9h0M731.5 467.8h0M731.7 465.1h0M731.9 466.1h0M732.1 468.6h0M732.2 464.1h0M732.8 466.6h0M733.0 466.0h0M733.2 463.2h0M733.4 461.1h0M733.6 464.3h0M734.2 462.7h0M734.4 462.8h0M734.6 460.9h0M734.8 459.2h0M734.9 461.9h0M735.5 458.7h0M735.7 461.4h0M735.9 457.4h0M736.1 457.3h0M736.3 456.8h0M736.9 460.4h0M737.1 456.4h0M737.3 456.0h0M737.4 458.4h0M737.6 458.5h0M738.2 459.9h0M738.4 459.7h0M738.6 459.0h0M738.8 458.4h0M739.0 453.4h0M739.6 452.5h0M739.8 453.1h0M739.9 453.5h0M740.1 451.7h0M740.3 451.5h0M740.9 450.9h0M741.1 454.3h0M741.3 454.2h0M741.5 452.4h0M741.7 451.7h0M742.3 451.9h0M742.4 449.8h0M742.6 449.7h0M742.8 447.6h0M743.0 450.0h0M743.6 450.7h0M743.8 449.8h0M744.0 449.5h0M744.2 448.8h0M744.4 450.0h0M745.0 447.5h0M745.1 443.2h0M745.3 442.3h0M745.5 444.7h0M745.7 445.8h0M746.3 444.6h0M746.5 444.3h0M746.7 442.9h0M746.9 439.0h0M747.1 438.7h0M747.6 436.8h0M747.8 437.2h0M748.0 436.3h0M748.2 438.0h0M748.4 438.4h0M749.0 436.2h0M749.2 439.6h0M749.4 441.6h0M749.6 437.1h0M749.8 439.2h0M750.3 439.8h0M750.5 437.0h0M750.7 438.1h0M750.9 436.3h0M751.1 436.5h0M751.7 432.3h0M751.9 430.1h0M752.1 430.1h0M752.3 429.8h0M752.5 428.1h0M753.0 423.2h0M753.2 420.4h0M753.4 419.2h0M753.6 417.4h0M753.8 417.4h0M754.4 417.3h0M754.6 417.4h0M754.8 418.0h0M755.0 418.9h0M755.2 421.7h0M755.7 423.4h0M755.9 421.5h0M756.1 422.9h0M756.3 422.2h0M756.5 422.9h0M757.1 424.4h0M757.3 424.0h0M757.5 423.3h0M757.7 423.3h0M757.8 424.9h0M758.4 429.6h0M758.6 426.9h0M758.8 429.2h0M759.0 428.3h0M759.2 428.3h0M759.8 421.9h0M760.0 421.4h0M760.2 421.0h0M760.3 414.5h0M760.5 416.5h0M761.1 411.0h0M761.3 403.4h0M761.5 406.9h0M761.7 403.8h0M761.9 401.5h0M762.5 395.4h0M762.7 388.5h0M762.8 380.9h0M763.0 380.0h0M763.2 379.2h0M763.8 389.8h0M764.0 388.8h0M764.2 380.7h0M764.4 375.0h0M764.6 378.2h0M765.2 379.5h0M765.3 370.7h0M765.5 366.1h0M765.7 382.1h0M765.9 381.7h0M766.5 364.0h0M766.7 360.4h0M766.9 360.7h0M767.1 366.4h0M767.3 371.7h0M767.9 365.2h0M768.0 357.0h0M768.2 362.7h0M768.4 368.5h0M768.6 365.6h0M769.2 359.3h0M769.4 365.2h0M769.6 362.1h0M769.8 353.7h0M770.0 358.0h0M770.5 349.7h0M770.7 360.8h0M770.9 361.2h0M771.1 350.2h0M771.3 354.4h0M771.9 360.6h0M772.1 342.7h0M772.3 345.7h0M772.5 358.9h0M772.7 342.5h0M773.2 343.2h0M773.4 337.5h0M773.6 342.0h0M773.8 337.4h0M774.0 338.2h0M774.6 342.1h0M774.8 348.5h0M775.0 354.0h0M775.2 357.4h0M775.4 363.4h0M775.9 367.4h0M776.1 368.8h0M776.3 358.4h0M776.5 361.5h0M776.7 377.4h0M777.3 384.3h0M777.5 386.0h0M777.7 384.6h0M777.9 384.2h0M778.1 375.6h0M778.6 383.3h0M778.8 375.1h0M779.0 372.3h0M779.2 381.3h0M779.4 360.3h0M780.0 363.3h0M780.2 351.7h0M780.4 351.6h0M780.6 354.2h0M780.7 352.4h0M781.3 350.8h0M781.5 343.5h0M781.7 344.2h0M781.9 337.1h0M782.1 337.2h0M782.7 328.4h0M782.9 336.0h0M783.1 325.7h0M783.2 333.6h0M783.4 327.2h0M784.0 320.7h0M784.2 328.8h0M784.4 323.0h0M784.6 307.8h0M784.8 313.9h0M785.4 304.2h0M785.6 310.0h0M785.7 311.7h0M785.9 308.8h0M786.1 316.0h0M786.7 323.0h0M786.9 338.9h0M787.1 332.3h0M787.3 341.9h0M787.5 343.0h0M788.1 336.7h0M788.2 331.2h0M788.4 345.1h0M788.6 339.2h0M788.8 338.3h0M789.4 332.0h0M789.6 324.4h0M789.8 325.4h0M790.0 322.4h0M790.2 321.5h0M790.8 327.4h0M790.9 344.1h0M791.1 346.6h0M791.3 342.4h0M791.5 341.2h0M792.1 347.0h0M792.3 352.8h0M792.5 351.0h0M792.7 344.6h0M792.9 343.8h0M793.4 355.9h0M793.6 359.8h0M793.8 353.2h0M794.0 342.7h0M794.2 352.4h0M794.8 351.2h0M795.0 351.7h0M795.2 357.2h0M795.4 353.1h0M795.6 343.3h0M796.1 339.8h0M796.3 342.4h0M796.5 339.9h0M796.7 345.0h0M796.9 339.3h0M797.5 339.7h0M797.7 336.5h0M797.9 338.1h0M798.1 338.3h0M798.3 344.2h0M798.8 347.2h0M799.0 341.2h0M799.2 333.9h0M799.4 345.4h0M799.6 341.8h0M800.2 336.6h0M800.4 334.8h0M800.6 335.1h0M800.8 331.7h0M801.0 327.2h0M801.5 313.7h0M801.7 298.4h0M801.9 292.4h0M802.1 292.1h0M802.3 292.9h0M802.9 287.4h0M803.1 288.8h0M803.3 286.6h0M803.5 281.4h0M803.6 273.7h0M804.2 284.4h0M804.4 287.3h0M804.6 276.3h0M804.8 283.0h0M805.0 284.0h0M805.6 281.9h0M805.8 270.9h0M806.0 270.8h0M806.1 272.2h0M806.3 287.4h0M806.9 276.5h0M807.1 276.2h0M807.3 272.1h0M807.5 273.6h0M807.7 280.3h0M808.3 270.5h0M808.5 270.0h0M808.6 276.0h0M808.8 279.2h0M809.0 275.5h0M809.6 286.5h0M809.8 289.2h0M810.0 271.1h0M810.2 274.9h0M810.4 287.2h0M811.0 277.6h0M811.2 275.2h0M811.3 282.2h0M811.5 274.5h0M811.7 267.8h0M812.3 271.4h0M812.5 270.4h0M812.7 281.6h0M812.9 272.4h0M813.1 288.0h0M813.7 275.7h0M813.8 282.2h0M814.0 276.4h0M814.2 280.3h0M814.4 294.8h0M815.0 300.5h0M815.2 300.9h0M815.4 293.2h0M815.6 290.0h0M815.8 289.4h0M816.3 290.0h0M816.5 281.1h0M816.7 290.2h0M816.9 286.8h0M817.1 298.6h0M817.7 325.7h0M817.9 326.9h0M818.1 324.2h0M818.3 324.9h0M818.5 324.3h0M819.0 328.0h0M819.2 329.9h0M819.4 334.9h0M819.6 330.0h0M819.8 339.8h0M820.4 340.9h0M820.6 343.4h0M820.8 344.1h0M821.0 335.1h0M821.2 337.6h0M821.7 344.6h0M821.9 336.5h0M822.1 339.8h0M822.3 336.3h0M822.5 335.7h0M823.1 334.2h0M823.3 328.2h0M823.5 330.0h0M823.7 327.5h0M823.9 325.7h0M824.4 327.8h0M824.6 330.8h0M824.8 328.2h0M825.0 325.4h0M825.2 321.5h0M825.8 314.1h0M826.0 314.7h0M826.2 317.3h0M826.4 314.4h0M826.5 314.4h0M827.1 308.0h0M827.3 313.7h0M827.5 300.3h0M827.7 305.7h0M827.9 306.9h0M828.5 304.7h0M828.7 294.2h0M828.9 291.8h0M829.0 294.6h0M829.2 298.4h0M829.8 290.6h0M830.0 289.5h0M830.2 299.1h0M830.4 306.7h0M830.6 297.5h0M831.2 293.9h0M831.4 292.8h0M831.5 311.0h0M831.7 308.9h0M831.9 303.5h0M832.5 309.0h0M832.7 311.9h0M832.9 311.6h0M833.1 298.2h0M833.3 300.2h0M833.9 298.5h0M834.1 298.3h0M834.2 294.5h0M834.4 296.1h0M834.6 294.2h0M835.2 299.8h0M835.4 300.6h0M835.6 293.3h0M835.8 291.9h0M836.0 293.2h0M836.6 299.9h0M836.7 301.6h0M836.9 298.6h0M837.1 289.7h0M837.3 289.9h0M837.9 289.0h0M838.1 290.1h0M838.3 287.5h0M838.5 288.3h0M838.7 285.6h0M839.2 293.0h0M839.4 289.9h0M839.6 281.8h0M839.8 278.3h0M840.0 275.7h0M840.6 273.5h0M840.8 268.9h0M841.0 268.9h0M841.2 274.1h0M841.4 273.8h0M841.9 268.8h0M842.1 270.8h0M842.3 267.0h0M842.5 257.5h0M842.7 252.1h0M843.3 247.0h0M843.5 248.7h0M843.7 252.1h0M843.9 256.2h0M844.1 245.7h0M844.6 236.5h0M844.8 243.7h0M845.0 246.5h0M845.2 237.0h0M845.4 237.7h0M846.0 235.8h0M846.2 230.7h0M846.4 224.5h0M846.6 213.9h0M846.8 227.0h0M847.3 232.9h0M847.5 233.1h0M847.7 230.4h0M847.9 227.1h0M848.1 232.8h0M848.7 244.2h0M848.9 255.2h0M849.1 246.8h0M849.3 257.1h0M849.4 253.4h0M850.0 255.9h0M850.2 241.8h0M850.4 242.7h0M850.6 247.1h0M850.8 238.0h0M851.4 207.4h0M851.6 208.0h0M851.8 211.8h0M851.9 201.5h0M852.1 197.1h0M852.7 190.5h0M852.9 183.9h0M853.1 189.8h0M853.3 178.4h0M853.5 174.0h0M854.1 166.9h0M854.3 174.1h0M854.4 160.9h0M854.6 159.3h0M854.8 158.9h0M855.4 136.2h0M855.6 144.6h0M855.8 138.4h0M856.0 135.7h0M856.2 121.7h0M856.8 125.1h0M857.0 127.4h0M857.1 131.0h0M857.3 135.6h0M857.5 144.2h0M858.1 159.1h0M858.3 157.1h0M858.5 157.4h0M858.7 162.6h0M858.9 169.0h0M859.5 165.2h0M859.6 170.3h0M859.8 169.2h0M860.0 169.6h0M860.2 174.3h0M860.8 172.8h0M861.0 172.2h0M861.2 177.1h0M861.4 177.4h0M861.6 178.2h0M862.1 186.2h0M862.3 192.2h0M862.5 188.9h0M862.7 197.0h0M862.9 198.4h0M863.5 208.2h0M863.7 210.2h0M863.9 211.0h0M864.1 204.8h0M864.3 204.8h0M864.8 201.0h0M865.0 218.0h0M865.2 212.9h0M865.4 214.4h0M865.6 219.0h0M866.2 205.0h0M866.4 203.9h0M866.6 206.0h0M866.8 204.2h0M867.0 203.5h0M867.5 205.8h0M867.7 217.7h0M867.9 216.8h0M868.1 208.9h0M868.3 203.5h0M868.9 177.0h0M869.1 195.9h0M869.3 200.3h0M869.5 175.3h0M869.7 185.3h0M870.2 173.4h0M870.4 164.1h0M870.6 154.4h0M870.8 153.4h0M871.0 149.5h0M871.6 161.6h0M871.8 163.7h0M872.0 160.6h0M872.2 149.9h0M872.3 141.7h0M872.9 156.3h0M873.1 129.5h0M873.3 149.1h0M873.5 147.0h0M873.7 142.4h0M874.3 130.3h0M874.5 129.7h0M874.7 121.7h0M874.8 119.7h0M875.0 123.5h0M875.6 117.4h0M875.8 124.8h0M876.0 129.4h0M876.2 111.5h0M876.4 109.8h0M877.0 110.4h0M877.2 114.1h0M877.3 113.4h0M877.5 114.6h0M877.7 115.8h0M878.3 111.3h0M878.5 111.7h0M878.7 108.4h0M878.9 110.9h0M879.1 98.0h0M879.7 106.4h0M879.9 105.9h0M880.0 127.2h0M880.2 137.9h0M880.4 146.5h0M881.0 153.5h0M881.2 164.6h0M881.4 162.7h0M881.6 159.1h0M881.8 158.3h0M882.4 149.9h0M882.5 127.9h0M882.7 141.5h0M882.9 132.3h0M883.1 127.6h0M883.7 136.6h0M883.9 127.4h0M884.1 116.1h0M884.3 113.6h0M884.5 117.0h0M885.0 120.7h0M885.2 124.7h0M885.4 119.5h0M885.6 114.0h0M885.8 125.4h0M886.4 117.2h0M886.6 127.0h0M886.8 123.3h0M887.0 121.5h0M887.2 116.2h0M887.7 120.4h0M887.9 113.8h0M888.1 110.0h0M888.3 113.6h0M888.5 110.3h0M889.1 132.5h0M889.3 139.8h0M889.5 138.5h0M889.7 138.7h0M889.9 139.0h0M890.4 151.5h0M890.6 147.5h0M890.8 141.5h0M891.0 141.9h0M891.2 148.8h0M891.8 147.0h0M892.0 146.6h0M892.2 146.1h0M892.4 149.2h0M892.6 152.2h0M893.1 154.7h0M893.3 144.1h0M893.5 144.3h0M893.7 143.7h0M893.9 150.0h0M894.5 157.4h0M894.7 159.2h0M894.9 156.5h0M895.1 158.8h0M895.2 155.7h0M895.8 154.7h0M896.0 150.4h0M896.2 151.3h0M896.4 152.3h0M896.6 158.0h0M897.2 161.0h0M897.4 158.1h0M897.6 159.2h0M897.7 159.5h0M897.9 157.4h0M898.5 174.5h0M898.7 175.5h0M898.9 175.3h0M899.1 177.5h0M899.3 180.2h0M899.9 181.2h0M900.1 181.3h0M900.3 185.5h0M900.4 177.9h0M900.6 185.8h0M901.2 172.3h0M901.4 175.0h0M901.6 177.6h0M901.8 172.1h0M902.0 168.7h0M902.6 172.0h0M902.8 166.8h0M902.9 171.8h0M903.1 173.0h0M903.3 167.3h0M903.9 161.8h0M904.1 167.1h0M904.3 164.2h0M904.5 153.9h0M904.7 156.5h0M905.3 156.5h0M905.4 154.5h0M905.6 152.9h0M905.8 149.6h0M906.0 148.0h0M906.6 142.3h0M906.8 140.1h0M907.0 147.1h0M907.2 142.1h0M907.4 143.6h0M907.9 136.9h0M908.1 138.9h0M908.3 136.3h0M908.5 143.3h0M908.7 137.3h0M909.3 132.2h0M909.5 136.0h0M909.7 136.7h0M909.9 128.9h0M910.1 131.0h0M910.6 136.0h0M910.8 129.9h0M911.0 135.4h0M911.2 131.8h0M911.4 128.6h0M912.0 129.1h0M912.2 129.0h0M912.4 125.0h0M912.6 143.9h0M912.8 135.0h0M913.3 127.4h0M913.5 140.2h0M913.7 135.5h0M913.9 146.7h0M914.1 136.8h0M914.7 140.4h0M914.9 138.8h0M915.1 139.3h0M915.3 135.4h0M915.5 135.6h0M916.0 152.1h0M916.2 138.0h0M916.4 133.9h0M916.6 135.1h0M916.8 145.3h0M917.4 148.5h0M917.6 153.3h0M917.8 137.0h0M918.0 144.8h0M918.1 144.0h0M918.7 143.5h0M918.9 147.2h0M919.1 136.8h0M919.3 144.0h0M919.5 147.6h0M920.1 139.8h0M920.3 144.2h0M920.5 157.4h0M920.6 149.8h0M920.8 154.0h0M921.4 150.5h0M921.6 146.1h0M921.8 145.2h0M922.0 147.3h0M922.2 157.3h0M922.8 158.2h0M923.0 152.4h0M923.2 157.2h0M923.3 155.2h0M923.5 174.3h0M924.1 182.4h0M924.3 178.4h0M924.5 176.6h0M924.7 189.4h0M924.9 178.1h0M925.5 187.1h0M925.7 180.3h0M925.8 184.6h0M926.0 186.2h0M926.2 185.6h0M926.8 182.6h0M927.0 185.9h0M927.2 189.4h0M927.4 186.7h0M927.6 190.1h0M928.2 198.7h0M928.3 192.0h0M928.5 195.5h0M928.7 190.0h0M928.9 195.6h0M929.5 200.0h0M929.7 202.5h0M929.9 200.3h0M930.1 196.5h0M930.3 197.2h0M930.8 177.2h0M833.5 319.5h0M834.5 330.0h0M833.5 337.0h0M201.5 273.3h0M208.3 273.3h0M213.5 277.0h0M214.5 281.0h0M224.0 275.0h0M224.0 277.5h0M225.0 283.0h0M203.0 279.0h0M209.0 280.0h0M218.0 279.0h0M221.0 281.0h0M360.5 316.0h0M360.5 321.0h0M382.5 313.0h0M380.0 322.0h0M377.0 329.0h0M384.5 286.0h0M393.5 288.0h0M122.5 411.3h0M122.0 418.3h0M121.5 448.7h0M856.4 121.5h0M856.2 125.5h0M855.6 129.0h0M857.0 133.0h0M883.2 141.2h0M888.7 105.3h0M884.6 111.0h0M888.7 113.0h0M914.3 121.0h0M915.2 125.0h0M809.4 236.4h0M807.0 241.6h0M808.0 246.0h0M808.2 250.0h0M808.0 254.0h0M809.0 259.0h0M810.0 264.0h0M811.0 268.0h0M808.8 243.0h0M809.6 254.0h0M160.5 353.0h0M168.0 345.0h0M168.5 349.0h0M169.0 356.0h0M176.5 350.0h0M175.5 357.0h0M177.0 340.5h0M176.0 331.0h0M179.5 260.3h0M178.5 277.0h0M178.5 282.0h0M185.5 282.2h0M179.5 290.5h0M186.0 290.0h0M183.5 329.5h0M204.5 326.0h0M204.5 328.5h0M204.5 337.5h0M207.5 317.5h0M221.0 320.0h0M237.4 418.4h0M378.0 335.0h0M378.0 340.0h0M377.4 352.0h0M378.0 357.0h0M834.4 362.0h0M881.0 171.0h0M881.0 193.0h0M881.4 193.4h0M900.6 192.0h0M785.6 307.0h0M777.4 380.4h0M510.1 409.6h0M509.4 411.2h0M507.8 411.9h0M506.2 411.2h0M505.5 409.6h0M506.2 408.0h0M507.8 407.3h0M509.4 408.0h0M507.8 409.6h0" stroke="#000" stroke-width="5.56" stroke-linecap="round" fill="none"/>
<path d="M120.8 472.0L121.0 472.0L121.2 472.0L121.4 472.0L121.6 472.0L122.1 471.9L122.3 471.9L122.5 471.8L122.7 471.8L122.9 471.8L123.5 471.6L123.7 471.6L123.9 471.5L124.1 471.5L124.3 471.3L124.8 470.2L125.0 469.7L125.2 469.2L125.4 468.6L125.6 467.9L126.2 466.1L126.4 465.5L126.6 464.9L126.8 464.5L127.0 464.1L127.5 463.2L127.7 462.9L127.9 462.7L128.1 462.4L128.3 462.2L128.9 461.6L129.1 461.3L129.3 461.1L129.5 460.8L129.7 460.6L130.2 459.6L130.4 459.2L130.6 458.8L130.8 458.4L131.0 457.9L131.6 456.5L131.8 456.0L132.0 455.5L132.2 454.9L132.3 454.4L132.9 452.7L133.1 452.1L133.3 451.6L133.5 451.0L133.7 450.4L134.3 448.7L134.5 448.1L134.7 447.5L134.8 447.0L135.0 446.4L135.6 444.6L135.8 444.0L136.0 443.4L136.2 442.8L136.4 442.1L137.0 440.1L137.2 439.4L137.3 438.6L137.5 437.8L137.7 436.9L138.3 434.2L138.5 433.3L138.7 432.5L138.9 431.7L139.1 431.1L139.7 429.7L139.9 429.4L140.0 429.1L140.2 428.9L140.4 428.6L141.0 428.0L141.2 427.8L141.4 427.6L141.6 427.5L141.8 427.3L142.4 426.6L142.5 426.4L142.7 426.2L142.9 426.0L143.1 425.9L143.7 425.3L143.9 425.2L144.1 425.0L144.3 424.8L144.5 424.6L145.0 423.9L145.2 423.7L145.4 423.4L145.6 423.1L145.8 422.8L146.4 421.7L146.6 421.2L146.8 420.6L147.0 420.0L147.2 419.4L147.7 417.1L147.9 416.3L148.1 415.4L148.3 414.3L148.5 413.1L149.1 408.9L149.3 407.5L149.5 406.2L149.7 404.8L149.9 403.3L150.4 398.5L150.6 397.0L150.8 395.6L151.0 394.4L151.2 393.4L151.8 392.0L152.0 391.7L152.2 391.4L152.4 391.2L152.6 390.9L153.1 390.3L153.3 390.2L153.5 390.1L153.7 390.0L153.9 390.0L154.5 390.1L154.7 390.2L154.9 390.3L155.1 390.4L155.2 390.5L155.8 390.8L156.0 390.9L156.2 391.0L156.4 391.0L156.6 391.0L157.2 390.2L157.4 389.7L157.6 389.1L157.7 388.5L157.9 387.9L158.5 386.1L158.7 385.6L158.9 385.2L159.1 384.8L159.3 384.5L159.9 383.6L160.1 383.3L160.3 383.1L160.4 382.8L160.6 382.5L161.2 381.8L161.4 381.6L161.6 381.4L161.8 381.2L162.0 381.0L162.6 380.5L162.8 380.4L162.9 380.3L163.1 380.2L163.3 380.1L163.9 379.6L164.1 379.5L164.3 379.3L164.5 379.0L164.7 378.7L165.3 377.1L165.4 376.4L165.6 375.6L165.8 374.8L166.0 374.0L166.6 371.6L166.8 370.8L167.0 369.9L167.2 369.0L167.4 368.0L167.9 365.1L168.1 364.1L168.3 363.2L168.5 362.2L168.7 361.3L169.3 358.7L169.5 357.9L169.7 357.1L169.9 356.4L170.1 355.6L170.6 353.3L170.8 352.6L171.0 351.8L171.2 351.1L171.4 350.3L172.0 348.0L172.2 347.2L172.4 346.4L172.6 345.5L172.8 344.7L173.3 342.1L173.5 341.2L173.7 340.5L173.9 339.7L174.1 339.1L174.7 337.5L174.9 337.0L175.1 336.6L175.3 336.2L175.5 335.8L176.0 334.7L176.2 334.4L176.4 334.1L176.6 333.7L176.8 333.4L177.4 332.3L177.6 331.9L177.8 331.5L178.0 331.1L178.1 330.7L178.7 329.1L178.9 328.6L179.1 328.1L179.3 327.5L179.5 327.0L180.1 325.3L180.3 324.8L180.5 324.3L180.6 323.8L180.8 323.4L181.4 322.0L181.6 321.6L181.8 321.1L182.0 320.7L182.2 320.2L182.8 319.1L183.0 318.8L183.2 318.6L183.3 318.5L183.5 318.5L184.1 318.8L184.3 318.9L184.5 319.1L184.7 319.4L184.9 319.6L185.5 320.3L185.7 320.5L185.8 320.7L186.0 320.8L186.2 320.9L186.8 320.7L187.0 320.3L187.2 319.7L187.4 319.1L187.6 318.3L188.2 315.8L188.3 315.0L188.5 314.3L188.7 313.6L188.9 313.1L189.5 312.1L189.7 311.8L189.9 311.5L190.1 311.2L190.3 311.0L190.8 310.5L191.0 310.5L191.2 310.5L191.4 310.5L191.6 310.6L192.2 310.7L192.4 310.8L192.6 310.8L192.8 310.9L193.0 310.9L193.5 311.0L193.7 310.9L193.9 310.8L194.1 310.5L194.3 310.2L194.9 309.1L195.1 308.7L195.3 308.4L195.5 308.1L195.7 307.7L196.2 306.6L196.4 306.2L196.6 305.8L196.8 305.4L197.0 305.0L197.6 304.2L197.8 304.1L198.0 304.0L198.2 304.1L198.4 304.3L198.9 305.7L199.1 306.3L199.3 306.9L199.5 307.5L199.7 308.2L200.3 309.7L200.5 310.3L200.7 310.9L200.9 311.5L201.0 312.0L201.6 313.4L201.8 313.8L202.0 314.0L202.2 314.2L202.4 314.4L203.0 314.9L203.2 315.0L203.4 315.1L203.5 315.2L203.7 315.3L204.3 315.5L204.5 315.5L204.7 315.5L204.9 315.4L205.1 315.4L205.7 315.1L205.9 315.0L206.1 314.8L206.2 314.7L206.4 314.6L207.0 314.1L207.2 314.0L207.4 313.8L207.6 313.7L207.8 313.6L208.4 313.3L208.6 313.2L208.7 313.1L208.9 313.0L209.1 312.9L209.7 312.7L209.9 312.6L210.1 312.5L210.3 312.5L210.5 312.5L211.1 313.0L211.2 313.4L211.4 313.8L211.6 314.3L211.8 314.9L212.4 316.5L212.6 317.1L212.8 317.5L213.0 318.0L213.2 318.3L213.7 319.6L213.9 320.0L214.1 320.5L214.3 320.9L214.5 321.4L215.1 322.5L215.3 322.9L215.5 323.2L215.7 323.4L215.9 323.7L216.4 324.0L216.6 324.0L216.8 323.9L217.0 323.7L217.2 323.5L217.8 322.4L218.0 322.0L218.2 321.6L218.4 321.2L218.6 320.8L219.1 319.8L219.3 319.4L219.5 319.0L219.7 318.6L219.9 318.2L220.5 316.9L220.7 316.4L220.9 316.0L221.1 315.6L221.3 315.3L221.8 314.4L222.0 314.2L222.2 314.1L222.4 314.0L222.6 314.0L223.2 314.9L223.4 315.3L223.6 315.9L223.8 316.5L223.9 317.2L224.5 319.1L224.7 319.8L224.9 320.6L225.1 321.4L225.3 322.4L225.9 325.4L226.1 326.3L226.3 327.3L226.4 328.1L226.6 328.9L227.2 330.5L227.4 330.9L227.6 331.3L227.8 331.6L228.0 331.9L228.6 332.8L228.8 333.0L229.0 333.3L229.1 333.6L229.3 333.8L229.9 334.8L230.1 335.2L230.3 335.6L230.5 336.1L230.7 336.5L231.3 338.0L231.5 338.5L231.6 339.0L231.8 339.6L232.0 340.1L232.6 342.1L232.8 342.8L233.0 343.6L233.2 344.3L233.4 345.1L234.0 346.8L234.1 347.2L234.3 347.4L234.5 347.5L234.7 347.5L235.3 347.3L235.5 347.2L235.7 347.1L235.9 347.0L236.1 346.9L236.6 346.5L236.8 346.4L237.0 346.3L237.2 346.2L237.4 346.1L238.0 346.0L238.2 346.0L238.4 346.1L238.6 346.1L238.8 346.2L239.3 346.7L239.5 346.8L239.7 347.0L239.9 347.1L240.1 347.3L240.7 347.7L240.9 347.8L241.1 347.9L241.3 348.0L241.5 348.0L242.0 347.9L242.2 347.8L242.4 347.7L242.6 347.5L242.8 347.4L243.4 346.9L243.6 346.7L243.8 346.6L244.0 346.4L244.2 346.3L244.7 346.0L244.9 346.0L245.1 346.0L245.3 346.1L245.5 346.3L246.1 347.1L246.3 347.5L246.5 347.9L246.7 348.3L246.8 348.8L247.4 350.1L247.6 350.5L247.8 350.9L248.0 351.3L248.2 351.6L248.8 352.3L249.0 352.4L249.2 352.6L249.3 352.7L249.5 352.8L250.1 353.2L250.3 353.3L250.5 353.4L250.7 353.5L250.9 353.6L251.5 354.0L251.7 354.1L251.9 354.3L252.0 354.5L252.2 354.7L252.8 355.5L253.0 356.0L253.2 356.5L253.4 357.1L253.6 357.7L254.2 359.9L254.4 360.6L254.5 361.4L254.7 362.1L254.9 362.8L255.5 364.9L255.7 365.6L255.9 366.4L256.1 367.2L256.3 367.9L256.9 370.1L257.0 370.8L257.2 371.3L257.4 371.8L257.6 372.3L258.2 373.4L258.4 373.7L258.6 374.0L258.8 374.3L259.0 374.5L259.5 375.4L259.7 375.6L259.9 376.0L260.1 376.3L260.3 376.6L260.9 377.9L261.1 378.4L261.3 378.9L261.5 379.5L261.7 380.0L262.2 381.8L262.4 382.4L262.6 383.0L262.8 383.6L263.0 384.2L263.6 385.9L263.8 386.4L264.0 386.9L264.2 387.4L264.4 387.9L264.9 389.3L265.1 389.7L265.3 390.2L265.5 390.6L265.7 391.1L266.3 392.3L266.5 392.8L266.7 393.2L266.9 393.6L267.1 394.0L267.6 395.2L267.8 395.6L268.0 396.0L268.2 396.4L268.4 396.8L269.0 397.9L269.2 398.3L269.4 398.7L269.6 399.1L269.7 399.5L270.3 400.8L270.5 401.3L270.7 401.8L270.9 402.3L271.1 402.8L271.7 404.3L271.9 404.7L272.1 405.1L272.3 405.5L272.4 405.9L273.0 407.1L273.2 407.4L273.4 407.8L273.6 408.1L273.8 408.4L274.4 409.2L274.6 409.3L274.8 409.4L274.9 409.5L275.1 409.5L275.7 409.5L275.9 409.5L276.1 409.5L276.3 409.5L276.5 409.5L277.1 409.5L277.3 409.5L277.4 409.5L277.6 409.5L277.8 409.5L278.4 409.4L278.6 409.3L278.8 409.2L279.0 409.0L279.2 408.8L279.8 408.2L279.9 408.1L280.1 407.9L280.3 407.8L280.5 407.6L281.1 407.5L281.3 407.6L281.5 407.8L281.7 408.0L281.9 408.3L282.4 409.3L282.6 409.8L282.8 410.2L283.0 410.6L283.2 411.0L283.8 412.2L284.0 412.5L284.2 412.8L284.4 413.1L284.6 413.4L285.1 414.4L285.3 414.8L285.5 415.1L285.7 415.4L285.9 415.7L286.5 416.3L286.7 416.4L286.9 416.5L287.1 416.5L287.3 416.4L287.8 415.9L288.0 415.6L288.2 415.3L288.4 415.0L288.6 414.7L289.2 413.6L289.4 413.2L289.6 412.9L289.8 412.5L290.0 412.0L290.5 410.3L290.7 409.7L290.9 409.1L291.1 408.4L291.3 407.8L291.9 406.1L292.1 405.7L292.3 405.3L292.5 404.9L292.6 404.7L293.2 404.6L293.4 404.8L293.6 405.2L293.8 405.6L294.0 406.1L294.6 407.8L294.8 408.4L295.0 408.9L295.2 409.4L295.3 409.9L295.9 411.4L296.1 412.0L296.3 412.5L296.5 413.0L296.7 413.6L297.3 415.0L297.5 415.5L297.7 415.9L297.8 416.2L298.0 416.6L298.6 417.3L298.8 417.6L299.0 417.8L299.2 418.0L299.4 418.2L300.0 418.7L300.2 418.9L300.3 419.1L300.5 419.4L300.7 419.6L301.3 420.6L301.5 421.0L301.7 421.4L301.9 421.9L302.1 422.5L302.7 424.2L302.8 424.8L303.0 425.4L303.2 425.9L303.4 426.5L304.0 427.9L304.2 428.2L304.4 428.6L304.6 428.8L304.8 428.9L305.3 428.8L305.5 428.5L305.7 428.2L305.9 427.8L306.1 427.3L306.7 425.5L306.9 424.8L307.1 424.1L307.3 423.4L307.5 422.7L308.0 420.9L308.2 420.3L308.4 419.7L308.6 419.1L308.8 418.4L309.4 416.5L309.6 415.9L309.8 415.2L310.0 414.5L310.2 413.9L310.7 411.9L310.9 411.2L311.1 410.6L311.3 409.9L311.5 409.3L312.1 407.3L312.3 406.6L312.5 405.9L312.7 405.3L312.9 404.6L313.4 402.7L313.6 402.1L313.8 401.5L314.0 401.0L314.2 400.4L314.8 398.6L315.0 398.1L315.2 397.5L315.4 397.0L315.5 396.4L316.1 395.1L316.3 394.8L316.5 394.5L316.7 394.2L316.9 394.0L317.5 393.5L317.7 393.4L317.9 393.3L318.1 393.1L318.2 393.0L318.8 392.6L319.0 392.5L319.2 392.3L319.4 392.2L319.6 392.0L320.2 391.2L320.4 390.8L320.6 390.2L320.7 389.6L320.9 388.9L321.5 386.7L321.7 386.0L321.9 385.3L322.1 384.6L322.3 384.0L322.9 383.0L323.1 383.0L323.2 383.1L323.4 383.2L323.6 383.3L324.2 384.1L324.4 384.4L324.6 384.7L324.8 385.1L325.0 385.5L325.6 386.5L325.7 386.8L325.9 387.1L326.1 387.4L326.3 387.6L326.9 388.0L327.1 388.0L327.3 387.8L327.5 387.6L327.7 387.2L328.3 385.7L328.4 385.2L328.6 384.6L328.8 384.0L329.0 383.5L329.6 382.3L329.8 382.1L330.0 382.0L330.2 382.0L330.4 382.0L330.9 382.2L331.1 382.3L331.3 382.4L331.5 382.5L331.7 382.6L332.3 382.9L332.5 382.9L332.7 383.0L332.9 383.0L333.1 383.0L333.6 382.8L333.8 382.7L334.0 382.6L334.2 382.5L334.4 382.3L335.0 381.8L335.2 381.6L335.4 381.4L335.6 381.2L335.8 380.9L336.3 380.3L336.5 380.1L336.7 379.9L336.9 379.7L337.1 379.6L337.7 379.2L337.9 379.1L338.1 379.0L338.3 378.9L338.4 378.9L339.0 378.7L339.2 378.7L339.4 378.6L339.6 378.6L339.8 378.6L340.4 378.5L340.6 378.4L340.8 378.4L341.0 378.4L341.1 378.3L341.7 378.1L341.9 378.0L342.1 377.9L342.3 377.8L342.5 377.6L343.1 376.7L343.3 376.3L343.5 375.9L343.6 375.4L343.8 375.0L344.4 373.5L344.6 373.0L344.8 372.5L345.0 372.0L345.2 371.5L345.8 369.7L346.0 369.0L346.1 368.3L346.3 367.6L346.5 366.9L347.1 364.8L347.3 364.1L347.5 363.5L347.7 362.9L347.9 362.3L348.5 360.9L348.6 360.4L348.8 359.9L349.0 359.5L349.2 359.0L349.8 357.8L350.0 357.4L350.2 357.1L350.4 356.8L350.6 356.5L351.2 355.9L351.3 355.7L351.5 355.5L351.7 355.4L351.9 355.3L352.5 355.0L352.7 354.9L352.9 354.8L353.1 354.7L353.3 354.7L353.8 354.4L354.0 354.4L354.2 354.3L354.4 354.2L354.6 354.1L355.2 353.7L355.4 353.6L355.6 353.4L355.8 353.2L356.0 353.0L356.5 352.1L356.7 351.6L356.9 351.0L357.1 350.4L357.3 349.7L357.9 347.3L358.1 346.5L358.3 345.6L358.5 344.7L358.7 343.8L359.2 341.2L359.4 340.3L359.6 339.5L359.8 338.5L360.0 337.4L360.6 334.1L360.8 333.0L361.0 332.1L361.2 331.2L361.4 330.4L361.9 328.9L362.1 328.4L362.3 328.0L362.5 327.6L362.7 327.2L363.3 326.6L363.5 326.5L363.7 326.5L363.9 326.6L364.0 326.7L364.6 327.4L364.8 327.6L365.0 327.9L365.2 328.2L365.4 328.6L366.0 329.5L366.2 329.8L366.4 330.1L366.5 330.4L366.7 330.6L367.3 331.0L367.5 331.0L367.7 331.0L367.9 330.8L368.1 330.6L368.7 329.8L368.9 329.4L369.0 329.0L369.2 328.6L369.4 328.2L370.0 327.1L370.2 326.8L370.4 326.5L370.6 326.3L370.8 326.1L371.4 325.9L371.5 325.9L371.7 325.9L371.9 325.8L372.1 325.8L372.7 325.8L372.9 325.8L373.1 325.8L373.3 325.7L373.5 325.7L374.1 325.7L374.2 325.6L374.4 325.6L374.6 325.6L374.8 325.5L375.4 325.2L375.6 324.9L375.8 324.6L376.0 324.2L376.2 323.8L376.7 322.2L376.9 321.6L377.1 321.1L377.3 320.5L377.5 320.0L378.1 317.8L378.3 316.9L378.5 316.0L378.7 315.1L378.9 314.2L379.4 311.6L379.6 311.0L379.8 310.4L380.0 310.0L380.2 309.6L380.8 308.6L381.0 308.3L381.2 308.1L381.4 307.8L381.6 307.7L382.1 307.5L382.3 307.5L382.5 307.5L382.7 307.6L382.9 307.6L383.5 307.8L383.7 307.9L383.9 308.0L384.1 308.1L384.3 308.2L384.8 308.5L385.0 308.7L385.2 308.8L385.4 308.9L385.6 309.1L386.2 310.0L386.4 310.5L386.6 311.0L386.8 311.5L386.9 312.1L387.5 313.7L387.7 314.3L387.9 314.8L388.1 315.2L388.3 315.7L388.9 317.1L389.1 317.5L389.3 318.0L389.4 318.5L389.6 318.9L390.2 320.3L390.4 320.7L390.6 321.1L390.8 321.6L391.0 322.0L391.6 323.1L391.8 323.5L391.9 323.8L392.1 324.2L392.3 324.5L392.9 325.6L393.1 326.1L393.3 326.5L393.5 327.0L393.7 327.5L394.3 329.3L394.4 330.0L394.6 330.7L394.8 331.5L395.0 332.2L395.6 334.4L395.8 335.1L396.0 335.9L396.2 336.7L396.4 337.5L397.0 339.8L397.1 340.6L397.3 341.4L397.5 342.2L397.7 342.9L398.3 345.1L398.5 345.7L398.7 346.4L398.9 347.0L399.1 347.7L399.6 349.5L399.8 350.2L400.0 350.8L400.2 351.4L400.4 352.0L401.0 354.0L401.2 354.7L401.4 355.3L401.6 356.0L401.8 356.7L402.3 358.8L402.5 359.6L402.7 360.3L402.9 361.0L403.1 361.7L403.7 363.8L403.9 364.6L404.1 365.3L404.3 366.0L404.5 366.7L405.0 369.1L405.2 369.8L405.4 370.6L405.6 371.4L405.8 372.1L406.4 374.2L406.6 374.8L406.8 375.4L407.0 375.9L407.2 376.4L407.7 377.5L407.9 377.8L408.1 378.2L408.3 378.5L408.5 378.9L409.1 380.2L409.3 380.8L409.5 381.4L409.7 382.2L409.8 382.9L410.4 385.5L410.6 386.3L410.8 387.2L411.0 388.1L411.2 388.9L411.8 391.2L412.0 391.9L412.2 392.5L412.3 393.1L412.5 393.6L413.1 395.3L413.3 395.9L413.5 396.4L413.7 396.9L413.9 397.4L414.5 398.9L414.7 399.3L414.8 399.8L415.0 400.2L415.2 400.6L415.8 401.7L416.0 402.0L416.2 402.3L416.4 402.6L416.6 402.9L417.2 403.6L417.4 403.8L417.5 404.0L417.7 404.2L417.9 404.4L418.5 404.9L418.7 405.1L418.9 405.3L419.1 405.5L419.3 405.7L419.9 406.3L420.0 406.6L420.2 406.8L420.4 407.1L420.6 407.4L421.2 408.4L421.4 408.8L421.6 409.2L421.8 409.7L422.0 410.3L422.5 412.1L422.7 412.7L422.9 413.3L423.1 414.0L423.3 414.7L423.9 416.6L424.1 417.3L424.3 417.9L424.5 418.5L424.7 419.1L425.2 420.6L425.4 421.2L425.6 421.7L425.8 422.3L426.0 422.9L426.6 424.6L426.8 425.2L427.0 425.7L427.2 426.2L427.4 426.7L427.9 428.0L428.1 428.3L428.3 428.6L428.5 428.8L428.7 428.9L429.3 428.9L429.5 428.8L429.7 428.7L429.9 428.5L430.1 428.3L430.6 427.6L430.8 427.3L431.0 427.0L431.2 426.7L431.4 426.4L432.0 425.7L432.2 425.4L432.4 425.3L432.6 425.1L432.7 425.0L433.3 425.1L433.5 425.2L433.7 425.4L433.9 425.6L434.1 425.9L434.7 426.9L434.9 427.3L435.1 427.7L435.2 428.2L435.4 428.6L436.0 430.0L436.2 430.4L436.4 430.8L436.6 431.2L436.8 431.6L437.4 432.6L437.6 433.0L437.7 433.3L437.9 433.6L438.1 434.0L438.7 435.0L438.9 435.3L439.1 435.7L439.3 436.0L439.5 436.3L440.1 437.3L440.3 437.7L440.4 438.0L440.6 438.4L440.8 438.7L441.4 439.8L441.6 440.2L441.8 440.6L442.0 441.0L442.2 441.5L442.8 442.9L442.9 443.3L443.1 443.8L443.3 444.2L443.5 444.7L444.1 445.9L444.3 446.2L444.5 446.6L444.7 446.9L444.9 447.2L445.4 447.8L445.6 447.9L445.8 448.0L446.0 448.0L446.2 448.0L446.8 447.7L447.0 447.5L447.2 447.3L447.4 447.1L447.6 446.9L448.1 446.1L448.3 445.9L448.5 445.6L448.7 445.4L448.9 445.1L449.5 444.4L449.7 444.3L449.9 444.1L450.1 444.0L450.3 443.8L450.8 443.5L451.0 443.4L451.2 443.4L451.4 443.3L451.6 443.2L452.2 443.0L452.4 442.9L452.6 442.8L452.8 442.7L453.0 442.7L453.5 442.3L453.7 442.2L453.9 442.1L454.1 441.9L454.3 441.7L454.9 440.6L455.1 440.2L455.3 439.8L455.5 439.3L455.6 438.9L456.2 437.7L456.4 437.4L456.6 437.2L456.8 437.1L457.0 437.0L457.6 437.2L457.8 437.3L458.0 437.4L458.1 437.6L458.3 437.8L458.9 438.4L459.1 438.6L459.3 438.8L459.5 439.0L459.7 439.2L460.3 439.7L460.5 439.8L460.6 439.9L460.8 440.0L461.0 440.0L461.6 439.9L461.8 439.8L462.0 439.7L462.2 439.7L462.4 439.6L463.0 439.3L463.2 439.2L463.3 439.1L463.5 439.1L463.7 439.0L464.3 439.1L464.5 439.4L464.7 439.7L464.9 440.1L465.1 440.5L465.7 442.2L465.8 442.8L466.0 443.4L466.2 444.0L466.4 444.6L467.0 446.3L467.2 446.8L467.4 447.2L467.6 447.6L467.8 447.8L468.3 448.1L468.5 448.2L468.7 448.3L468.9 448.3L469.1 448.4L469.7 448.5L469.9 448.5L470.1 448.5L470.3 448.5L470.5 448.6L471.0 448.7L471.2 448.7L471.4 448.8L471.6 448.9L471.8 448.9L472.4 449.3L472.6 449.6L472.8 449.9L473.0 450.2L473.2 450.6L473.7 451.9L473.9 452.3L474.1 452.8L474.3 453.2L474.5 453.7L475.1 454.9L475.3 455.2L475.5 455.5L475.7 455.7L475.9 455.9L476.4 456.2L476.6 456.2L476.8 456.3L477.0 456.3L477.2 456.4L477.8 456.5L478.0 456.5L478.2 456.5L478.4 456.6L478.5 456.6L479.1 456.7L479.3 456.8L479.5 456.8L479.7 456.9L479.9 457.0L480.5 457.3L480.7 457.5L480.9 457.7L481.0 457.9L481.2 458.2L481.8 459.1L482.0 459.4L482.2 459.7L482.4 460.1L482.6 460.4L483.2 461.3L483.4 461.6L483.5 461.9L483.7 462.1L483.9 462.4L484.5 462.9L484.7 462.9L484.9 463.0L485.1 463.0L485.3 463.0L485.9 462.7L486.1 462.6L486.2 462.4L486.4 462.2L486.6 462.0L487.2 461.4L487.4 461.1L487.6 460.9L487.8 460.6L488.0 460.4L488.6 459.6L488.7 459.3L488.9 459.1L489.1 458.8L489.3 458.5L489.9 457.4L490.1 456.9L490.3 456.5L490.5 456.1L490.7 455.7L491.2 454.6L491.4 454.4L491.6 454.2L491.8 454.0L492.0 454.0L492.6 454.2L492.8 454.3L493.0 454.5L493.2 454.7L493.4 454.9L493.9 455.7L494.1 456.0L494.3 456.2L494.5 456.5L494.7 456.8L495.3 457.6L495.5 457.9L495.7 458.1L495.9 458.3L496.1 458.5L496.6 458.9L496.8 459.0L497.0 459.0L497.2 458.9L497.4 458.8L498.0 458.0L498.2 457.6L498.4 457.2L498.6 456.7L498.8 456.2L499.3 454.6L499.5 454.0L499.7 453.4L499.9 452.9L500.1 452.3L500.7 450.7L500.9 450.3L501.1 449.9L501.3 449.4L501.4 449.0L502.0 447.4L502.2 446.9L502.4 446.4L502.6 446.0L502.8 445.5L503.4 444.5L503.6 444.2L503.8 444.1L503.9 444.0L504.1 444.0L504.7 444.5L504.9 444.8L505.1 445.2L505.3 445.6L505.5 446.0L506.1 447.5L506.3 448.0L506.4 448.6L506.6 449.1L506.8 449.6L507.4 451.0L507.6 451.4L507.8 451.7L508.0 452.0L508.2 452.2L508.8 452.9L509.0 453.1L509.1 453.3L509.3 453.5L509.5 453.7L510.1 454.2L510.3 454.3L510.5 454.5L510.7 454.7L510.9 454.8L511.5 455.4L511.6 455.6L511.8 455.8L512.0 456.0L512.2 456.3L512.8 457.2L513.0 457.6L513.2 458.0L513.4 458.4L513.6 458.7L514.1 459.9L514.3 460.2L514.5 460.6L514.7 460.9L514.9 461.2L515.5 461.8L515.7 461.9L515.9 462.0L516.1 462.0L516.3 462.0L516.8 461.6L517.0 461.4L517.2 461.2L517.4 461.0L517.6 460.7L518.2 459.9L518.4 459.6L518.6 459.3L518.8 458.9L519.0 458.6L519.5 457.7L519.7 457.4L519.9 457.1L520.1 456.8L520.3 456.6L520.9 455.8L521.1 455.5L521.3 455.2L521.5 454.9L521.7 454.6L522.2 453.8L522.4 453.5L522.6 453.2L522.8 452.9L523.0 452.6L523.6 451.7L523.8 451.4L524.0 451.1L524.2 450.7L524.3 450.4L524.9 449.2L525.1 448.7L525.3 448.3L525.5 447.9L525.7 447.5L526.3 446.5L526.5 446.3L526.7 446.1L526.8 446.0L527.0 446.0L527.6 446.3L527.8 446.5L528.0 446.8L528.2 447.0L528.4 447.3L529.0 448.2L529.2 448.4L529.4 448.6L529.5 448.8L529.7 448.9L530.3 449.0L530.5 448.9L530.7 448.9L530.9 448.8L531.1 448.7L531.7 448.4L531.9 448.3L532.0 448.2L532.2 448.2L532.4 448.1L533.0 448.0L533.2 448.0L533.4 448.1L533.6 448.2L533.8 448.3L534.4 448.8L534.5 449.0L534.7 449.2L534.9 449.5L535.1 449.7L535.7 450.6L535.9 450.8L536.1 451.1L536.3 451.6L536.5 452.1L537.0 454.2L537.2 455.0L537.4 455.8L537.6 456.6L537.8 457.3L538.4 459.2L538.6 459.6L538.8 459.9L539.0 460.0L539.2 460.0L539.7 460.0L539.9 460.0L540.1 460.0L540.3 460.0L540.5 460.0L541.1 460.0L541.3 460.0L541.5 460.0L541.7 460.0L541.9 460.0L542.4 460.0L542.6 460.0L542.8 460.0L543.0 460.0L543.2 460.1L543.8 461.2L544.0 461.7L544.2 462.4L544.4 463.0L544.6 463.7L545.1 465.8L545.3 466.5L545.5 467.0L545.7 467.5L545.9 467.9L546.5 468.5L546.7 468.7L546.9 468.9L547.1 469.0L547.2 469.2L547.8 469.5L548.0 469.7L548.2 469.8L548.4 469.9L548.6 470.0L549.2 470.4L549.4 470.5L549.6 470.6L549.7 470.8L549.9 470.9L550.5 471.6L550.7 471.8L550.9 472.1L551.1 472.3L551.3 472.6L551.9 473.6L552.1 473.9L552.3 474.2L552.4 474.5L552.6 474.8L553.2 475.6L553.4 475.9L553.6 476.1L553.8 476.3L554.0 476.5L554.6 476.9L554.8 477.0L554.9 477.0L555.1 477.0L555.3 476.9L555.9 476.6L556.1 476.5L556.3 476.3L556.5 476.1L556.7 475.8L557.3 475.0L557.4 474.8L557.6 474.5L557.8 474.2L558.0 473.9L558.6 472.9L558.8 472.6L559.0 472.3L559.2 472.1L559.4 471.8L559.9 471.1L560.1 470.8L560.3 470.6L560.5 470.4L560.7 470.1L561.3 469.4L561.5 469.1L561.7 468.9L561.9 468.7L562.1 468.5L562.6 468.1L562.8 468.0L563.0 468.0L563.2 468.1L563.4 468.2L564.0 468.9L564.2 469.3L564.4 469.6L564.6 470.0L564.8 470.5L565.3 471.7L565.5 472.2L565.7 472.6L565.9 472.9L566.1 473.2L566.7 473.9L566.9 474.0L567.1 474.0L567.3 473.9L567.5 473.8L568.0 472.9L568.2 472.5L568.4 472.0L568.6 471.5L568.8 471.0L569.4 469.3L569.6 468.8L569.8 468.2L570.0 467.6L570.1 467.1L570.7 465.6L570.9 465.2L571.1 464.8L571.3 464.4L571.5 464.0L572.1 462.7L572.3 462.3L572.5 461.9L572.6 461.5L572.8 461.1L573.4 460.3L573.6 460.1L573.8 460.0L574.0 460.0L574.2 460.0L574.8 460.6L575.0 460.9L575.2 461.3L575.3 461.7L575.5 462.1L576.1 463.6L576.3 464.2L576.5 464.7L576.7 465.2L576.9 465.7L577.5 467.1L577.7 467.4L577.8 467.8L578.0 468.0L578.2 468.3L578.8 469.0L579.0 469.2L579.2 469.4L579.4 469.5L579.6 469.7L580.2 470.2L580.3 470.4L580.5 470.6L580.7 470.7L580.9 470.9L581.5 471.5L581.7 471.7L581.9 471.9L582.1 472.1L582.3 472.3L582.8 473.2L583.0 473.5L583.2 473.8L583.4 474.1L583.6 474.4L584.2 475.4L584.4 475.8L584.6 476.1L584.8 476.4L585.0 476.7L585.5 477.5L585.7 477.7L585.9 477.9L586.1 478.1L586.3 478.3L586.9 478.5L587.1 478.5L587.3 478.4L587.5 478.2L587.7 478.0L588.2 476.9L588.4 476.5L588.6 476.0L588.8 475.5L589.0 474.9L589.6 473.2L589.8 472.7L590.0 472.2L590.2 471.7L590.4 471.2L590.9 470.1L591.1 469.8L591.3 469.6L591.5 469.4L591.7 469.2L592.3 468.6L592.5 468.4L592.7 468.2L592.9 468.1L593.0 467.9L593.6 467.4L593.8 467.2L594.0 467.1L594.2 466.9L594.4 466.7L595.0 466.0L595.2 465.8L595.4 465.5L595.5 465.1L595.7 464.7L596.3 463.4L596.5 463.0L596.7 462.6L596.9 462.2L597.1 461.9L597.7 461.1L597.9 461.0L598.1 461.0L598.2 461.0L598.4 461.1L599.0 461.3L599.2 461.4L599.4 461.6L599.6 461.7L599.8 461.8L600.4 462.3L600.6 462.4L600.7 462.5L600.9 462.7L601.1 462.8L601.7 463.0L601.9 463.0L602.1 463.0L602.3 462.9L602.5 462.9L603.1 462.4L603.2 462.3L603.4 462.1L603.6 461.9L603.8 461.7L604.4 461.2L604.6 461.1L604.8 461.0L605.0 461.0L605.2 461.1L605.7 462.0L605.9 462.5L606.1 463.1L606.3 463.8L606.5 464.6L607.1 466.9L607.3 467.7L607.5 468.4L607.7 469.2L607.9 469.8L608.4 471.4L608.6 471.7L608.8 471.9L609.0 472.0L609.2 472.0L609.8 472.0L610.0 472.0L610.2 472.0L610.4 472.0L610.6 472.0L611.1 472.0L611.3 472.0L611.5 472.0L611.7 472.0L611.9 472.0L612.5 472.0L612.7 472.0L612.9 472.0L613.1 472.0L613.3 472.1L613.8 472.7L614.0 473.0L614.2 473.3L614.4 473.7L614.6 474.2L615.2 475.5L615.4 476.0L615.6 476.5L615.8 476.9L615.9 477.4L616.5 478.4L616.7 478.7L616.9 478.9L617.1 479.1L617.3 479.2L617.9 479.6L618.1 479.7L618.3 479.7L618.4 479.8L618.6 479.9L619.2 480.1L619.4 480.2L619.6 480.3L619.8 480.4L620.0 480.5L620.6 480.7L620.8 480.8L621.0 481.0L621.1 481.1L621.3 481.3L621.9 481.9L622.1 482.1L622.3 482.4L622.5 482.6L622.7 482.9L623.3 483.7L623.5 483.9L623.6 484.1L623.8 484.3L624.0 484.5L624.6 484.9L624.8 485.0L625.0 485.0L625.2 485.0L625.4 484.9L626.0 484.5L626.1 484.3L626.3 484.1L626.5 483.8L626.7 483.5L627.3 482.6L627.5 482.3L627.7 482.0L627.9 481.7L628.1 481.4L628.6 480.5L628.8 480.2L629.0 480.0L629.2 479.7L629.4 479.4L630.0 478.5L630.2 478.2L630.4 477.9L630.6 477.6L630.8 477.2L631.3 476.4L631.5 476.1L631.7 475.9L631.9 475.6L632.1 475.4L632.7 475.1L632.9 475.0L633.1 475.0L633.3 475.0L633.5 475.1L634.0 475.6L634.2 475.8L634.4 476.0L634.6 476.2L634.8 476.5L635.4 477.3L635.6 477.6L635.8 477.9L636.0 478.2L636.2 478.5L636.7 479.2L636.9 479.4L637.1 479.6L637.3 479.7L637.5 479.9L638.1 480.0L638.3 479.9L638.5 479.7L638.7 479.4L638.8 479.0L639.4 477.4L639.6 476.7L639.8 476.1L640.0 475.4L640.2 474.7L640.8 472.5L641.0 471.8L641.2 471.2L641.4 470.6L641.5 470.0L642.1 468.8L642.3 468.4L642.5 468.1L642.7 467.7L642.9 467.4L643.5 466.4L643.7 466.1L643.9 465.8L644.0 465.6L644.2 465.4L644.8 465.0L645.0 465.0L645.2 465.0L645.4 465.2L645.6 465.4L646.2 466.4L646.4 466.9L646.5 467.4L646.7 467.9L646.9 468.4L647.5 470.0L647.7 470.5L647.9 471.0L648.1 471.5L648.3 471.9L648.9 472.9L649.0 473.0L649.2 473.2L649.4 473.3L649.6 473.4L650.2 473.7L650.4 473.8L650.6 473.9L650.8 474.0L651.0 474.0L651.5 474.2L651.7 474.3L651.9 474.4L652.1 474.5L652.3 474.6L652.9 474.9L653.1 475.1L653.3 475.2L653.5 475.5L653.7 475.7L654.2 476.6L654.4 476.9L654.6 477.2L654.8 477.6L655.0 477.9L655.6 478.8L655.8 479.1L656.0 479.3L656.2 479.5L656.4 479.7L656.9 480.0L657.1 480.0L657.3 479.9L657.5 479.9L657.7 479.8L658.3 479.2L658.5 479.0L658.7 478.7L658.9 478.5L659.1 478.2L659.6 477.2L659.8 476.9L660.0 476.5L660.2 476.2L660.4 475.8L661.0 474.7L661.2 474.4L661.4 474.1L661.6 473.7L661.7 473.4L662.3 472.5L662.5 472.2L662.7 471.9L662.9 471.6L663.1 471.2L663.7 470.3L663.9 469.9L664.1 469.6L664.3 469.3L664.4 468.9L665.0 468.0L665.2 467.6L665.4 467.2L665.6 466.8L665.8 466.4L666.4 465.2L666.6 464.8L666.8 464.4L666.9 464.0L667.1 463.7L667.7 463.1L667.9 463.0L668.1 463.0L668.3 463.1L668.5 463.1L669.1 463.6L669.3 463.8L669.4 463.9L669.6 464.1L669.8 464.3L670.4 464.8L670.6 464.9L670.8 465.0L671.0 465.0L671.2 465.0L671.8 464.5L671.9 464.3L672.1 464.0L672.3 463.7L672.5 463.5L673.1 462.6L673.3 462.4L673.5 462.2L673.7 462.1L673.9 462.0L674.4 462.4L674.6 462.7L674.8 463.1L675.0 463.6L675.2 464.2L675.8 466.2L676.0 467.0L676.2 467.7L676.4 468.4L676.6 469.1L677.1 470.8L677.3 471.3L677.5 471.6L677.7 471.9L677.9 472.0L678.5 472.0L678.7 472.0L678.9 472.0L679.1 472.0L679.3 472.0L679.8 472.0L680.0 472.0L680.2 472.0L680.4 472.0L680.6 472.0L681.2 472.0L681.4 472.0L681.6 472.0L681.8 472.0L682.0 472.0L682.5 472.3L682.7 472.5L682.9 472.8L683.1 473.2L683.3 473.6L683.9 474.9L684.1 475.3L684.3 475.8L684.5 476.3L684.6 476.7L685.2 478.0L685.4 478.3L685.6 478.6L685.8 478.8L686.0 479.0L686.6 479.3L686.8 479.4L687.0 479.5L687.2 479.6L687.3 479.7L687.9 479.9L688.1 479.9L688.3 480.0L688.5 480.0L688.7 480.1L689.3 480.3L689.5 480.3L689.7 480.4L689.8 480.5L690.0 480.5L690.6 480.8L690.8 480.9L691.0 481.0L691.2 481.1L691.4 481.3L692.0 481.9L692.2 482.1L692.3 482.4L692.5 482.7L692.7 483.0L693.3 483.8L693.5 484.1L693.7 484.4L693.9 484.7L694.1 485.0L694.7 485.7L694.8 485.9L695.0 486.1L695.2 486.2L695.4 486.3L696.0 486.5L696.2 486.5L696.4 486.4L696.6 486.3L696.8 486.1L697.4 485.5L697.5 485.2L697.7 484.9L697.9 484.6L698.1 484.3L698.7 483.3L698.9 482.9L699.1 482.6L699.3 482.2L699.5 481.9L700.0 480.9L700.2 480.6L700.4 480.2L700.6 479.9L700.8 479.4L701.4 478.2L701.6 477.8L701.8 477.4L702.0 477.0L702.2 476.7L702.7 476.1L702.9 476.0L703.1 476.0L703.3 476.1L703.5 476.2L704.1 477.0L704.3 477.3L704.5 477.6L704.7 478.0L704.9 478.3L705.4 479.3L705.6 479.6L705.8 479.8L706.0 480.0L706.2 480.2L706.8 480.7L707.0 480.9L707.2 481.1L707.4 481.2L707.5 481.4L708.1 481.8L708.3 481.8L708.5 481.9L708.7 482.0L708.9 482.0L709.5 481.8L709.7 481.5L709.9 481.2L710.1 480.9L710.2 480.5L710.8 479.1L711.0 478.6L711.2 478.1L711.4 477.6L711.6 477.1L712.2 475.5L712.4 474.9L712.6 474.2L712.7 473.4L712.9 472.6L713.5 470.0L713.7 469.2L713.9 468.4L714.1 467.7L714.3 467.1L714.9 466.0L715.1 466.0L715.2 466.1L715.4 466.2L715.6 466.4L716.2 467.4L716.4 467.8L716.6 468.2L716.8 468.7L717.0 469.1L717.6 470.3L717.7 470.6L717.9 470.9L718.1 471.2L718.3 471.4L718.9 472.2L719.1 472.4L719.3 472.6L719.5 472.8L719.7 472.9L720.3 472.9L720.4 472.7L720.6 472.4L720.8 472.1L721.0 471.7L721.6 470.3L721.8 469.8L722.0 469.3L722.2 468.9L722.4 468.6L722.9 468.0L723.1 468.0L723.3 468.0L723.5 468.1L723.7 468.1L724.3 468.4L724.5 468.5L724.7 468.6L724.9 468.7L725.1 468.8L725.6 469.0L725.8 469.0L726.0 469.0L726.2 468.9L726.4 468.7L727.0 467.4L727.2 466.8L727.4 466.2L727.6 465.4L727.8 464.7L728.3 462.4L728.5 461.7L728.7 461.0L728.9 460.3L729.1 459.7L729.7 457.8L729.9 457.1L730.1 456.4L730.3 455.8L730.4 455.1L731.0 453.1L731.2 452.5L731.4 451.8L731.6 451.2L731.8 450.6L732.4 448.9L732.6 448.4L732.8 447.9L733.0 447.4L733.1 446.9L733.7 445.4L733.9 445.0L734.1 444.5L734.3 444.0L734.5 443.4L735.1 441.8L735.3 441.2L735.5 440.5L735.6 439.8L735.8 439.0L736.4 436.7L736.6 435.9L736.8 435.2L737.0 434.5L737.2 433.9L737.8 432.4L738.0 432.1L738.1 431.8L738.3 431.6L738.5 431.4L739.1 431.0L739.3 430.9L739.5 430.7L739.7 430.6L739.9 430.5L740.5 430.3L740.6 430.1L740.8 430.0L741.0 429.9L741.2 429.8L741.8 429.2L742.0 429.0L742.2 428.7L742.4 428.3L742.6 427.7L743.2 425.6L743.3 424.9L743.5 424.1L743.7 423.3L743.9 422.6L744.5 420.8L744.7 420.4L744.9 420.1L745.1 420.0L745.3 419.9L745.8 419.7L746.0 419.7L746.2 419.6L746.4 419.6L746.6 419.6L747.2 419.5L747.4 419.4L747.6 419.4L747.8 419.4L748.0 419.3L748.5 419.2L748.7 419.1L748.9 419.0L749.1 418.9L749.3 418.7L749.9 417.2L750.1 416.6L750.3 415.9L750.5 415.2L750.7 414.4L751.2 412.2L751.4 411.5L751.6 410.9L751.8 410.4L752.0 410.0L752.6 409.0L752.8 408.7L753.0 408.4L753.2 408.1L753.4 407.8L753.9 407.0L754.1 406.8L754.3 406.6L754.5 406.4L754.7 406.2L755.3 405.8L755.5 405.7L755.7 405.6L755.9 405.6L756.0 405.5L756.6 405.2L756.8 405.1L757.0 405.0L757.2 404.8L757.4 404.6L758.0 403.6L758.2 403.1L758.4 402.7L758.5 402.2L758.7 401.8L759.3 400.4L759.5 400.0L759.7 399.6L759.9 399.2L760.1 398.9L760.7 397.9L760.9 397.6L761.0 397.3L761.2 397.0L761.4 396.8L762.0 395.9L762.2 395.7L762.4 395.4L762.6 395.1L762.8 394.8L763.4 394.0L763.5 393.7L763.7 393.4L763.9 393.1L764.1 392.8L764.7 391.9L764.9 391.7L765.1 391.4L765.3 391.1L765.5 390.8L766.1 390.0L766.2 389.7L766.4 389.4L766.6 389.0L766.8 388.7L767.4 387.5L767.6 387.0L767.8 386.6L768.0 386.1L768.2 385.5L768.7 382.8L768.9 381.7L769.1 380.6L769.3 379.4L769.5 378.4L770.1 375.6L770.3 374.8L770.5 374.1L770.7 373.3L770.9 372.6L771.4 370.4L771.6 369.7L771.8 369.1L772.0 368.5L772.2 367.9L772.8 366.4L773.0 366.0L773.2 365.7L773.4 365.3L773.6 365.0L774.1 364.1L774.3 363.9L774.5 363.6L774.7 363.4L774.9 363.1L775.5 362.5L775.7 362.3L775.9 362.1L776.1 361.9L776.3 361.8L776.8 361.4L777.0 361.4L777.2 361.3L777.4 361.2L777.6 361.1L778.2 360.8L778.4 360.6L778.6 360.5L778.8 360.3L778.9 360.1L779.5 358.4L779.7 357.5L779.9 356.4L780.1 355.2L780.3 354.0L780.9 350.6L781.1 349.7L781.3 348.8L781.4 348.0L781.6 347.1L782.2 344.4L782.4 343.6L782.6 342.8L782.8 342.0L783.0 341.2L783.6 339.2L783.8 338.6L783.9 338.1L784.1 337.7L784.3 337.2L784.9 335.9L785.1 335.4L785.3 335.0L785.5 334.6L785.7 334.3L786.3 333.4L786.4 333.2L786.6 333.1L786.8 333.0L787.0 333.0L787.6 333.2L787.8 333.3L788.0 333.5L788.2 333.7L788.4 333.9L789.0 334.4L789.1 334.6L789.3 334.7L789.5 334.9L789.7 335.0L790.3 334.9L790.5 334.7L790.7 334.5L790.9 334.2L791.1 333.8L791.6 332.7L791.8 332.3L792.0 332.0L792.2 331.7L792.4 331.4L793.0 331.0L793.2 331.0L793.4 331.0L793.6 331.0L793.8 331.0L794.3 331.0L794.5 331.0L794.7 331.0L794.9 331.0L795.1 331.0L795.7 331.0L795.9 331.0L796.1 331.0L796.3 331.0L796.5 331.0L797.0 331.0L797.2 330.9L797.4 330.7L797.6 330.5L797.8 330.1L798.4 328.6L798.6 328.0L798.8 327.3L799.0 326.6L799.2 326.0L799.7 323.9L799.9 323.3L800.1 322.6L800.3 322.0L800.5 321.3L801.1 319.0L801.3 318.2L801.5 317.3L801.7 316.5L801.8 315.7L802.4 313.2L802.6 312.5L802.8 311.7L803.0 311.0L803.2 310.3L803.8 308.3L804.0 307.6L804.2 307.0L804.3 306.3L804.5 305.7L805.1 303.8L805.3 303.2L805.5 302.6L805.7 302.0L805.9 301.4L806.5 299.4L806.7 298.8L806.8 298.1L807.0 297.4L807.2 296.7L807.8 294.7L808.0 294.1L808.2 293.6L808.4 293.1L808.6 292.7L809.2 291.8L809.4 291.7L809.5 291.5L809.7 291.4L809.9 291.3L810.5 291.0L810.7 290.9L810.9 290.8L811.1 290.7L811.3 290.6L811.9 290.1L812.0 289.9L812.2 289.7L812.4 289.3L812.6 288.8L813.2 286.9L813.4 286.2L813.6 285.5L813.8 284.8L814.0 284.2L814.5 282.6L814.7 282.3L814.9 282.0L815.1 281.9L815.3 281.8L815.9 281.5L816.1 281.4L816.3 281.4L816.5 281.3L816.7 281.2L817.2 281.1L817.4 281.0L817.6 281.0L817.8 281.0L818.0 281.0L818.6 281.6L818.8 282.0L819.0 282.4L819.2 282.9L819.4 283.3L819.9 284.0L820.1 284.0L820.3 283.9L820.5 283.8L820.7 283.6L821.3 282.9L821.5 282.6L821.7 282.3L821.9 282.0L822.1 281.6L822.6 280.6L822.8 280.3L823.0 280.0L823.2 279.7L823.4 279.5L824.0 279.0L824.2 278.9L824.4 278.9L824.6 278.8L824.7 278.7L825.3 278.6L825.5 278.6L825.7 278.5L825.9 278.5L826.1 278.5L826.7 278.4L826.9 278.3L827.1 278.3L827.2 278.2L827.4 278.2L828.0 278.0L828.2 277.9L828.4 277.8L828.6 277.6L828.8 277.5L829.4 276.9L829.6 276.7L829.7 276.4L829.9 276.2L830.1 276.0L830.7 275.3L830.9 275.0L831.1 274.8L831.3 274.6L831.5 274.4L832.1 274.0L832.3 273.8L832.4 273.7L832.6 273.6L832.8 273.5L833.4 273.3L833.6 273.2L833.8 273.2L834.0 273.1L834.2 273.0L834.8 272.8L834.9 272.7L835.1 272.6L835.3 272.5L835.5 272.4L836.1 271.9L836.3 271.7L836.5 271.4L836.7 271.0L836.9 270.6L837.4 269.0L837.6 268.5L837.8 267.8L838.0 267.2L838.2 266.6L838.8 264.7L839.0 264.0L839.2 263.4L839.4 262.7L839.6 261.9L840.1 259.3L840.3 258.3L840.5 257.4L840.7 256.5L840.9 255.7L841.5 253.4L841.7 252.8L841.9 252.3L842.1 251.9L842.3 251.5L842.8 250.5L843.0 250.2L843.2 249.9L843.4 249.6L843.6 249.4L844.2 248.7L844.4 248.5L844.6 248.4L844.8 248.2L845.0 248.0L845.5 247.7L845.7 247.6L845.9 247.5L846.1 247.4L846.3 247.3L846.9 247.1L847.1 247.1L847.3 247.0L847.5 246.9L847.6 246.9L848.2 246.6L848.4 246.5L848.6 246.3L848.8 246.2L849.0 246.0L849.6 245.0L849.8 244.4L850.0 243.8L850.1 243.2L850.3 242.5L850.9 240.3L851.1 239.6L851.3 238.9L851.5 238.1L851.7 237.3L852.3 234.7L852.5 233.8L852.6 232.9L852.8 231.9L853.0 230.9L853.6 227.7L853.8 226.4L854.0 224.9L854.2 223.3L854.4 221.7L855.0 219.0L855.2 218.7L855.3 218.4L855.5 218.1L855.7 217.9L856.3 217.4L856.5 217.3L856.7 217.3L856.9 217.3L857.1 217.4L857.7 217.9L857.8 218.2L858.0 218.4L858.2 218.7L858.4 219.0L859.0 219.8L859.2 220.1L859.4 220.3L859.6 220.5L859.8 220.7L860.3 220.9L860.5 220.8L860.7 220.6L860.9 220.3L861.1 220.0L861.7 218.6L861.9 218.1L862.1 217.7L862.3 217.3L862.5 216.9L863.0 216.4L863.2 216.4L863.4 216.3L863.6 216.3L863.8 216.3L864.4 216.2L864.6 216.2L864.8 216.2L865.0 216.2L865.2 216.2L865.7 216.1L865.9 216.1L866.1 216.1L866.3 216.1L866.5 216.1L867.1 215.9L867.3 215.8L867.5 215.7L867.7 215.4L867.9 215.1L868.4 213.8L868.6 213.4L868.8 212.9L869.0 212.3L869.2 211.6L869.8 208.8L870.0 207.7L870.2 206.6L870.4 205.5L870.5 204.5L871.1 201.9L871.3 201.2L871.5 200.6L871.7 200.0L871.9 199.4L872.5 197.8L872.7 197.3L872.9 196.8L873.0 196.3L873.2 195.9L873.8 194.4L874.0 193.9L874.2 193.4L874.4 192.9L874.6 192.4L875.2 190.8L875.4 190.3L875.5 189.7L875.7 189.2L875.9 188.7L876.5 187.1L876.7 186.5L876.9 186.0L877.1 185.4L877.3 184.8L877.9 183.1L878.1 182.4L878.2 181.7L878.4 180.9L878.6 180.2L879.2 178.6L879.4 178.3L879.6 178.0L879.8 177.8L880.0 177.6L880.6 177.0L880.7 176.9L880.9 176.7L881.1 176.6L881.3 176.5L881.9 176.0L882.1 175.8L882.3 175.6L882.5 175.4L882.7 175.2L883.2 174.1L883.4 173.6L883.6 173.1L883.8 172.5L884.0 171.9L884.6 170.1L884.8 169.5L885.0 168.9L885.2 168.4L885.4 167.9L885.9 167.0L886.1 166.8L886.3 166.6L886.5 166.5L886.7 166.4L887.3 166.1L887.5 166.0L887.7 166.0L887.9 166.0L888.1 166.2L888.6 167.5L888.8 168.1L889.0 168.7L889.2 169.2L889.4 169.7L890.0 170.5L890.2 170.5L890.4 170.3L890.6 170.1L890.8 169.7L891.3 168.4L891.5 167.9L891.7 167.3L891.9 166.7L892.1 166.2L892.7 164.7L892.9 164.2L893.1 163.9L893.3 163.6L893.4 163.4L894.0 163.2L894.2 163.1L894.4 163.1L894.6 163.0L894.8 163.0L895.4 162.9L895.6 162.9L895.8 162.9L895.9 162.9L896.1 163.0L896.7 163.6L896.9 163.9L897.1 164.2L897.3 164.4L897.5 164.7L898.1 165.1L898.3 165.1L898.5 164.9L898.6 164.8L898.8 164.5L899.4 163.4L899.6 162.9L899.8 162.4L900.0 162.0L900.2 161.5L900.8 160.1L901.0 159.8L901.1 159.4L901.3 159.1L901.5 158.9L902.1 158.6L902.3 158.5L902.5 158.5L902.7 158.4L902.9 158.4L903.5 158.2L903.6 158.2L903.8 158.2L904.0 158.1L904.2 158.1L904.8 158.0L905.0 157.9L905.2 157.9L905.4 157.8L905.6 157.7L906.1 157.5L906.3 157.4L906.5 157.2L906.7 156.9L906.9 156.6L907.5 155.5L907.7 155.0L907.9 154.6L908.1 154.1L908.3 153.6L908.8 151.4L909.0 150.6L909.2 149.7L909.4 148.8L909.6 148.0L910.2 145.5L910.4 144.8L910.6 144.0L910.8 143.3L911.0 142.5L911.5 140.0L911.7 139.2L911.9 138.5L912.1 137.8L912.3 137.1L912.9 135.4L913.1 135.0L913.3 134.7L913.5 134.4L913.7 134.2L914.2 133.7L914.4 133.6L914.6 133.5L914.8 133.4L915.0 133.2L915.6 132.9L915.8 132.9L916.0 132.8L916.2 132.7L916.3 132.6L916.9 132.3L917.1 132.2L917.3 132.1L917.5 132.0L917.7 131.9L918.3 131.7L918.5 131.6L918.7 131.6L918.8 131.5L919.0 131.4L919.6 131.0L919.8 130.8L920.0 130.5L920.2 130.1L920.4 129.6L921.0 127.6L921.2 126.8L921.4 125.9L921.5 125.0L921.7 124.1L922.3 121.4L922.5 120.5L922.7 119.4L922.9 118.2L923.1 116.9L923.7 113.0L923.9 111.9L924.0 110.9L924.2 110.1L924.4 109.3L925.0 107.2L925.2 106.5L925.4 105.8L925.6 105.2L925.8 104.7L926.4 103.4L926.5 103.2L926.7 103.0L926.9 103.0L927.1 103.1L927.7 103.6L927.9 103.9L928.1 104.2L928.3 104.5L928.5 104.8L929.0 105.8L929.2 106.1L929.4 106.3L929.6 106.5L929.8 106.6L930.4 106.5L930.6 106.3L930.8 106.1L931.0 105.9L931.2 105.6L931.7 104.6L931.9 104.1L932.1 103.7L932.8 103.2L933.0 103.2L933.2 88.6L933.4 88.6L933.6 103.0L933.8 103.0L933.9 102.9L934.1 102.9L934.3 102.8L934.5 88.2L934.7 88.2L934.9 102.6L935.1 102.6L935.3 102.5L935.5 102.4L935.7 102.4L935.9 87.8L936.1 87.7L936.3 102.2L936.4 102.1L936.6 102.1L936.8 102.0L937.0 101.9L937.2 87.4L937.4 87.3L937.6 101.7L937.8 101.7L938.0 101.6L938.2 101.4L938.4 101.3L938.6 86.6L938.8 86.5L939.0 100.8L939.1 100.6L939.3 100.2L939.5 99.6L939.7 99.0L939.9 83.9L940.1 83.3L940.3 97.2L940.5 96.5L940.7 95.9L940.9 95.3L941.1 94.7L941.3 79.5L941.5 78.9L941.6 92.8L941.8 92.2L942.0 91.5L942.2 90.9L942.4 90.3L942.6 75.2L942.8 74.5L943.0 88.4L943.2 87.8L943.4 87.2L943.6 86.6L943.8 86.0L944.0 70.9L944.1 70.3" stroke="#0072B2" stroke-width="2.4" fill="none" stroke-linejoin="round" stroke-linecap="butt"/>
<g fill="#f00" fill-opacity="0.6" stroke="#f00" stroke-opacity="0.6" stroke-width="1.39"><circle cx="933.0" cy="190.5" r="2.08"/><circle cx="933.2" cy="189.0" r="2.08"/><circle cx="933.4" cy="191.0" r="2.08"/><circle cx="933.6" cy="188.0" r="2.08"/><circle cx="934.2" cy="185.0" r="2.08"/><circle cx="934.4" cy="184.0" r="2.08"/><circle cx="934.6" cy="181.0" r="2.08"/><circle cx="935.0" cy="180.0" r="2.08"/><circle cx="935.2" cy="176.0" r="2.08"/><circle cx="935.4" cy="171.0" r="2.08"/><circle cx="936.0" cy="176.0" r="2.08"/><circle cx="936.2" cy="175.0" r="2.08"/><circle cx="936.4" cy="163.0" r="2.08"/><circle cx="936.6" cy="167.0" r="2.08"/><circle cx="937.2" cy="167.0" r="2.08"/><circle cx="937.4" cy="170.0" r="2.08"/><circle cx="937.6" cy="174.0" r="2.08"/><circle cx="937.8" cy="173.0" r="2.08"/><circle cx="938.2" cy="153.5" r="2.08"/><circle cx="938.4" cy="149.5" r="2.08"/><circle cx="938.6" cy="144.3" r="2.08"/></g>
<rect x="79.5" y="15.5" width="906.0" height="527.0" fill="none" stroke="#000" stroke-width="1.11"/>
<path d="M159.50 542.5v5.3M299.50 542.5v5.3M440.50 542.5v5.3M581.50 542.5v5.3M721.50 542.5v5.3M862.50 542.5v5.3M79.5 59.50h-5.3M79.5 162.50h-5.3M79.5 265.50h-5.3M79.5 368.50h-5.3M79.5 471.50h-5.3" stroke="#000" stroke-width="1.11" fill="none"/>
<text x="158.90" y="562.0" text-anchor="middle">2015</text><text x="298.90" y="562.0" text-anchor="middle">2017</text><text x="439.90" y="562.0" text-anchor="middle">2019</text><text x="580.90" y="562.0" text-anchor="middle">2021</text><text x="720.90" y="562.0" text-anchor="middle">2023</text><text x="861.90" y="562.0" text-anchor="middle">2025</text><text x="70.4" y="63.90" text-anchor="end">2500</text><text x="70.4" y="166.90" text-anchor="end">2000</text><text x="70.4" y="269.90" text-anchor="end">1500</text><text x="70.4" y="372.90" text-anchor="end">1000</text><text x="70.4" y="475.90" text-anchor="end">500</text><text x="532.5" y="582.2" text-anchor="middle">ds</text><text transform="translate(24.6 278.7) rotate(-90)" text-anchor="middle">y</text>
</svg>
</body></html>
